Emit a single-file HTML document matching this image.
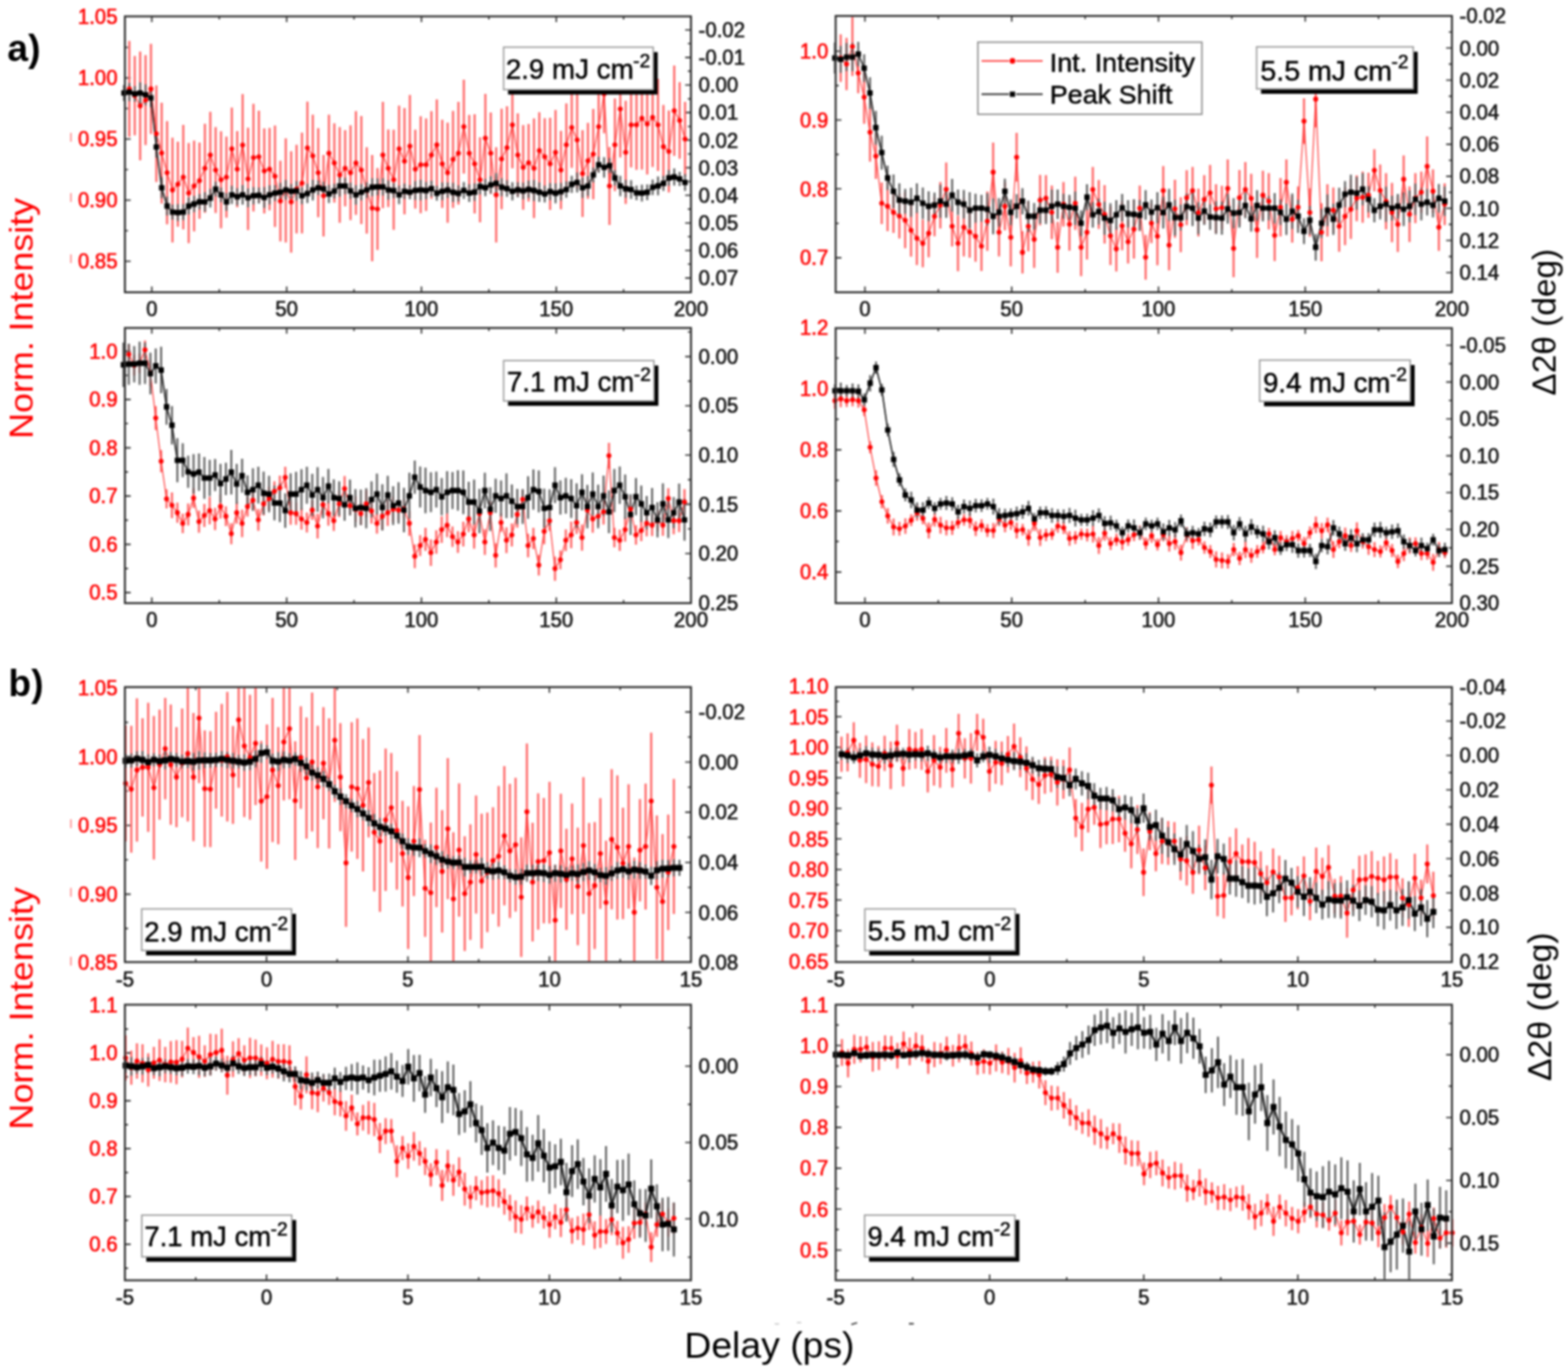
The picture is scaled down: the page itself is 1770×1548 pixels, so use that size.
<!DOCTYPE html>
<html><head><meta charset="utf-8"><title>Figure</title><style>html,body{margin:0;padding:0;background:#fff;}svg{display:block;filter:blur(1px);}</style></head><body>
<svg width="1770" height="1548" viewBox="0 0 1770 1548" font-family='"Liberation Sans", Arial, sans-serif' font-size="23">
<rect width="1770" height="1548" fill="#fff"/>
<g id="a1">
<path d="M171.4 330.0v-6.5M171.4 18.5v6.5M323.6 330.0v-6.5M323.6 18.5v6.5M475.7 330.0v-6.5M475.7 18.5v6.5M627.9 330.0v-6.5M627.9 18.5v6.5M247.5 330.0v-3.5M247.5 18.5v3.5M399.6 330.0v-3.5M399.6 18.5v3.5M551.8 330.0v-3.5M551.8 18.5v3.5M703.9 330.0v-3.5M703.9 18.5v3.5M141.0 295.0h6.5M141.0 226.0h6.5M141.0 157.0h6.5M141.0 88.0h6.5M141.0 260.5h3.5M141.0 191.5h3.5M141.0 122.5h3.5M141.0 53.5h3.5M780.0 33.7h-6.5M780.0 64.9h-6.5M780.0 96.0h-6.5M780.0 127.1h-6.5M780.0 158.3h-6.5M780.0 189.4h-6.5M780.0 220.5h-6.5M780.0 251.7h-6.5M780.0 282.8h-6.5M780.0 313.9h-6.5M780.0 49.3h-3.5M780.0 80.4h-3.5M780.0 111.6h-3.5M780.0 142.7h-3.5M780.0 173.8h-3.5M780.0 205.0h-3.5M780.0 236.1h-3.5M780.0 267.2h-3.5M780.0 298.3h-3.5" stroke="#2e2e2e" stroke-width="1.6" fill="none"/>
<g fill="#111" stroke="#111" stroke-width="0.6"><text x="171.4" y="357.3" text-anchor="middle">0</text><text x="323.6" y="357.3" text-anchor="middle">50</text><text x="475.7" y="357.3" text-anchor="middle">100</text><text x="627.9" y="357.3" text-anchor="middle">150</text><text x="780.0" y="357.3" text-anchor="middle">200</text></g>
<g fill="#ff0000" stroke="#ff0000" stroke-width="0.6"><text x="132.7" y="303.2" text-anchor="end">0.85</text><text x="132.7" y="234.2" text-anchor="end">0.90</text><text x="132.7" y="165.2" text-anchor="end">0.95</text><text x="132.7" y="96.2" text-anchor="end">1.00</text><text x="132.7" y="27.2" text-anchor="end">1.05</text></g>
<g fill="#111" stroke="#111" stroke-width="0.6"><text x="788.5" y="41.9">-0.02</text><text x="788.5" y="73.1">-0.01</text><text x="788.5" y="104.2">0.00</text><text x="788.5" y="135.3">0.01</text><text x="788.5" y="166.5">0.02</text><text x="788.5" y="197.6">0.03</text><text x="788.5" y="228.7">0.04</text><text x="788.5" y="259.9">0.05</text><text x="788.5" y="291.0">0.06</text><text x="788.5" y="322.1">0.07</text></g>
<path d="M146.0 46.2V154.6M152.1 63.3V152.7M158.2 58.3V180.9M164.3 62.3V163.7M170.4 49.5V151.3M176.5 96.4V205.6M182.5 115.9V229.7M188.6 136.7V253.3M194.7 155.4V273.8M200.8 159.9V256.1M206.9 140.9V259.1M213.0 161.5V274.5M219.1 158.7V261.3M225.2 161.0V247.0M231.3 139.7V240.3M237.4 126.2V223.8M243.4 143.4V240.6M249.5 148.2V257.8M255.6 154.2V245.8M261.7 121.5V214.5M267.8 148.1V233.9M273.9 106.2V221.2M280.0 144.2V259.8M286.1 117.3V238.7M292.2 124.9V229.1M298.3 145.1V240.9M304.3 144.5V237.5M310.4 141.7V256.3M316.5 181.5V272.5M322.6 156.2V273.8M328.7 170.7V285.3M334.8 163.5V263.5M340.9 149.8V263.6M347.0 114.7V219.3M353.1 129.5V222.5M359.2 144.8V245.2M365.2 175.0V267.0M371.3 129.6V216.4M377.4 139.2V228.8M383.5 143.6V251.6M389.6 147.0V233.0M395.7 141.5V248.5M401.8 125.6V242.4M407.9 130.9V253.1M414.0 166.2V263.8M420.1 174.9V295.1M426.1 189.8V282.2M432.2 115.1V234.9M438.3 146.3V233.7M444.4 146.4V259.6M450.5 119.2V216.8M456.6 122.0V242.0M462.7 107.2V222.8M468.8 146.4V235.6M474.9 131.2V240.8M481.0 133.8V238.2M487.0 125.5V224.5M493.1 112.3V214.7M499.2 135.3V234.7M505.3 138.4V251.6M511.4 125.2V234.8M517.5 115.0V231.0M523.6 89.9V196.1M529.7 129.7V216.3M535.8 129.0V241.0M541.9 155.0V251.0M547.9 105.9V206.1M554.0 127.1V218.9M560.1 166.3V273.7M566.2 122.7V236.3M572.3 120.0V213.4M578.4 92.1V189.9M584.5 128.0V222.0M590.6 141.2V236.8M596.7 139.9V227.5M602.8 133.8V246.2M608.8 126.7V213.3M614.9 133.4V220.6M621.0 132.9V237.1M627.1 124.2V219.8M633.2 147.7V236.3M639.3 116.7V210.3M645.4 98.5V189.5M651.5 102.9V213.1M657.6 147.0V245.0M663.7 138.8V224.4M669.7 123.0V225.0M675.8 91.6V194.4M681.9 61.5V150.5M688.0 165.9V254.1M694.1 111.3V215.7M700.2 68.3V177.7M706.3 113.8V230.2M712.4 92.9V189.1M718.5 90.3V191.7M724.6 75.7V191.5M730.6 83.0V197.0M736.7 76.7V188.5M742.8 88.9V193.1M748.9 118.4V212.8M755.0 124.7V217.3M761.1 74.0V176.0M767.2 92.8V179.2M773.3 115.1V198.9" stroke="#ff6666" stroke-width="2.4" fill="none" opacity="1.0"/>
<path d="M146.0 100.4L152.1 108.0L158.2 119.6L164.3 113.0L170.4 100.4L176.5 151.0L182.5 172.8L188.6 195.0L194.7 214.6L200.8 208.0L206.9 200.0L213.0 218.0L219.1 210.0L225.2 204.0L231.3 190.0L237.4 175.0L243.4 192.0L249.5 203.0L255.6 200.0L261.7 168.0L267.8 191.0L273.9 163.7L280.0 202.0L286.1 178.0L292.2 177.0L298.3 193.0L304.3 191.0L310.4 199.0L316.5 227.0L322.6 215.0L328.7 228.0L334.8 213.5L340.9 206.7L347.0 167.0L353.1 176.0L359.2 195.0L365.2 221.0L371.3 173.0L377.4 184.0L383.5 197.6L389.6 190.0L395.7 195.0L401.8 184.0L407.9 192.0L414.0 215.0L420.1 235.0L426.1 236.0L432.2 175.0L438.3 190.0L444.4 203.0L450.5 168.0L456.6 182.0L462.7 165.0L468.8 191.0L474.9 186.0L481.0 186.0L487.0 175.0L493.1 163.5L499.2 185.0L505.3 195.0L511.4 180.0L517.5 173.0L523.6 143.0L529.7 173.0L535.8 185.0L541.9 203.0L547.9 156.0L554.0 173.0L560.1 220.0L566.2 179.5L572.3 166.7L578.4 141.0L584.5 175.0L590.6 189.0L596.7 183.7L602.8 190.0L608.8 170.0L614.9 177.0L621.0 185.0L627.1 172.0L633.2 192.0L639.3 163.5L645.4 144.0L651.5 158.0L657.6 196.0L663.7 181.6L669.7 174.0L675.8 143.0L681.9 106.0L688.0 210.0L694.1 163.5L700.2 123.0L706.3 172.0L712.4 141.0L718.5 141.0L724.6 133.6L730.6 140.0L736.7 132.6L742.8 141.0L748.9 165.6L755.0 171.0L761.1 125.0L767.2 136.0L773.3 157.0" stroke="#ff2a2a" stroke-width="1.1" fill="none"/>
<path d="M139.9 96.1V113.9M146.0 93.8V114.2M152.1 97.2V114.8M158.2 93.1V116.9M164.3 95.3V118.7M170.4 100.3V120.9M176.5 154.1V177.9M182.5 200.3V223.7M188.6 222.1V243.3M194.7 231.0V248.0M200.8 230.6V249.4M206.9 230.5V248.5M213.0 223.1V242.3M219.1 221.3V239.5M225.2 219.1V236.5M231.3 217.1V238.9M237.4 213.2V234.2M243.4 205.3V221.7M249.5 211.8V228.2M255.6 218.0V238.0M261.7 209.7V230.3M267.8 212.5V231.8M273.9 209.1V230.9M280.0 212.7V233.9M286.1 211.2V230.8M292.2 211.7V229.7M298.3 211.2V234.8M304.3 209.2V230.8M310.4 209.0V227.1M316.5 206.6V227.4M322.6 203.2V225.6M328.7 207.8V224.2M334.8 204.5V226.6M340.9 211.6V230.4M347.0 207.6V229.3M353.1 203.0V226.2M359.2 203.7V220.3M365.2 205.2V221.4M371.3 208.7V229.3M377.4 207.4V224.0M383.5 198.2V221.9M389.6 200.7V219.3M395.7 206.2V224.6M401.8 209.1V230.9M407.9 207.7V226.2M414.0 205.8V223.4M420.1 201.2V221.5M426.1 201.4V220.6M432.2 201.3V220.7M438.3 203.7V225.5M444.4 206.7V223.7M450.5 209.4V230.6M456.6 207.3V224.7M462.7 208.9V225.1M468.8 204.4V225.7M474.9 202.9V226.3M481.0 205.4V224.9M487.0 203.9V222.0M493.1 209.8V226.5M499.2 206.1V225.9M505.3 206.0V223.4M511.4 206.4V227.9M517.5 209.2V227.5M523.6 205.6V224.5M529.7 207.9V228.1M535.8 207.0V226.7M541.9 201.8V219.4M547.9 202.1V221.6M554.0 198.9V218.5M560.1 195.6V218.4M566.2 201.3V221.4M572.3 203.6V222.3M578.4 205.7V226.3M584.5 205.8V222.8M590.6 206.2V224.9M596.7 204.1V223.6M602.8 203.2V227.0M608.8 206.0V228.0M614.9 209.5V228.5M621.0 206.8V225.9M627.1 207.0V229.4M633.2 206.5V226.5M639.3 204.8V223.2M645.4 198.4V217.8M651.5 194.7V217.3M657.6 200.4V223.6M663.7 198.7V221.3M669.7 189.2V206.0M675.8 177.0V195.0M681.9 177.5V200.5M688.0 178.4V195.6M694.1 192.1V209.5M700.2 198.4V221.6M706.3 203.1V223.3M712.4 203.5V224.5M718.5 209.4V226.1M724.6 208.4V227.6M730.6 208.3V226.0M736.7 202.8V220.2M742.8 199.3V220.5M748.9 198.6V215.4M755.0 191.9V209.7M761.1 190.2V209.4M767.2 193.9V210.1M773.3 196.6V215.4" stroke="#5e5e5e" stroke-width="2.2" fill="none" opacity="1.0"/>
<path d="M139.9 105.0L146.0 104.0L152.1 106.0L158.2 105.0L164.3 107.0L170.4 110.6L176.5 166.0L182.5 212.0L188.6 232.7L194.7 239.5L200.8 240.0L206.9 239.5L213.0 232.7L219.1 230.4L225.2 227.8L231.3 228.0L237.4 223.7L243.4 213.5L249.5 220.0L255.6 228.0L261.7 220.0L267.8 222.1L273.9 220.0L280.0 223.3L286.1 221.0L292.2 220.7L298.3 223.0L304.3 220.0L310.4 218.1L316.5 217.0L322.6 214.4L328.7 216.0L334.8 215.6L340.9 221.0L347.0 218.5L353.1 214.6L359.2 212.0L365.2 213.3L371.3 219.0L377.4 215.7L383.5 210.1L389.6 210.0L395.7 215.4L401.8 220.0L407.9 216.9L414.0 214.6L420.1 211.3L426.1 211.0L432.2 211.0L438.3 214.6L444.4 215.2L450.5 220.0L456.6 216.0L462.7 217.0L468.8 215.0L474.9 214.6L481.0 215.1L487.0 212.9L493.1 218.2L499.2 216.0L505.3 214.7L511.4 217.2L517.5 218.4L523.6 215.1L529.7 218.0L535.8 216.8L541.9 210.6L547.9 211.9L554.0 208.7L560.1 207.0L566.2 211.4L572.3 212.9L578.4 216.0L584.5 214.3L590.6 215.5L596.7 213.9L602.8 215.1L608.8 217.0L614.9 219.0L621.0 216.3L627.1 218.2L633.2 216.5L639.3 214.0L645.4 208.1L651.5 206.0L657.6 212.0L663.7 210.0L669.7 197.6L675.8 186.0L681.9 189.0L688.0 187.0L694.1 200.8L700.2 210.0L706.3 213.2L712.4 214.0L718.5 217.8L724.6 218.0L730.6 217.1L736.7 211.5L742.8 209.9L748.9 207.0L755.0 200.8L761.1 199.8L767.2 202.0L773.3 206.0" stroke="#1a1a1a" stroke-width="1.6" fill="none"/>
<path d="M143.2 100.4a2.8 2.8 0 1 0 5.6 0a2.8 2.8 0 1 0 -5.6 0M149.3 108.0a2.8 2.8 0 1 0 5.6 0a2.8 2.8 0 1 0 -5.6 0M155.4 119.6a2.8 2.8 0 1 0 5.6 0a2.8 2.8 0 1 0 -5.6 0M161.5 113.0a2.8 2.8 0 1 0 5.6 0a2.8 2.8 0 1 0 -5.6 0M167.6 100.4a2.8 2.8 0 1 0 5.6 0a2.8 2.8 0 1 0 -5.6 0M173.7 151.0a2.8 2.8 0 1 0 5.6 0a2.8 2.8 0 1 0 -5.6 0M179.7 172.8a2.8 2.8 0 1 0 5.6 0a2.8 2.8 0 1 0 -5.6 0M185.8 195.0a2.8 2.8 0 1 0 5.6 0a2.8 2.8 0 1 0 -5.6 0M191.9 214.6a2.8 2.8 0 1 0 5.6 0a2.8 2.8 0 1 0 -5.6 0M198.0 208.0a2.8 2.8 0 1 0 5.6 0a2.8 2.8 0 1 0 -5.6 0M204.1 200.0a2.8 2.8 0 1 0 5.6 0a2.8 2.8 0 1 0 -5.6 0M210.2 218.0a2.8 2.8 0 1 0 5.6 0a2.8 2.8 0 1 0 -5.6 0M216.3 210.0a2.8 2.8 0 1 0 5.6 0a2.8 2.8 0 1 0 -5.6 0M222.4 204.0a2.8 2.8 0 1 0 5.6 0a2.8 2.8 0 1 0 -5.6 0M228.5 190.0a2.8 2.8 0 1 0 5.6 0a2.8 2.8 0 1 0 -5.6 0M234.6 175.0a2.8 2.8 0 1 0 5.6 0a2.8 2.8 0 1 0 -5.6 0M240.6 192.0a2.8 2.8 0 1 0 5.6 0a2.8 2.8 0 1 0 -5.6 0M246.7 203.0a2.8 2.8 0 1 0 5.6 0a2.8 2.8 0 1 0 -5.6 0M252.8 200.0a2.8 2.8 0 1 0 5.6 0a2.8 2.8 0 1 0 -5.6 0M258.9 168.0a2.8 2.8 0 1 0 5.6 0a2.8 2.8 0 1 0 -5.6 0M265.0 191.0a2.8 2.8 0 1 0 5.6 0a2.8 2.8 0 1 0 -5.6 0M271.1 163.7a2.8 2.8 0 1 0 5.6 0a2.8 2.8 0 1 0 -5.6 0M277.2 202.0a2.8 2.8 0 1 0 5.6 0a2.8 2.8 0 1 0 -5.6 0M283.3 178.0a2.8 2.8 0 1 0 5.6 0a2.8 2.8 0 1 0 -5.6 0M289.4 177.0a2.8 2.8 0 1 0 5.6 0a2.8 2.8 0 1 0 -5.6 0M295.5 193.0a2.8 2.8 0 1 0 5.6 0a2.8 2.8 0 1 0 -5.6 0M301.5 191.0a2.8 2.8 0 1 0 5.6 0a2.8 2.8 0 1 0 -5.6 0M307.6 199.0a2.8 2.8 0 1 0 5.6 0a2.8 2.8 0 1 0 -5.6 0M313.7 227.0a2.8 2.8 0 1 0 5.6 0a2.8 2.8 0 1 0 -5.6 0M319.8 215.0a2.8 2.8 0 1 0 5.6 0a2.8 2.8 0 1 0 -5.6 0M325.9 228.0a2.8 2.8 0 1 0 5.6 0a2.8 2.8 0 1 0 -5.6 0M332.0 213.5a2.8 2.8 0 1 0 5.6 0a2.8 2.8 0 1 0 -5.6 0M338.1 206.7a2.8 2.8 0 1 0 5.6 0a2.8 2.8 0 1 0 -5.6 0M344.2 167.0a2.8 2.8 0 1 0 5.6 0a2.8 2.8 0 1 0 -5.6 0M350.3 176.0a2.8 2.8 0 1 0 5.6 0a2.8 2.8 0 1 0 -5.6 0M356.4 195.0a2.8 2.8 0 1 0 5.6 0a2.8 2.8 0 1 0 -5.6 0M362.4 221.0a2.8 2.8 0 1 0 5.6 0a2.8 2.8 0 1 0 -5.6 0M368.5 173.0a2.8 2.8 0 1 0 5.6 0a2.8 2.8 0 1 0 -5.6 0M374.6 184.0a2.8 2.8 0 1 0 5.6 0a2.8 2.8 0 1 0 -5.6 0M380.7 197.6a2.8 2.8 0 1 0 5.6 0a2.8 2.8 0 1 0 -5.6 0M386.8 190.0a2.8 2.8 0 1 0 5.6 0a2.8 2.8 0 1 0 -5.6 0M392.9 195.0a2.8 2.8 0 1 0 5.6 0a2.8 2.8 0 1 0 -5.6 0M399.0 184.0a2.8 2.8 0 1 0 5.6 0a2.8 2.8 0 1 0 -5.6 0M405.1 192.0a2.8 2.8 0 1 0 5.6 0a2.8 2.8 0 1 0 -5.6 0M411.2 215.0a2.8 2.8 0 1 0 5.6 0a2.8 2.8 0 1 0 -5.6 0M417.3 235.0a2.8 2.8 0 1 0 5.6 0a2.8 2.8 0 1 0 -5.6 0M423.3 236.0a2.8 2.8 0 1 0 5.6 0a2.8 2.8 0 1 0 -5.6 0M429.4 175.0a2.8 2.8 0 1 0 5.6 0a2.8 2.8 0 1 0 -5.6 0M435.5 190.0a2.8 2.8 0 1 0 5.6 0a2.8 2.8 0 1 0 -5.6 0M441.6 203.0a2.8 2.8 0 1 0 5.6 0a2.8 2.8 0 1 0 -5.6 0M447.7 168.0a2.8 2.8 0 1 0 5.6 0a2.8 2.8 0 1 0 -5.6 0M453.8 182.0a2.8 2.8 0 1 0 5.6 0a2.8 2.8 0 1 0 -5.6 0M459.9 165.0a2.8 2.8 0 1 0 5.6 0a2.8 2.8 0 1 0 -5.6 0M466.0 191.0a2.8 2.8 0 1 0 5.6 0a2.8 2.8 0 1 0 -5.6 0M472.1 186.0a2.8 2.8 0 1 0 5.6 0a2.8 2.8 0 1 0 -5.6 0M478.2 186.0a2.8 2.8 0 1 0 5.6 0a2.8 2.8 0 1 0 -5.6 0M484.2 175.0a2.8 2.8 0 1 0 5.6 0a2.8 2.8 0 1 0 -5.6 0M490.3 163.5a2.8 2.8 0 1 0 5.6 0a2.8 2.8 0 1 0 -5.6 0M496.4 185.0a2.8 2.8 0 1 0 5.6 0a2.8 2.8 0 1 0 -5.6 0M502.5 195.0a2.8 2.8 0 1 0 5.6 0a2.8 2.8 0 1 0 -5.6 0M508.6 180.0a2.8 2.8 0 1 0 5.6 0a2.8 2.8 0 1 0 -5.6 0M514.7 173.0a2.8 2.8 0 1 0 5.6 0a2.8 2.8 0 1 0 -5.6 0M520.8 143.0a2.8 2.8 0 1 0 5.6 0a2.8 2.8 0 1 0 -5.6 0M526.9 173.0a2.8 2.8 0 1 0 5.6 0a2.8 2.8 0 1 0 -5.6 0M533.0 185.0a2.8 2.8 0 1 0 5.6 0a2.8 2.8 0 1 0 -5.6 0M539.1 203.0a2.8 2.8 0 1 0 5.6 0a2.8 2.8 0 1 0 -5.6 0M545.1 156.0a2.8 2.8 0 1 0 5.6 0a2.8 2.8 0 1 0 -5.6 0M551.2 173.0a2.8 2.8 0 1 0 5.6 0a2.8 2.8 0 1 0 -5.6 0M557.3 220.0a2.8 2.8 0 1 0 5.6 0a2.8 2.8 0 1 0 -5.6 0M563.4 179.5a2.8 2.8 0 1 0 5.6 0a2.8 2.8 0 1 0 -5.6 0M569.5 166.7a2.8 2.8 0 1 0 5.6 0a2.8 2.8 0 1 0 -5.6 0M575.6 141.0a2.8 2.8 0 1 0 5.6 0a2.8 2.8 0 1 0 -5.6 0M581.7 175.0a2.8 2.8 0 1 0 5.6 0a2.8 2.8 0 1 0 -5.6 0M587.8 189.0a2.8 2.8 0 1 0 5.6 0a2.8 2.8 0 1 0 -5.6 0M593.9 183.7a2.8 2.8 0 1 0 5.6 0a2.8 2.8 0 1 0 -5.6 0M600.0 190.0a2.8 2.8 0 1 0 5.6 0a2.8 2.8 0 1 0 -5.6 0M606.0 170.0a2.8 2.8 0 1 0 5.6 0a2.8 2.8 0 1 0 -5.6 0M612.1 177.0a2.8 2.8 0 1 0 5.6 0a2.8 2.8 0 1 0 -5.6 0M618.2 185.0a2.8 2.8 0 1 0 5.6 0a2.8 2.8 0 1 0 -5.6 0M624.3 172.0a2.8 2.8 0 1 0 5.6 0a2.8 2.8 0 1 0 -5.6 0M630.4 192.0a2.8 2.8 0 1 0 5.6 0a2.8 2.8 0 1 0 -5.6 0M636.5 163.5a2.8 2.8 0 1 0 5.6 0a2.8 2.8 0 1 0 -5.6 0M642.6 144.0a2.8 2.8 0 1 0 5.6 0a2.8 2.8 0 1 0 -5.6 0M648.7 158.0a2.8 2.8 0 1 0 5.6 0a2.8 2.8 0 1 0 -5.6 0M654.8 196.0a2.8 2.8 0 1 0 5.6 0a2.8 2.8 0 1 0 -5.6 0M660.9 181.6a2.8 2.8 0 1 0 5.6 0a2.8 2.8 0 1 0 -5.6 0M666.9 174.0a2.8 2.8 0 1 0 5.6 0a2.8 2.8 0 1 0 -5.6 0M673.0 143.0a2.8 2.8 0 1 0 5.6 0a2.8 2.8 0 1 0 -5.6 0M679.1 106.0a2.8 2.8 0 1 0 5.6 0a2.8 2.8 0 1 0 -5.6 0M685.2 210.0a2.8 2.8 0 1 0 5.6 0a2.8 2.8 0 1 0 -5.6 0M691.3 163.5a2.8 2.8 0 1 0 5.6 0a2.8 2.8 0 1 0 -5.6 0M697.4 123.0a2.8 2.8 0 1 0 5.6 0a2.8 2.8 0 1 0 -5.6 0M703.5 172.0a2.8 2.8 0 1 0 5.6 0a2.8 2.8 0 1 0 -5.6 0M709.6 141.0a2.8 2.8 0 1 0 5.6 0a2.8 2.8 0 1 0 -5.6 0M715.7 141.0a2.8 2.8 0 1 0 5.6 0a2.8 2.8 0 1 0 -5.6 0M721.8 133.6a2.8 2.8 0 1 0 5.6 0a2.8 2.8 0 1 0 -5.6 0M727.8 140.0a2.8 2.8 0 1 0 5.6 0a2.8 2.8 0 1 0 -5.6 0M733.9 132.6a2.8 2.8 0 1 0 5.6 0a2.8 2.8 0 1 0 -5.6 0M740.0 141.0a2.8 2.8 0 1 0 5.6 0a2.8 2.8 0 1 0 -5.6 0M746.1 165.6a2.8 2.8 0 1 0 5.6 0a2.8 2.8 0 1 0 -5.6 0M752.2 171.0a2.8 2.8 0 1 0 5.6 0a2.8 2.8 0 1 0 -5.6 0M758.3 125.0a2.8 2.8 0 1 0 5.6 0a2.8 2.8 0 1 0 -5.6 0M764.4 136.0a2.8 2.8 0 1 0 5.6 0a2.8 2.8 0 1 0 -5.6 0M770.5 157.0a2.8 2.8 0 1 0 5.6 0a2.8 2.8 0 1 0 -5.6 0" fill="#ff0000"/>
<path d="M136.9 102.0h6.1v6.1h-6.1zM143.0 101.0h6.1v6.1h-6.1zM149.0 103.0h6.1v6.1h-6.1zM155.1 102.0h6.1v6.1h-6.1zM161.2 104.0h6.1v6.1h-6.1zM167.3 107.5h6.1v6.1h-6.1zM173.4 162.9h6.1v6.1h-6.1zM179.5 208.9h6.1v6.1h-6.1zM185.6 229.6h6.1v6.1h-6.1zM191.7 236.4h6.1v6.1h-6.1zM197.8 236.9h6.1v6.1h-6.1zM203.9 236.4h6.1v6.1h-6.1zM209.9 229.6h6.1v6.1h-6.1zM216.0 227.3h6.1v6.1h-6.1zM222.1 224.8h6.1v6.1h-6.1zM228.2 224.9h6.1v6.1h-6.1zM234.3 220.6h6.1v6.1h-6.1zM240.4 210.4h6.1v6.1h-6.1zM246.5 216.9h6.1v6.1h-6.1zM252.6 224.9h6.1v6.1h-6.1zM258.7 216.9h6.1v6.1h-6.1zM264.8 219.1h6.1v6.1h-6.1zM270.8 216.9h6.1v6.1h-6.1zM276.9 220.2h6.1v6.1h-6.1zM283.0 217.9h6.1v6.1h-6.1zM289.1 217.6h6.1v6.1h-6.1zM295.2 220.0h6.1v6.1h-6.1zM301.3 216.9h6.1v6.1h-6.1zM307.4 215.0h6.1v6.1h-6.1zM313.5 213.9h6.1v6.1h-6.1zM319.6 211.4h6.1v6.1h-6.1zM325.7 212.9h6.1v6.1h-6.1zM331.7 212.5h6.1v6.1h-6.1zM337.8 217.9h6.1v6.1h-6.1zM343.9 215.4h6.1v6.1h-6.1zM350.0 211.5h6.1v6.1h-6.1zM356.1 208.9h6.1v6.1h-6.1zM362.2 210.2h6.1v6.1h-6.1zM368.3 215.9h6.1v6.1h-6.1zM374.4 212.7h6.1v6.1h-6.1zM380.5 207.0h6.1v6.1h-6.1zM386.6 206.9h6.1v6.1h-6.1zM392.6 212.4h6.1v6.1h-6.1zM398.7 216.9h6.1v6.1h-6.1zM404.8 213.9h6.1v6.1h-6.1zM410.9 211.5h6.1v6.1h-6.1zM417.0 208.3h6.1v6.1h-6.1zM423.1 207.9h6.1v6.1h-6.1zM429.2 208.0h6.1v6.1h-6.1zM435.3 211.5h6.1v6.1h-6.1zM441.4 212.2h6.1v6.1h-6.1zM447.5 216.9h6.1v6.1h-6.1zM453.5 212.9h6.1v6.1h-6.1zM459.6 213.9h6.1v6.1h-6.1zM465.7 212.0h6.1v6.1h-6.1zM471.8 211.5h6.1v6.1h-6.1zM477.9 212.1h6.1v6.1h-6.1zM484.0 209.9h6.1v6.1h-6.1zM490.1 215.1h6.1v6.1h-6.1zM496.2 212.9h6.1v6.1h-6.1zM502.3 211.6h6.1v6.1h-6.1zM508.4 214.1h6.1v6.1h-6.1zM514.4 215.3h6.1v6.1h-6.1zM520.5 212.0h6.1v6.1h-6.1zM526.6 214.9h6.1v6.1h-6.1zM532.7 213.8h6.1v6.1h-6.1zM538.8 207.6h6.1v6.1h-6.1zM544.9 208.8h6.1v6.1h-6.1zM551.0 205.7h6.1v6.1h-6.1zM557.1 203.9h6.1v6.1h-6.1zM563.2 208.3h6.1v6.1h-6.1zM569.3 209.9h6.1v6.1h-6.1zM575.3 212.9h6.1v6.1h-6.1zM581.4 211.3h6.1v6.1h-6.1zM587.5 212.5h6.1v6.1h-6.1zM593.6 210.8h6.1v6.1h-6.1zM599.7 212.1h6.1v6.1h-6.1zM605.8 213.9h6.1v6.1h-6.1zM611.9 216.0h6.1v6.1h-6.1zM618.0 213.3h6.1v6.1h-6.1zM624.1 215.1h6.1v6.1h-6.1zM630.2 213.4h6.1v6.1h-6.1zM636.2 210.9h6.1v6.1h-6.1zM642.3 205.1h6.1v6.1h-6.1zM648.4 202.9h6.1v6.1h-6.1zM654.5 208.9h6.1v6.1h-6.1zM660.6 206.9h6.1v6.1h-6.1zM666.7 194.5h6.1v6.1h-6.1zM672.8 182.9h6.1v6.1h-6.1zM678.9 185.9h6.1v6.1h-6.1zM685.0 183.9h6.1v6.1h-6.1zM691.1 197.8h6.1v6.1h-6.1zM697.1 206.9h6.1v6.1h-6.1zM703.2 210.1h6.1v6.1h-6.1zM709.3 210.9h6.1v6.1h-6.1zM715.4 214.7h6.1v6.1h-6.1zM721.5 214.9h6.1v6.1h-6.1zM727.6 214.1h6.1v6.1h-6.1zM733.7 208.4h6.1v6.1h-6.1zM739.8 206.8h6.1v6.1h-6.1zM745.9 203.9h6.1v6.1h-6.1zM752.0 197.8h6.1v6.1h-6.1zM758.0 196.8h6.1v6.1h-6.1zM764.1 198.9h6.1v6.1h-6.1zM770.2 202.9h6.1v6.1h-6.1z" fill="#000"/>
<rect x="141.0" y="18.5" width="639.0" height="311.5" fill="none" stroke="#2e2e2e" stroke-width="2.2"/>
</g>
<g id="a2">
<path d="M976.4 330.0v-6.5M976.4 18.0v6.5M1142.1 330.0v-6.5M1142.1 18.0v6.5M1307.7 330.0v-6.5M1307.7 18.0v6.5M1473.4 330.0v-6.5M1473.4 18.0v6.5M1059.2 330.0v-3.5M1059.2 18.0v3.5M1224.9 330.0v-3.5M1224.9 18.0v3.5M1390.5 330.0v-3.5M1390.5 18.0v3.5M1556.2 330.0v-3.5M1556.2 18.0v3.5M943.3 291.1h6.5M943.3 213.3h6.5M943.3 135.5h6.5M943.3 57.7h6.5M943.3 252.2h3.5M943.3 174.4h3.5M943.3 96.6h3.5M1639.0 54.3h-6.5M1639.0 90.5h-6.5M1639.0 126.7h-6.5M1639.0 162.9h-6.5M1639.0 199.1h-6.5M1639.0 235.3h-6.5M1639.0 271.5h-6.5M1639.0 307.7h-6.5M1639.0 36.2h-3.5M1639.0 72.4h-3.5M1639.0 108.6h-3.5M1639.0 144.8h-3.5M1639.0 181.0h-3.5M1639.0 217.2h-3.5M1639.0 253.4h-3.5M1639.0 289.6h-3.5" stroke="#2e2e2e" stroke-width="1.6" fill="none"/>
<g fill="#111" stroke="#111" stroke-width="0.6"><text x="976.4" y="357.3" text-anchor="middle">0</text><text x="1142.1" y="357.3" text-anchor="middle">50</text><text x="1307.7" y="357.3" text-anchor="middle">100</text><text x="1473.4" y="357.3" text-anchor="middle">150</text><text x="1639.0" y="357.3" text-anchor="middle">200</text></g>
<g fill="#ff0000" stroke="#ff0000" stroke-width="0.6"><text x="935.0" y="299.3" text-anchor="end">0.7</text><text x="935.0" y="221.5" text-anchor="end">0.8</text><text x="935.0" y="143.7" text-anchor="end">0.9</text><text x="935.0" y="65.9" text-anchor="end">1.0</text></g>
<g fill="#111" stroke="#111" stroke-width="0.6"><text x="1647.5" y="26.3">-0.02</text><text x="1647.5" y="62.5">0.00</text><text x="1647.5" y="98.7">0.02</text><text x="1647.5" y="134.9">0.04</text><text x="1647.5" y="171.1">0.06</text><text x="1647.5" y="207.3">0.08</text><text x="1647.5" y="243.5">0.10</text><text x="1647.5" y="279.7">0.12</text><text x="1647.5" y="315.9">0.14</text></g>
<path d="M949.0 38.7V92.5M955.6 42.8V101.8M962.2 19.2V85.8M968.8 59.7V105.3M975.5 79.7V139.7M982.1 115.8V182.6M988.7 150.7V201.9M995.3 205.9V253.1M1001.9 204.9V260.9M1008.6 216.4V263.0M1015.2 218.8V269.2M1021.8 217.1V280.3M1028.4 230.2V289.8M1035.0 238.8V299.2M1041.7 247.7V301.7M1048.3 236.4V290.4M1054.9 221.7V266.7M1061.5 205.5V257.9M1068.1 183.6V243.8M1074.8 232.8V278.2M1081.4 243.2V306.2M1088.0 223.6V289.6M1094.6 233.0V291.0M1101.2 238.1V295.5M1107.9 249.9V306.1M1114.5 216.3V283.3M1121.1 160.9V227.9M1127.7 235.0V289.6M1134.3 205.7V260.1M1141.0 235.2V300.8M1147.6 149.9V205.1M1154.2 261.1V308.7M1160.8 227.3V283.7M1167.4 238.0V302.4M1174.1 197.5V254.5M1180.7 197.8V249.8M1187.3 209.5V269.9M1193.9 250.5V307.9M1200.5 205.5V255.7M1207.2 223.5V282.9M1213.8 199.4V259.6M1220.4 246.6V311.8M1227.0 231.5V293.1M1233.6 188.5V239.5M1240.3 203.2V258.4M1246.9 209.1V274.9M1253.5 233.1V299.3M1260.1 255.7V306.5M1266.7 227.5V282.5M1273.4 248.5V297.5M1280.0 225.6V292.0M1286.6 209.5V260.7M1293.2 265.2V315.8M1299.8 229.5V274.5M1306.5 234.2V299.4M1313.1 187.5V243.1M1319.7 248.3V305.3M1326.3 203.0V268.6M1332.9 222.8V284.8M1339.6 192.3V254.3M1346.2 188.6V242.0M1352.8 213.1V266.9M1359.4 197.8V252.6M1366.0 186.3V249.1M1372.7 208.0V263.6M1379.3 209.7V259.3M1385.9 180.1V245.5M1392.5 248.1V312.9M1399.1 192.1V254.5M1405.8 182.9V245.1M1412.4 196.3V251.7M1419.0 227.6V291.2M1425.6 192.8V248.0M1432.2 195.5V258.9M1438.9 236.6V294.8M1445.5 201.0V267.0M1452.1 179.9V231.5M1458.7 221.1V274.1M1465.3 210.5V257.5M1472.0 111.1V162.5M1478.6 212.7V267.3M1485.2 80.1V143.7M1491.8 229.5V295.1M1498.4 207.9V266.9M1505.1 211.7V263.1M1511.7 226.7V284.3M1518.3 211.6V276.8M1524.9 202.8V269.8M1531.5 197.9V249.7M1538.2 193.8V251.6M1544.8 194.9V245.9M1551.4 168.4V216.0M1558.0 185.7V244.3M1564.6 195.4V259.0M1571.3 206.5V273.5M1577.9 221.8V284.6M1584.5 175.5V229.3M1591.1 210.5V273.3M1597.7 195.6V252.0M1604.4 193.7V240.3M1611.0 154.1V221.3M1617.6 191.3V240.5M1624.2 229.9V283.3M1630.8 206.9V254.3" stroke="#ff6666" stroke-width="2.4" fill="none" opacity="1.0"/>
<path d="M949.0 65.6L955.6 72.3L962.2 52.5L968.8 82.5L975.5 109.7L982.1 149.2L988.7 176.3L995.3 229.5L1001.9 232.9L1008.6 239.7L1015.2 244.0L1021.8 248.7L1028.4 260.0L1035.0 269.0L1041.7 274.7L1048.3 263.4L1054.9 244.2L1061.5 231.7L1068.1 213.7L1074.8 255.5L1081.4 274.7L1088.0 256.6L1094.6 262.0L1101.2 266.8L1107.9 278.0L1114.5 249.8L1121.1 194.4L1127.7 262.3L1134.3 232.9L1141.0 268.0L1147.6 177.5L1154.2 284.9L1160.8 255.5L1167.4 270.2L1174.1 226.0L1180.7 223.8L1187.3 239.7L1193.9 279.2L1200.5 230.6L1207.2 253.2L1213.8 229.5L1220.4 279.2L1227.0 262.3L1233.6 214.0L1240.3 230.8L1246.9 242.0L1253.5 266.2L1260.1 281.1L1266.7 255.0L1273.4 273.0L1280.0 258.8L1286.6 235.1L1293.2 290.5L1299.8 252.0L1306.5 266.8L1313.1 215.3L1319.7 276.8L1326.3 235.8L1332.9 253.8L1339.6 223.3L1346.2 215.3L1352.8 240.0L1359.4 225.2L1366.0 217.7L1372.7 235.8L1379.3 234.5L1385.9 212.8L1392.5 280.5L1399.1 223.3L1405.8 214.0L1412.4 224.0L1419.0 259.4L1425.6 220.4L1432.2 227.2L1438.9 265.7L1445.5 234.0L1452.1 205.7L1458.7 247.6L1465.3 234.0L1472.0 136.8L1478.6 240.0L1485.2 111.9L1491.8 262.3L1498.4 237.4L1505.1 237.4L1511.7 255.5L1518.3 244.2L1524.9 236.3L1531.5 223.8L1538.2 222.7L1544.8 220.4L1551.4 192.2L1558.0 215.0L1564.6 227.2L1571.3 240.0L1577.9 253.2L1584.5 202.4L1591.1 241.9L1597.7 223.8L1604.4 217.0L1611.0 187.7L1617.6 215.9L1624.2 256.6L1630.8 230.6" stroke="#ff2a2a" stroke-width="1.1" fill="none"/>
<path d="M942.4 48.1V83.1M949.0 51.7V82.2M955.6 48.6V80.2M962.2 48.5V80.3M968.8 47.2V74.8M975.5 61.2V92.6M982.1 87.2V123.0M988.7 125.2V163.2M995.3 153.2V191.4M1001.9 187.0V214.6M1008.6 196.9V235.1M1015.2 206.9V245.1M1021.8 213.2V241.2M1028.4 212.1V244.7M1035.0 207.0V240.6M1041.7 211.7V247.3M1048.3 216.0V249.8M1054.9 217.6V245.8M1061.5 208.5V245.9M1068.1 215.2V246.0M1074.8 201.9V238.9M1081.4 214.1V242.7M1088.0 214.5V246.7M1094.6 217.1V257.7M1101.2 218.8V251.4M1107.9 220.0V250.2M1114.5 218.2V254.4M1121.1 224.0V264.4M1127.7 223.7V255.7M1134.3 201.7V230.3M1141.0 225.2V254.2M1147.6 219.2V246.6M1154.2 212.4V242.0M1160.8 226.5V261.9M1167.4 229.2V259.2M1174.1 222.2V252.6M1180.7 221.7V253.1M1187.3 213.9V251.9M1193.9 214.0V247.2M1200.5 218.8V247.0M1207.2 220.0V248.0M1213.8 216.3V253.9M1220.4 237.4V266.6M1227.0 208.0V237.4M1233.6 228.3V256.9M1240.3 224.2V253.6M1246.9 227.7V264.9M1253.5 229.4V268.2M1260.1 225.9V259.3M1266.7 218.9V250.1M1273.4 226.1V256.7M1280.0 225.1V258.9M1286.6 225.8V260.6M1293.2 214.7V248.1M1299.8 225.3V253.7M1306.5 217.1V251.9M1313.1 222.3V257.9M1319.7 213.3V249.5M1326.3 225.4V266.0M1332.9 231.1V260.3M1339.6 218.4V248.2M1346.2 214.9V255.3M1352.8 228.2V264.4M1359.4 222.6V254.0M1366.0 230.7V259.5M1372.7 227.2V264.2M1379.3 227.5V265.1M1385.9 219.0V252.6M1392.5 223.7V257.7M1399.1 223.3V256.9M1405.8 217.4V246.6M1412.4 232.6V261.4M1419.0 214.7V249.3M1425.6 220.3V249.9M1432.2 221.4V248.8M1438.9 217.9V252.3M1445.5 225.3V254.1M1452.1 230.0V265.2M1458.7 218.4V258.6M1465.3 225.4V263.0M1472.0 246.6V275.6M1478.6 232.6V264.8M1485.2 264.2V294.2M1491.8 235.8V268.4M1498.4 219.6V255.2M1505.1 229.9V265.3M1511.7 212.0V251.4M1518.3 204.5V234.1M1524.9 197.3V236.7M1531.5 199.7V236.7M1538.2 195.6V231.8M1544.8 210.2V239.8M1551.4 223.7V251.1M1558.0 218.1V247.7M1564.6 210.7V250.5M1571.3 221.1V249.1M1577.9 218.9V246.9M1584.5 217.3V255.3M1591.1 214.9V250.9M1597.7 207.3V242.7M1604.4 212.5V248.7M1611.0 213.6V243.2M1617.6 217.9V245.5M1624.2 207.7V239.9M1630.8 210.6V243.8" stroke="#5e5e5e" stroke-width="2.2" fill="none" opacity="1.0"/>
<path d="M942.4 65.6L949.0 66.9L955.6 64.4L962.2 64.4L968.8 61.0L975.5 76.9L982.1 105.1L988.7 144.2L995.3 172.3L1001.9 200.8L1008.6 216.0L1015.2 226.0L1021.8 227.2L1028.4 228.4L1035.0 223.8L1041.7 229.5L1048.3 232.9L1054.9 231.7L1061.5 227.2L1068.1 230.6L1074.8 220.4L1081.4 228.4L1088.0 230.6L1094.6 237.4L1101.2 235.1L1107.9 235.1L1114.5 236.3L1121.1 244.2L1127.7 239.7L1134.3 216.0L1141.0 239.7L1147.6 232.9L1154.2 227.2L1160.8 244.2L1167.4 244.2L1174.1 237.4L1180.7 237.4L1187.3 232.9L1193.9 230.6L1200.5 232.9L1207.2 234.0L1213.8 235.1L1220.4 252.0L1227.0 222.7L1233.6 242.6L1240.3 238.9L1246.9 246.3L1253.5 248.8L1260.1 242.6L1266.7 234.5L1273.4 241.4L1280.0 242.0L1286.6 243.2L1293.2 231.4L1299.8 239.5L1306.5 234.5L1313.1 240.1L1319.7 231.4L1326.3 245.7L1332.9 245.7L1339.6 233.3L1346.2 235.1L1352.8 246.3L1359.4 238.3L1366.0 245.1L1372.7 245.7L1379.3 246.3L1385.9 235.8L1392.5 240.7L1399.1 240.1L1405.8 232.0L1412.4 247.0L1419.0 232.0L1425.6 235.1L1432.2 235.1L1438.9 235.1L1445.5 239.7L1452.1 247.6L1458.7 238.5L1465.3 244.2L1472.0 261.1L1478.6 248.7L1485.2 279.2L1491.8 252.1L1498.4 237.4L1505.1 247.6L1511.7 231.7L1518.3 219.3L1524.9 217.0L1531.5 218.2L1538.2 213.7L1544.8 225.0L1551.4 237.4L1558.0 232.9L1564.6 230.6L1571.3 235.1L1577.9 232.9L1584.5 236.3L1591.1 232.9L1597.7 225.0L1604.4 230.6L1611.0 228.4L1617.6 231.7L1624.2 223.8L1630.8 227.2" stroke="#1a1a1a" stroke-width="1.6" fill="none"/>
<path d="M946.2 65.6a2.8 2.8 0 1 0 5.6 0a2.8 2.8 0 1 0 -5.6 0M952.8 72.3a2.8 2.8 0 1 0 5.6 0a2.8 2.8 0 1 0 -5.6 0M959.4 52.5a2.8 2.8 0 1 0 5.6 0a2.8 2.8 0 1 0 -5.6 0M966.0 82.5a2.8 2.8 0 1 0 5.6 0a2.8 2.8 0 1 0 -5.6 0M972.7 109.7a2.8 2.8 0 1 0 5.6 0a2.8 2.8 0 1 0 -5.6 0M979.3 149.2a2.8 2.8 0 1 0 5.6 0a2.8 2.8 0 1 0 -5.6 0M985.9 176.3a2.8 2.8 0 1 0 5.6 0a2.8 2.8 0 1 0 -5.6 0M992.5 229.5a2.8 2.8 0 1 0 5.6 0a2.8 2.8 0 1 0 -5.6 0M999.1 232.9a2.8 2.8 0 1 0 5.6 0a2.8 2.8 0 1 0 -5.6 0M1005.8 239.7a2.8 2.8 0 1 0 5.6 0a2.8 2.8 0 1 0 -5.6 0M1012.4 244.0a2.8 2.8 0 1 0 5.6 0a2.8 2.8 0 1 0 -5.6 0M1019.0 248.7a2.8 2.8 0 1 0 5.6 0a2.8 2.8 0 1 0 -5.6 0M1025.6 260.0a2.8 2.8 0 1 0 5.6 0a2.8 2.8 0 1 0 -5.6 0M1032.2 269.0a2.8 2.8 0 1 0 5.6 0a2.8 2.8 0 1 0 -5.6 0M1038.9 274.7a2.8 2.8 0 1 0 5.6 0a2.8 2.8 0 1 0 -5.6 0M1045.5 263.4a2.8 2.8 0 1 0 5.6 0a2.8 2.8 0 1 0 -5.6 0M1052.1 244.2a2.8 2.8 0 1 0 5.6 0a2.8 2.8 0 1 0 -5.6 0M1058.7 231.7a2.8 2.8 0 1 0 5.6 0a2.8 2.8 0 1 0 -5.6 0M1065.3 213.7a2.8 2.8 0 1 0 5.6 0a2.8 2.8 0 1 0 -5.6 0M1072.0 255.5a2.8 2.8 0 1 0 5.6 0a2.8 2.8 0 1 0 -5.6 0M1078.6 274.7a2.8 2.8 0 1 0 5.6 0a2.8 2.8 0 1 0 -5.6 0M1085.2 256.6a2.8 2.8 0 1 0 5.6 0a2.8 2.8 0 1 0 -5.6 0M1091.8 262.0a2.8 2.8 0 1 0 5.6 0a2.8 2.8 0 1 0 -5.6 0M1098.4 266.8a2.8 2.8 0 1 0 5.6 0a2.8 2.8 0 1 0 -5.6 0M1105.1 278.0a2.8 2.8 0 1 0 5.6 0a2.8 2.8 0 1 0 -5.6 0M1111.7 249.8a2.8 2.8 0 1 0 5.6 0a2.8 2.8 0 1 0 -5.6 0M1118.3 194.4a2.8 2.8 0 1 0 5.6 0a2.8 2.8 0 1 0 -5.6 0M1124.9 262.3a2.8 2.8 0 1 0 5.6 0a2.8 2.8 0 1 0 -5.6 0M1131.5 232.9a2.8 2.8 0 1 0 5.6 0a2.8 2.8 0 1 0 -5.6 0M1138.2 268.0a2.8 2.8 0 1 0 5.6 0a2.8 2.8 0 1 0 -5.6 0M1144.8 177.5a2.8 2.8 0 1 0 5.6 0a2.8 2.8 0 1 0 -5.6 0M1151.4 284.9a2.8 2.8 0 1 0 5.6 0a2.8 2.8 0 1 0 -5.6 0M1158.0 255.5a2.8 2.8 0 1 0 5.6 0a2.8 2.8 0 1 0 -5.6 0M1164.6 270.2a2.8 2.8 0 1 0 5.6 0a2.8 2.8 0 1 0 -5.6 0M1171.3 226.0a2.8 2.8 0 1 0 5.6 0a2.8 2.8 0 1 0 -5.6 0M1177.9 223.8a2.8 2.8 0 1 0 5.6 0a2.8 2.8 0 1 0 -5.6 0M1184.5 239.7a2.8 2.8 0 1 0 5.6 0a2.8 2.8 0 1 0 -5.6 0M1191.1 279.2a2.8 2.8 0 1 0 5.6 0a2.8 2.8 0 1 0 -5.6 0M1197.7 230.6a2.8 2.8 0 1 0 5.6 0a2.8 2.8 0 1 0 -5.6 0M1204.4 253.2a2.8 2.8 0 1 0 5.6 0a2.8 2.8 0 1 0 -5.6 0M1211.0 229.5a2.8 2.8 0 1 0 5.6 0a2.8 2.8 0 1 0 -5.6 0M1217.6 279.2a2.8 2.8 0 1 0 5.6 0a2.8 2.8 0 1 0 -5.6 0M1224.2 262.3a2.8 2.8 0 1 0 5.6 0a2.8 2.8 0 1 0 -5.6 0M1230.8 214.0a2.8 2.8 0 1 0 5.6 0a2.8 2.8 0 1 0 -5.6 0M1237.5 230.8a2.8 2.8 0 1 0 5.6 0a2.8 2.8 0 1 0 -5.6 0M1244.1 242.0a2.8 2.8 0 1 0 5.6 0a2.8 2.8 0 1 0 -5.6 0M1250.7 266.2a2.8 2.8 0 1 0 5.6 0a2.8 2.8 0 1 0 -5.6 0M1257.3 281.1a2.8 2.8 0 1 0 5.6 0a2.8 2.8 0 1 0 -5.6 0M1263.9 255.0a2.8 2.8 0 1 0 5.6 0a2.8 2.8 0 1 0 -5.6 0M1270.6 273.0a2.8 2.8 0 1 0 5.6 0a2.8 2.8 0 1 0 -5.6 0M1277.2 258.8a2.8 2.8 0 1 0 5.6 0a2.8 2.8 0 1 0 -5.6 0M1283.8 235.1a2.8 2.8 0 1 0 5.6 0a2.8 2.8 0 1 0 -5.6 0M1290.4 290.5a2.8 2.8 0 1 0 5.6 0a2.8 2.8 0 1 0 -5.6 0M1297.0 252.0a2.8 2.8 0 1 0 5.6 0a2.8 2.8 0 1 0 -5.6 0M1303.7 266.8a2.8 2.8 0 1 0 5.6 0a2.8 2.8 0 1 0 -5.6 0M1310.3 215.3a2.8 2.8 0 1 0 5.6 0a2.8 2.8 0 1 0 -5.6 0M1316.9 276.8a2.8 2.8 0 1 0 5.6 0a2.8 2.8 0 1 0 -5.6 0M1323.5 235.8a2.8 2.8 0 1 0 5.6 0a2.8 2.8 0 1 0 -5.6 0M1330.1 253.8a2.8 2.8 0 1 0 5.6 0a2.8 2.8 0 1 0 -5.6 0M1336.8 223.3a2.8 2.8 0 1 0 5.6 0a2.8 2.8 0 1 0 -5.6 0M1343.4 215.3a2.8 2.8 0 1 0 5.6 0a2.8 2.8 0 1 0 -5.6 0M1350.0 240.0a2.8 2.8 0 1 0 5.6 0a2.8 2.8 0 1 0 -5.6 0M1356.6 225.2a2.8 2.8 0 1 0 5.6 0a2.8 2.8 0 1 0 -5.6 0M1363.2 217.7a2.8 2.8 0 1 0 5.6 0a2.8 2.8 0 1 0 -5.6 0M1369.9 235.8a2.8 2.8 0 1 0 5.6 0a2.8 2.8 0 1 0 -5.6 0M1376.5 234.5a2.8 2.8 0 1 0 5.6 0a2.8 2.8 0 1 0 -5.6 0M1383.1 212.8a2.8 2.8 0 1 0 5.6 0a2.8 2.8 0 1 0 -5.6 0M1389.7 280.5a2.8 2.8 0 1 0 5.6 0a2.8 2.8 0 1 0 -5.6 0M1396.3 223.3a2.8 2.8 0 1 0 5.6 0a2.8 2.8 0 1 0 -5.6 0M1403.0 214.0a2.8 2.8 0 1 0 5.6 0a2.8 2.8 0 1 0 -5.6 0M1409.6 224.0a2.8 2.8 0 1 0 5.6 0a2.8 2.8 0 1 0 -5.6 0M1416.2 259.4a2.8 2.8 0 1 0 5.6 0a2.8 2.8 0 1 0 -5.6 0M1422.8 220.4a2.8 2.8 0 1 0 5.6 0a2.8 2.8 0 1 0 -5.6 0M1429.4 227.2a2.8 2.8 0 1 0 5.6 0a2.8 2.8 0 1 0 -5.6 0M1436.1 265.7a2.8 2.8 0 1 0 5.6 0a2.8 2.8 0 1 0 -5.6 0M1442.7 234.0a2.8 2.8 0 1 0 5.6 0a2.8 2.8 0 1 0 -5.6 0M1449.3 205.7a2.8 2.8 0 1 0 5.6 0a2.8 2.8 0 1 0 -5.6 0M1455.9 247.6a2.8 2.8 0 1 0 5.6 0a2.8 2.8 0 1 0 -5.6 0M1462.5 234.0a2.8 2.8 0 1 0 5.6 0a2.8 2.8 0 1 0 -5.6 0M1469.2 136.8a2.8 2.8 0 1 0 5.6 0a2.8 2.8 0 1 0 -5.6 0M1475.8 240.0a2.8 2.8 0 1 0 5.6 0a2.8 2.8 0 1 0 -5.6 0M1482.4 111.9a2.8 2.8 0 1 0 5.6 0a2.8 2.8 0 1 0 -5.6 0M1489.0 262.3a2.8 2.8 0 1 0 5.6 0a2.8 2.8 0 1 0 -5.6 0M1495.6 237.4a2.8 2.8 0 1 0 5.6 0a2.8 2.8 0 1 0 -5.6 0M1502.3 237.4a2.8 2.8 0 1 0 5.6 0a2.8 2.8 0 1 0 -5.6 0M1508.9 255.5a2.8 2.8 0 1 0 5.6 0a2.8 2.8 0 1 0 -5.6 0M1515.5 244.2a2.8 2.8 0 1 0 5.6 0a2.8 2.8 0 1 0 -5.6 0M1522.1 236.3a2.8 2.8 0 1 0 5.6 0a2.8 2.8 0 1 0 -5.6 0M1528.7 223.8a2.8 2.8 0 1 0 5.6 0a2.8 2.8 0 1 0 -5.6 0M1535.4 222.7a2.8 2.8 0 1 0 5.6 0a2.8 2.8 0 1 0 -5.6 0M1542.0 220.4a2.8 2.8 0 1 0 5.6 0a2.8 2.8 0 1 0 -5.6 0M1548.6 192.2a2.8 2.8 0 1 0 5.6 0a2.8 2.8 0 1 0 -5.6 0M1555.2 215.0a2.8 2.8 0 1 0 5.6 0a2.8 2.8 0 1 0 -5.6 0M1561.8 227.2a2.8 2.8 0 1 0 5.6 0a2.8 2.8 0 1 0 -5.6 0M1568.5 240.0a2.8 2.8 0 1 0 5.6 0a2.8 2.8 0 1 0 -5.6 0M1575.1 253.2a2.8 2.8 0 1 0 5.6 0a2.8 2.8 0 1 0 -5.6 0M1581.7 202.4a2.8 2.8 0 1 0 5.6 0a2.8 2.8 0 1 0 -5.6 0M1588.3 241.9a2.8 2.8 0 1 0 5.6 0a2.8 2.8 0 1 0 -5.6 0M1594.9 223.8a2.8 2.8 0 1 0 5.6 0a2.8 2.8 0 1 0 -5.6 0M1601.6 217.0a2.8 2.8 0 1 0 5.6 0a2.8 2.8 0 1 0 -5.6 0M1608.2 187.7a2.8 2.8 0 1 0 5.6 0a2.8 2.8 0 1 0 -5.6 0M1614.8 215.9a2.8 2.8 0 1 0 5.6 0a2.8 2.8 0 1 0 -5.6 0M1621.4 256.6a2.8 2.8 0 1 0 5.6 0a2.8 2.8 0 1 0 -5.6 0M1628.0 230.6a2.8 2.8 0 1 0 5.6 0a2.8 2.8 0 1 0 -5.6 0" fill="#ff0000"/>
<path d="M939.3 62.5h6.1v6.1h-6.1zM945.9 63.9h6.1v6.1h-6.1zM952.5 61.4h6.1v6.1h-6.1zM959.2 61.4h6.1v6.1h-6.1zM965.8 58.0h6.1v6.1h-6.1zM972.4 73.9h6.1v6.1h-6.1zM979.0 102.0h6.1v6.1h-6.1zM985.6 141.1h6.1v6.1h-6.1zM992.3 169.2h6.1v6.1h-6.1zM998.9 197.8h6.1v6.1h-6.1zM1005.5 212.9h6.1v6.1h-6.1zM1012.1 222.9h6.1v6.1h-6.1zM1018.7 224.1h6.1v6.1h-6.1zM1025.4 225.3h6.1v6.1h-6.1zM1032.0 220.8h6.1v6.1h-6.1zM1038.6 226.4h6.1v6.1h-6.1zM1045.2 229.8h6.1v6.1h-6.1zM1051.8 228.6h6.1v6.1h-6.1zM1058.5 224.1h6.1v6.1h-6.1zM1065.1 227.5h6.1v6.1h-6.1zM1071.7 217.3h6.1v6.1h-6.1zM1078.3 225.3h6.1v6.1h-6.1zM1084.9 227.5h6.1v6.1h-6.1zM1091.6 234.3h6.1v6.1h-6.1zM1098.2 232.0h6.1v6.1h-6.1zM1104.8 232.0h6.1v6.1h-6.1zM1111.4 233.2h6.1v6.1h-6.1zM1118.0 241.1h6.1v6.1h-6.1zM1124.7 236.6h6.1v6.1h-6.1zM1131.3 212.9h6.1v6.1h-6.1zM1137.9 236.6h6.1v6.1h-6.1zM1144.5 229.8h6.1v6.1h-6.1zM1151.1 224.1h6.1v6.1h-6.1zM1157.8 241.1h6.1v6.1h-6.1zM1164.4 241.1h6.1v6.1h-6.1zM1171.0 234.3h6.1v6.1h-6.1zM1177.6 234.3h6.1v6.1h-6.1zM1184.2 229.8h6.1v6.1h-6.1zM1190.9 227.5h6.1v6.1h-6.1zM1197.5 229.8h6.1v6.1h-6.1zM1204.1 230.9h6.1v6.1h-6.1zM1210.7 232.0h6.1v6.1h-6.1zM1217.3 248.9h6.1v6.1h-6.1zM1224.0 219.6h6.1v6.1h-6.1zM1230.6 239.5h6.1v6.1h-6.1zM1237.2 235.8h6.1v6.1h-6.1zM1243.8 243.2h6.1v6.1h-6.1zM1250.4 245.8h6.1v6.1h-6.1zM1257.1 239.5h6.1v6.1h-6.1zM1263.7 231.4h6.1v6.1h-6.1zM1270.3 238.3h6.1v6.1h-6.1zM1276.9 238.9h6.1v6.1h-6.1zM1283.5 240.1h6.1v6.1h-6.1zM1290.2 228.3h6.1v6.1h-6.1zM1296.8 236.4h6.1v6.1h-6.1zM1303.4 231.4h6.1v6.1h-6.1zM1310.0 237.0h6.1v6.1h-6.1zM1316.6 228.3h6.1v6.1h-6.1zM1323.3 242.6h6.1v6.1h-6.1zM1329.9 242.6h6.1v6.1h-6.1zM1336.5 230.2h6.1v6.1h-6.1zM1343.1 232.0h6.1v6.1h-6.1zM1349.7 243.2h6.1v6.1h-6.1zM1356.4 235.2h6.1v6.1h-6.1zM1363.0 242.0h6.1v6.1h-6.1zM1369.6 242.6h6.1v6.1h-6.1zM1376.2 243.2h6.1v6.1h-6.1zM1382.8 232.8h6.1v6.1h-6.1zM1389.5 237.6h6.1v6.1h-6.1zM1396.1 237.0h6.1v6.1h-6.1zM1402.7 228.9h6.1v6.1h-6.1zM1409.3 243.9h6.1v6.1h-6.1zM1415.9 228.9h6.1v6.1h-6.1zM1422.6 232.0h6.1v6.1h-6.1zM1429.2 232.0h6.1v6.1h-6.1zM1435.8 232.0h6.1v6.1h-6.1zM1442.4 236.6h6.1v6.1h-6.1zM1449.0 244.5h6.1v6.1h-6.1zM1455.7 235.4h6.1v6.1h-6.1zM1462.3 241.1h6.1v6.1h-6.1zM1468.9 258.1h6.1v6.1h-6.1zM1475.5 245.6h6.1v6.1h-6.1zM1482.1 276.1h6.1v6.1h-6.1zM1488.8 249.0h6.1v6.1h-6.1zM1495.4 234.3h6.1v6.1h-6.1zM1502.0 244.5h6.1v6.1h-6.1zM1508.6 228.6h6.1v6.1h-6.1zM1515.2 216.2h6.1v6.1h-6.1zM1521.9 213.9h6.1v6.1h-6.1zM1528.5 215.1h6.1v6.1h-6.1zM1535.1 210.6h6.1v6.1h-6.1zM1541.7 221.9h6.1v6.1h-6.1zM1548.3 234.3h6.1v6.1h-6.1zM1555.0 229.8h6.1v6.1h-6.1zM1561.6 227.5h6.1v6.1h-6.1zM1568.2 232.0h6.1v6.1h-6.1zM1574.8 229.8h6.1v6.1h-6.1zM1581.4 233.2h6.1v6.1h-6.1zM1588.1 229.8h6.1v6.1h-6.1zM1594.7 221.9h6.1v6.1h-6.1zM1601.3 227.5h6.1v6.1h-6.1zM1607.9 225.3h6.1v6.1h-6.1zM1614.5 228.6h6.1v6.1h-6.1zM1621.2 220.8h6.1v6.1h-6.1zM1627.8 224.1h6.1v6.1h-6.1z" fill="#000"/>
<rect x="943.3" y="18.0" width="695.7" height="312.0" fill="none" stroke="#2e2e2e" stroke-width="2.2"/>
</g>
<g id="a3">
<path d="M171.4 681.0v-6.5M171.4 370.3v6.5M323.6 681.0v-6.5M323.6 370.3v6.5M475.7 681.0v-6.5M475.7 370.3v6.5M627.9 681.0v-6.5M627.9 370.3v6.5M247.5 681.0v-3.5M247.5 370.3v3.5M399.6 681.0v-3.5M399.6 370.3v3.5M551.8 681.0v-3.5M551.8 370.3v3.5M703.9 681.0v-3.5M703.9 370.3v3.5M141.0 669.1h6.5M141.0 614.6h6.5M141.0 560.1h6.5M141.0 505.6h6.5M141.0 451.1h6.5M141.0 396.6h6.5M141.0 641.9h3.5M141.0 587.4h3.5M141.0 532.9h3.5M141.0 478.3h3.5M141.0 423.8h3.5M780.0 402.6h-6.5M780.0 458.2h-6.5M780.0 513.8h-6.5M780.0 569.4h-6.5M780.0 625.0h-6.5M780.0 374.8h-3.5M780.0 430.4h-3.5M780.0 486.0h-3.5M780.0 541.6h-3.5M780.0 597.2h-3.5M780.0 652.8h-3.5" stroke="#2e2e2e" stroke-width="1.6" fill="none"/>
<g fill="#111" stroke="#111" stroke-width="0.6"><text x="171.4" y="708.3" text-anchor="middle">0</text><text x="323.6" y="708.3" text-anchor="middle">50</text><text x="475.7" y="708.3" text-anchor="middle">100</text><text x="627.9" y="708.3" text-anchor="middle">150</text><text x="780.0" y="708.3" text-anchor="middle">200</text></g>
<g fill="#ff0000" stroke="#ff0000" stroke-width="0.6"><text x="132.7" y="677.3" text-anchor="end">0.5</text><text x="132.7" y="622.8" text-anchor="end">0.6</text><text x="132.7" y="568.3" text-anchor="end">0.7</text><text x="132.7" y="513.8" text-anchor="end">0.8</text><text x="132.7" y="459.3" text-anchor="end">0.9</text><text x="132.7" y="404.8" text-anchor="end">1.0</text></g>
<g fill="#111" stroke="#111" stroke-width="0.6"><text x="788.5" y="410.8">0.00</text><text x="788.5" y="466.4">0.05</text><text x="788.5" y="522.0">0.10</text><text x="788.5" y="577.6">0.15</text><text x="788.5" y="633.2">0.20</text><text x="788.5" y="688.8">0.25</text></g>
<path d="M145.4 389.3V410.9M151.5 400.5V423.9M157.6 399.1V421.3M163.7 384.4V405.8M169.8 406.6V435.8M175.8 458.6V485.4M181.9 508.2V533.2M188.0 552.6V574.0M194.1 555.9V585.1M200.2 567.5V590.3M206.3 579.9V602.1M212.4 568.5V593.3M218.5 551.2V573.6M224.6 576.5V601.5M230.7 569.1V594.9M236.7 561.0V592.0M242.8 573.5V598.5M248.9 558.2V585.6M255.0 571.7V594.1M261.1 590.7V614.5M267.2 566.6V591.2M273.3 575.6V606.4M279.4 560.5V583.3M285.5 553.5V576.3M291.6 574.7V599.3M297.6 555.8V582.0M303.7 549.5V576.3M309.8 543.6V566.0M315.9 536.9V564.7M322.0 526.9V551.3M328.1 565.4V592.4M334.2 567.3V592.5M340.3 574.1V597.9M346.4 578.7V601.3M352.5 564.9V586.9M358.5 579.9V608.1M364.6 558.0V581.8M370.7 566.2V593.6M376.8 576.4V599.6M382.9 554.1V583.7M389.0 537.5V566.1M395.1 560.3V581.5M401.2 560.4V589.4M407.3 567.1V592.7M413.4 553.6V584.2M419.4 562.6V591.2M425.5 579.5V602.5M431.6 567.9V597.9M437.7 564.0V593.8M443.8 560.4V589.4M449.9 564.3V587.5M456.0 564.1V585.7M462.1 576.9V604.9M468.2 614.7V641.5M474.3 604.3V627.7M480.3 596.0V622.0M486.4 609.0V639.0M492.5 598.8V625.2M498.6 583.1V612.9M504.7 579.4V606.6M510.8 594.6V617.4M516.9 599.8V624.2M523.0 588.9V617.1M529.1 571.0V600.8M535.2 588.6V619.4M541.2 569.3V590.5M547.3 597.6V626.4M553.4 566.3V591.5M559.5 613.5V640.7M565.6 579.5V600.5M571.7 595.6V624.4M577.8 591.0V617.0M583.9 566.1V595.7M590.0 553.0V574.6M596.1 602.8V629.2M602.1 596.0V620.0M608.2 626.5V649.7M614.3 585.5V614.5M620.4 576.6V599.4M626.5 628.5V655.7M632.6 621.5V642.7M638.7 597.7V622.3M644.8 588.9V619.1M650.9 577.3V602.7M657.0 592.2V621.8M663.0 560.7V591.1M669.1 570.4V601.4M675.2 572.5V593.5M681.3 563.6V592.2M687.4 499.9V529.3M693.5 596.0V618.0M699.6 598.1V621.9M705.7 584.5V611.5M711.8 559.9V589.9M717.9 592.9V615.1M723.9 587.1V610.9M730.0 576.3V605.5M736.1 580.5V605.3M742.2 575.7V600.1M748.3 580.8V605.0M754.4 551.3V574.3M760.5 572.5V603.3M766.6 575.1V600.7M772.7 552.2V581.4" stroke="#ff6666" stroke-width="2.4" fill="none" opacity="1.0"/>
<path d="M145.4 400.1L151.5 412.2L157.6 410.2L163.7 395.1L169.8 421.2L175.8 472.0L181.9 520.7L188.0 563.3L194.1 570.5L200.2 578.9L206.3 591.0L212.4 580.9L218.5 562.4L224.6 589.0L230.7 582.0L236.7 576.5L242.8 586.0L248.9 571.9L255.0 582.9L261.1 602.6L267.2 578.9L273.3 591.0L279.4 571.9L285.5 564.9L291.6 587.0L297.6 568.9L303.7 562.9L309.8 554.8L315.9 550.8L322.0 539.1L328.1 578.9L334.2 579.9L340.3 586.0L346.4 590.0L352.5 575.9L358.5 594.0L364.6 569.9L370.7 579.9L376.8 588.0L382.9 568.9L389.0 551.8L395.1 570.9L401.2 574.9L407.3 579.9L413.4 568.9L419.4 576.9L425.5 591.0L431.6 582.9L437.7 578.9L443.8 574.9L449.9 575.9L456.0 574.9L462.1 590.9L468.2 628.1L474.3 616.0L480.3 609.0L486.4 624.0L492.5 612.0L498.6 598.0L504.7 593.0L510.8 606.0L516.9 612.0L523.0 603.0L529.1 585.9L535.2 604.0L541.2 579.9L547.3 612.0L553.4 578.9L559.5 627.1L565.6 590.0L571.7 610.0L577.8 604.0L583.9 580.9L590.0 563.8L596.1 616.0L602.1 608.0L608.2 638.1L614.3 600.0L620.4 588.0L626.5 642.1L632.6 632.1L638.7 610.0L644.8 604.0L650.9 590.0L657.0 607.0L663.0 575.9L669.1 585.9L675.2 583.0L681.3 577.9L687.4 514.6L693.5 607.0L699.6 610.0L705.7 598.0L711.8 574.9L717.9 604.0L723.9 599.0L730.0 590.9L736.1 592.9L742.2 587.9L748.3 592.9L754.4 562.8L760.5 587.9L766.6 587.9L772.7 566.8" stroke="#ff2a2a" stroke-width="1.1" fill="none"/>
<path d="M139.3 386.7V436.9M145.4 387.9V434.5M151.5 390.7V431.7M157.6 385.8V434.6M163.7 386.8V433.6M169.8 398.3V445.3M175.8 393.5V432.9M181.9 391.6V444.0M188.0 439.2V479.6M194.1 458.5V501.7M200.2 494.8V544.6M206.3 500.6V538.8M212.4 514.6V550.8M218.5 512.7V557.5M224.6 511.9V554.3M230.7 516.1V563.3M236.7 519.2V560.2M242.8 518.2V554.4M248.9 523.8V567.8M255.0 522.6V559.0M261.1 507.9V558.3M267.2 523.7V569.1M273.3 518.0V556.2M279.4 536.7V574.9M285.5 528.8V576.8M291.6 527.0V568.6M297.6 532.5V581.1M303.7 537.2V578.4M309.8 548.3V587.5M315.9 546.2V589.6M322.0 556.9V596.1M328.1 534.5V581.1M334.2 532.7V582.9M340.3 529.8V575.8M346.4 526.9V568.7M352.5 534.9V582.7M358.5 527.5V578.1M364.6 538.4V585.2M370.7 529.4V568.2M376.8 541.2V582.4M382.9 543.4V582.2M389.0 551.7V588.1M395.1 541.5V582.1M401.2 552.2V595.6M407.3 552.8V593.0M413.4 551.3V596.5M419.4 543.6V584.2M425.5 534.8V580.8M431.6 546.7V599.1M437.7 537.2V580.4M443.8 549.0V592.8M449.9 544.6V591.2M456.0 550.7V601.1M462.1 533.8V585.8M468.2 519.9V557.5M474.3 526.7V572.9M480.3 528.0V579.6M486.4 533.3V578.3M492.5 532.5V573.1M498.6 539.8V581.8M504.7 531.9V579.7M510.8 532.9V574.7M516.9 531.1V576.5M523.0 531.2V580.4M529.1 543.9V589.7M535.2 541.4V592.2M541.2 551.9V601.9M547.3 533.7V573.9M553.4 550.3V599.5M559.5 540.6V579.0M565.6 542.5V583.1M571.7 534.6V585.0M577.8 546.9V584.7M583.9 552.0V591.8M590.0 552.3V591.5M596.1 537.8V585.8M602.1 530.1V575.5M608.2 531.2V578.4M614.3 551.7V596.1M620.4 552.5V593.3M626.5 527.6V568.0M632.6 542.6V581.0M638.7 539.5V580.1M644.8 540.9V584.7M650.9 545.8V596.0M657.0 535.4V576.2M663.0 547.4V596.4M669.1 533.6V582.0M675.2 547.3V596.5M681.3 537.0V582.6M687.4 553.8V602.0M693.5 529.4V578.2M699.6 526.7V568.9M705.7 535.7V585.9M711.8 557.9V603.9M717.9 539.8V581.8M723.9 548.3V589.3M730.0 560.0V597.8M736.1 551.1V594.7M742.2 567.0V606.8M748.3 545.7V591.9M754.4 566.3V607.5M760.5 561.2V596.6M766.6 546.0V587.6M772.7 563.3V610.5" stroke="#5e5e5e" stroke-width="2.2" fill="none" opacity="1.0"/>
<path d="M139.3 411.8L145.4 411.2L151.5 411.2L157.6 410.2L163.7 410.2L169.8 421.8L175.8 413.2L181.9 417.8L188.0 459.4L194.1 480.1L200.2 519.7L206.3 519.7L212.4 532.7L218.5 535.1L224.6 533.1L230.7 539.7L236.7 539.7L242.8 536.3L248.9 545.8L255.0 540.8L261.1 533.1L267.2 546.4L273.3 537.1L279.4 555.8L285.5 552.8L291.6 547.8L297.6 556.8L303.7 557.8L309.8 567.9L315.9 567.9L322.0 576.5L328.1 557.8L334.2 557.8L340.3 552.8L346.4 547.8L352.5 558.8L358.5 552.8L364.6 561.8L370.7 548.8L376.8 561.8L382.9 562.8L389.0 569.9L395.1 561.8L401.2 573.9L407.3 572.9L413.4 573.9L419.4 563.9L425.5 557.8L431.6 572.9L437.7 558.8L443.8 570.9L449.9 567.9L456.0 575.9L462.1 559.8L468.2 538.7L474.3 549.8L480.3 553.8L486.4 555.8L492.5 552.8L498.6 560.8L504.7 555.8L510.8 553.8L516.9 553.8L523.0 555.8L529.1 566.8L535.2 566.8L541.2 576.9L547.3 553.8L553.4 574.9L559.5 559.8L565.6 562.8L571.7 559.8L577.8 565.8L583.9 571.9L590.0 571.9L596.1 561.8L602.1 552.8L608.2 554.8L614.3 573.9L620.4 572.9L626.5 547.8L632.6 561.8L638.7 559.8L644.8 562.8L650.9 570.9L657.0 555.8L663.0 571.9L669.1 557.8L675.2 571.9L681.3 559.8L687.4 577.9L693.5 553.8L699.6 547.8L705.7 560.8L711.8 580.9L717.9 560.8L723.9 568.8L730.0 578.9L736.1 572.9L742.2 586.9L748.3 568.8L754.4 586.9L760.5 578.9L766.6 566.8L772.7 586.9" stroke="#1a1a1a" stroke-width="1.6" fill="none"/>
<path d="M142.6 400.1a2.8 2.8 0 1 0 5.6 0a2.8 2.8 0 1 0 -5.6 0M148.7 412.2a2.8 2.8 0 1 0 5.6 0a2.8 2.8 0 1 0 -5.6 0M154.8 410.2a2.8 2.8 0 1 0 5.6 0a2.8 2.8 0 1 0 -5.6 0M160.9 395.1a2.8 2.8 0 1 0 5.6 0a2.8 2.8 0 1 0 -5.6 0M167.0 421.2a2.8 2.8 0 1 0 5.6 0a2.8 2.8 0 1 0 -5.6 0M173.0 472.0a2.8 2.8 0 1 0 5.6 0a2.8 2.8 0 1 0 -5.6 0M179.1 520.7a2.8 2.8 0 1 0 5.6 0a2.8 2.8 0 1 0 -5.6 0M185.2 563.3a2.8 2.8 0 1 0 5.6 0a2.8 2.8 0 1 0 -5.6 0M191.3 570.5a2.8 2.8 0 1 0 5.6 0a2.8 2.8 0 1 0 -5.6 0M197.4 578.9a2.8 2.8 0 1 0 5.6 0a2.8 2.8 0 1 0 -5.6 0M203.5 591.0a2.8 2.8 0 1 0 5.6 0a2.8 2.8 0 1 0 -5.6 0M209.6 580.9a2.8 2.8 0 1 0 5.6 0a2.8 2.8 0 1 0 -5.6 0M215.7 562.4a2.8 2.8 0 1 0 5.6 0a2.8 2.8 0 1 0 -5.6 0M221.8 589.0a2.8 2.8 0 1 0 5.6 0a2.8 2.8 0 1 0 -5.6 0M227.9 582.0a2.8 2.8 0 1 0 5.6 0a2.8 2.8 0 1 0 -5.6 0M233.9 576.5a2.8 2.8 0 1 0 5.6 0a2.8 2.8 0 1 0 -5.6 0M240.0 586.0a2.8 2.8 0 1 0 5.6 0a2.8 2.8 0 1 0 -5.6 0M246.1 571.9a2.8 2.8 0 1 0 5.6 0a2.8 2.8 0 1 0 -5.6 0M252.2 582.9a2.8 2.8 0 1 0 5.6 0a2.8 2.8 0 1 0 -5.6 0M258.3 602.6a2.8 2.8 0 1 0 5.6 0a2.8 2.8 0 1 0 -5.6 0M264.4 578.9a2.8 2.8 0 1 0 5.6 0a2.8 2.8 0 1 0 -5.6 0M270.5 591.0a2.8 2.8 0 1 0 5.6 0a2.8 2.8 0 1 0 -5.6 0M276.6 571.9a2.8 2.8 0 1 0 5.6 0a2.8 2.8 0 1 0 -5.6 0M282.7 564.9a2.8 2.8 0 1 0 5.6 0a2.8 2.8 0 1 0 -5.6 0M288.8 587.0a2.8 2.8 0 1 0 5.6 0a2.8 2.8 0 1 0 -5.6 0M294.8 568.9a2.8 2.8 0 1 0 5.6 0a2.8 2.8 0 1 0 -5.6 0M300.9 562.9a2.8 2.8 0 1 0 5.6 0a2.8 2.8 0 1 0 -5.6 0M307.0 554.8a2.8 2.8 0 1 0 5.6 0a2.8 2.8 0 1 0 -5.6 0M313.1 550.8a2.8 2.8 0 1 0 5.6 0a2.8 2.8 0 1 0 -5.6 0M319.2 539.1a2.8 2.8 0 1 0 5.6 0a2.8 2.8 0 1 0 -5.6 0M325.3 578.9a2.8 2.8 0 1 0 5.6 0a2.8 2.8 0 1 0 -5.6 0M331.4 579.9a2.8 2.8 0 1 0 5.6 0a2.8 2.8 0 1 0 -5.6 0M337.5 586.0a2.8 2.8 0 1 0 5.6 0a2.8 2.8 0 1 0 -5.6 0M343.6 590.0a2.8 2.8 0 1 0 5.6 0a2.8 2.8 0 1 0 -5.6 0M349.7 575.9a2.8 2.8 0 1 0 5.6 0a2.8 2.8 0 1 0 -5.6 0M355.7 594.0a2.8 2.8 0 1 0 5.6 0a2.8 2.8 0 1 0 -5.6 0M361.8 569.9a2.8 2.8 0 1 0 5.6 0a2.8 2.8 0 1 0 -5.6 0M367.9 579.9a2.8 2.8 0 1 0 5.6 0a2.8 2.8 0 1 0 -5.6 0M374.0 588.0a2.8 2.8 0 1 0 5.6 0a2.8 2.8 0 1 0 -5.6 0M380.1 568.9a2.8 2.8 0 1 0 5.6 0a2.8 2.8 0 1 0 -5.6 0M386.2 551.8a2.8 2.8 0 1 0 5.6 0a2.8 2.8 0 1 0 -5.6 0M392.3 570.9a2.8 2.8 0 1 0 5.6 0a2.8 2.8 0 1 0 -5.6 0M398.4 574.9a2.8 2.8 0 1 0 5.6 0a2.8 2.8 0 1 0 -5.6 0M404.5 579.9a2.8 2.8 0 1 0 5.6 0a2.8 2.8 0 1 0 -5.6 0M410.6 568.9a2.8 2.8 0 1 0 5.6 0a2.8 2.8 0 1 0 -5.6 0M416.6 576.9a2.8 2.8 0 1 0 5.6 0a2.8 2.8 0 1 0 -5.6 0M422.7 591.0a2.8 2.8 0 1 0 5.6 0a2.8 2.8 0 1 0 -5.6 0M428.8 582.9a2.8 2.8 0 1 0 5.6 0a2.8 2.8 0 1 0 -5.6 0M434.9 578.9a2.8 2.8 0 1 0 5.6 0a2.8 2.8 0 1 0 -5.6 0M441.0 574.9a2.8 2.8 0 1 0 5.6 0a2.8 2.8 0 1 0 -5.6 0M447.1 575.9a2.8 2.8 0 1 0 5.6 0a2.8 2.8 0 1 0 -5.6 0M453.2 574.9a2.8 2.8 0 1 0 5.6 0a2.8 2.8 0 1 0 -5.6 0M459.3 590.9a2.8 2.8 0 1 0 5.6 0a2.8 2.8 0 1 0 -5.6 0M465.4 628.1a2.8 2.8 0 1 0 5.6 0a2.8 2.8 0 1 0 -5.6 0M471.5 616.0a2.8 2.8 0 1 0 5.6 0a2.8 2.8 0 1 0 -5.6 0M477.5 609.0a2.8 2.8 0 1 0 5.6 0a2.8 2.8 0 1 0 -5.6 0M483.6 624.0a2.8 2.8 0 1 0 5.6 0a2.8 2.8 0 1 0 -5.6 0M489.7 612.0a2.8 2.8 0 1 0 5.6 0a2.8 2.8 0 1 0 -5.6 0M495.8 598.0a2.8 2.8 0 1 0 5.6 0a2.8 2.8 0 1 0 -5.6 0M501.9 593.0a2.8 2.8 0 1 0 5.6 0a2.8 2.8 0 1 0 -5.6 0M508.0 606.0a2.8 2.8 0 1 0 5.6 0a2.8 2.8 0 1 0 -5.6 0M514.1 612.0a2.8 2.8 0 1 0 5.6 0a2.8 2.8 0 1 0 -5.6 0M520.2 603.0a2.8 2.8 0 1 0 5.6 0a2.8 2.8 0 1 0 -5.6 0M526.3 585.9a2.8 2.8 0 1 0 5.6 0a2.8 2.8 0 1 0 -5.6 0M532.4 604.0a2.8 2.8 0 1 0 5.6 0a2.8 2.8 0 1 0 -5.6 0M538.4 579.9a2.8 2.8 0 1 0 5.6 0a2.8 2.8 0 1 0 -5.6 0M544.5 612.0a2.8 2.8 0 1 0 5.6 0a2.8 2.8 0 1 0 -5.6 0M550.6 578.9a2.8 2.8 0 1 0 5.6 0a2.8 2.8 0 1 0 -5.6 0M556.7 627.1a2.8 2.8 0 1 0 5.6 0a2.8 2.8 0 1 0 -5.6 0M562.8 590.0a2.8 2.8 0 1 0 5.6 0a2.8 2.8 0 1 0 -5.6 0M568.9 610.0a2.8 2.8 0 1 0 5.6 0a2.8 2.8 0 1 0 -5.6 0M575.0 604.0a2.8 2.8 0 1 0 5.6 0a2.8 2.8 0 1 0 -5.6 0M581.1 580.9a2.8 2.8 0 1 0 5.6 0a2.8 2.8 0 1 0 -5.6 0M587.2 563.8a2.8 2.8 0 1 0 5.6 0a2.8 2.8 0 1 0 -5.6 0M593.3 616.0a2.8 2.8 0 1 0 5.6 0a2.8 2.8 0 1 0 -5.6 0M599.3 608.0a2.8 2.8 0 1 0 5.6 0a2.8 2.8 0 1 0 -5.6 0M605.4 638.1a2.8 2.8 0 1 0 5.6 0a2.8 2.8 0 1 0 -5.6 0M611.5 600.0a2.8 2.8 0 1 0 5.6 0a2.8 2.8 0 1 0 -5.6 0M617.6 588.0a2.8 2.8 0 1 0 5.6 0a2.8 2.8 0 1 0 -5.6 0M623.7 642.1a2.8 2.8 0 1 0 5.6 0a2.8 2.8 0 1 0 -5.6 0M629.8 632.1a2.8 2.8 0 1 0 5.6 0a2.8 2.8 0 1 0 -5.6 0M635.9 610.0a2.8 2.8 0 1 0 5.6 0a2.8 2.8 0 1 0 -5.6 0M642.0 604.0a2.8 2.8 0 1 0 5.6 0a2.8 2.8 0 1 0 -5.6 0M648.1 590.0a2.8 2.8 0 1 0 5.6 0a2.8 2.8 0 1 0 -5.6 0M654.2 607.0a2.8 2.8 0 1 0 5.6 0a2.8 2.8 0 1 0 -5.6 0M660.2 575.9a2.8 2.8 0 1 0 5.6 0a2.8 2.8 0 1 0 -5.6 0M666.3 585.9a2.8 2.8 0 1 0 5.6 0a2.8 2.8 0 1 0 -5.6 0M672.4 583.0a2.8 2.8 0 1 0 5.6 0a2.8 2.8 0 1 0 -5.6 0M678.5 577.9a2.8 2.8 0 1 0 5.6 0a2.8 2.8 0 1 0 -5.6 0M684.6 514.6a2.8 2.8 0 1 0 5.6 0a2.8 2.8 0 1 0 -5.6 0M690.7 607.0a2.8 2.8 0 1 0 5.6 0a2.8 2.8 0 1 0 -5.6 0M696.8 610.0a2.8 2.8 0 1 0 5.6 0a2.8 2.8 0 1 0 -5.6 0M702.9 598.0a2.8 2.8 0 1 0 5.6 0a2.8 2.8 0 1 0 -5.6 0M709.0 574.9a2.8 2.8 0 1 0 5.6 0a2.8 2.8 0 1 0 -5.6 0M715.1 604.0a2.8 2.8 0 1 0 5.6 0a2.8 2.8 0 1 0 -5.6 0M721.1 599.0a2.8 2.8 0 1 0 5.6 0a2.8 2.8 0 1 0 -5.6 0M727.2 590.9a2.8 2.8 0 1 0 5.6 0a2.8 2.8 0 1 0 -5.6 0M733.3 592.9a2.8 2.8 0 1 0 5.6 0a2.8 2.8 0 1 0 -5.6 0M739.4 587.9a2.8 2.8 0 1 0 5.6 0a2.8 2.8 0 1 0 -5.6 0M745.5 592.9a2.8 2.8 0 1 0 5.6 0a2.8 2.8 0 1 0 -5.6 0M751.6 562.8a2.8 2.8 0 1 0 5.6 0a2.8 2.8 0 1 0 -5.6 0M757.7 587.9a2.8 2.8 0 1 0 5.6 0a2.8 2.8 0 1 0 -5.6 0M763.8 587.9a2.8 2.8 0 1 0 5.6 0a2.8 2.8 0 1 0 -5.6 0M769.9 566.8a2.8 2.8 0 1 0 5.6 0a2.8 2.8 0 1 0 -5.6 0" fill="#ff0000"/>
<path d="M136.3 408.8h6.1v6.1h-6.1zM142.3 408.1h6.1v6.1h-6.1zM148.4 408.1h6.1v6.1h-6.1zM154.5 407.1h6.1v6.1h-6.1zM160.6 407.1h6.1v6.1h-6.1zM166.7 418.8h6.1v6.1h-6.1zM172.8 410.1h6.1v6.1h-6.1zM178.9 414.8h6.1v6.1h-6.1zM185.0 456.3h6.1v6.1h-6.1zM191.1 477.1h6.1v6.1h-6.1zM197.2 516.7h6.1v6.1h-6.1zM203.2 516.7h6.1v6.1h-6.1zM209.3 529.7h6.1v6.1h-6.1zM215.4 532.1h6.1v6.1h-6.1zM221.5 530.1h6.1v6.1h-6.1zM227.6 536.7h6.1v6.1h-6.1zM233.7 536.7h6.1v6.1h-6.1zM239.8 533.2h6.1v6.1h-6.1zM245.9 542.8h6.1v6.1h-6.1zM252.0 537.8h6.1v6.1h-6.1zM258.1 530.1h6.1v6.1h-6.1zM264.1 543.4h6.1v6.1h-6.1zM270.2 534.1h6.1v6.1h-6.1zM276.3 552.8h6.1v6.1h-6.1zM282.4 549.8h6.1v6.1h-6.1zM288.5 544.8h6.1v6.1h-6.1zM294.6 553.8h6.1v6.1h-6.1zM300.7 554.8h6.1v6.1h-6.1zM306.8 564.9h6.1v6.1h-6.1zM312.9 564.9h6.1v6.1h-6.1zM319.0 573.5h6.1v6.1h-6.1zM325.0 554.8h6.1v6.1h-6.1zM331.1 554.8h6.1v6.1h-6.1zM337.2 549.8h6.1v6.1h-6.1zM343.3 544.8h6.1v6.1h-6.1zM349.4 555.8h6.1v6.1h-6.1zM355.5 549.8h6.1v6.1h-6.1zM361.6 558.8h6.1v6.1h-6.1zM367.7 545.8h6.1v6.1h-6.1zM373.8 558.8h6.1v6.1h-6.1zM379.9 559.8h6.1v6.1h-6.1zM385.9 566.9h6.1v6.1h-6.1zM392.0 558.8h6.1v6.1h-6.1zM398.1 570.9h6.1v6.1h-6.1zM404.2 569.9h6.1v6.1h-6.1zM410.3 570.9h6.1v6.1h-6.1zM416.4 560.9h6.1v6.1h-6.1zM422.5 554.8h6.1v6.1h-6.1zM428.6 569.9h6.1v6.1h-6.1zM434.7 555.8h6.1v6.1h-6.1zM440.8 567.9h6.1v6.1h-6.1zM446.8 564.9h6.1v6.1h-6.1zM452.9 572.9h6.1v6.1h-6.1zM459.0 556.8h6.1v6.1h-6.1zM465.1 535.7h6.1v6.1h-6.1zM471.2 546.8h6.1v6.1h-6.1zM477.3 550.8h6.1v6.1h-6.1zM483.4 552.8h6.1v6.1h-6.1zM489.5 549.8h6.1v6.1h-6.1zM495.6 557.8h6.1v6.1h-6.1zM501.7 552.8h6.1v6.1h-6.1zM507.7 550.8h6.1v6.1h-6.1zM513.8 550.8h6.1v6.1h-6.1zM519.9 552.8h6.1v6.1h-6.1zM526.0 563.8h6.1v6.1h-6.1zM532.1 563.8h6.1v6.1h-6.1zM538.2 573.9h6.1v6.1h-6.1zM544.3 550.8h6.1v6.1h-6.1zM550.4 571.9h6.1v6.1h-6.1zM556.5 556.8h6.1v6.1h-6.1zM562.6 559.8h6.1v6.1h-6.1zM568.6 556.8h6.1v6.1h-6.1zM574.7 562.8h6.1v6.1h-6.1zM580.8 568.9h6.1v6.1h-6.1zM586.9 568.9h6.1v6.1h-6.1zM593.0 558.8h6.1v6.1h-6.1zM599.1 549.8h6.1v6.1h-6.1zM605.2 551.8h6.1v6.1h-6.1zM611.3 570.9h6.1v6.1h-6.1zM617.4 569.9h6.1v6.1h-6.1zM623.5 544.8h6.1v6.1h-6.1zM629.5 558.8h6.1v6.1h-6.1zM635.6 556.8h6.1v6.1h-6.1zM641.7 559.8h6.1v6.1h-6.1zM647.8 567.9h6.1v6.1h-6.1zM653.9 552.8h6.1v6.1h-6.1zM660.0 568.9h6.1v6.1h-6.1zM666.1 554.8h6.1v6.1h-6.1zM672.2 568.9h6.1v6.1h-6.1zM678.3 556.8h6.1v6.1h-6.1zM684.4 574.9h6.1v6.1h-6.1zM690.4 550.8h6.1v6.1h-6.1zM696.5 544.8h6.1v6.1h-6.1zM702.6 557.8h6.1v6.1h-6.1zM708.7 577.9h6.1v6.1h-6.1zM714.8 557.8h6.1v6.1h-6.1zM720.9 565.8h6.1v6.1h-6.1zM727.0 575.9h6.1v6.1h-6.1zM733.1 569.9h6.1v6.1h-6.1zM739.2 583.9h6.1v6.1h-6.1zM745.3 565.8h6.1v6.1h-6.1zM751.3 583.9h6.1v6.1h-6.1zM757.4 575.9h6.1v6.1h-6.1zM763.5 563.8h6.1v6.1h-6.1zM769.6 583.9h6.1v6.1h-6.1z" fill="#000"/>
<rect x="141.0" y="370.3" width="639.0" height="310.7" fill="none" stroke="#2e2e2e" stroke-width="2.2"/>
</g>
<g id="a4">
<path d="M976.4 681.0v-6.5M976.4 370.5v6.5M1142.1 681.0v-6.5M1142.1 370.5v6.5M1307.7 681.0v-6.5M1307.7 370.5v6.5M1473.4 681.0v-6.5M1473.4 370.5v6.5M1059.2 681.0v-3.5M1059.2 370.5v3.5M1224.9 681.0v-3.5M1224.9 370.5v3.5M1390.5 681.0v-3.5M1390.5 370.5v3.5M1556.2 681.0v-3.5M1556.2 370.5v3.5M943.3 645.9h6.5M943.3 576.9h6.5M943.3 507.9h6.5M943.3 438.9h6.5M943.3 611.4h3.5M943.3 542.4h3.5M943.3 473.4h3.5M943.3 404.4h3.5M1639.0 389.8h-6.5M1639.0 431.4h-6.5M1639.0 473.0h-6.5M1639.0 514.6h-6.5M1639.0 556.2h-6.5M1639.0 597.8h-6.5M1639.0 639.4h-6.5M1639.0 410.6h-3.5M1639.0 452.2h-3.5M1639.0 493.8h-3.5M1639.0 535.4h-3.5M1639.0 577.0h-3.5M1639.0 618.6h-3.5M1639.0 660.2h-3.5" stroke="#2e2e2e" stroke-width="1.6" fill="none"/>
<g fill="#111" stroke="#111" stroke-width="0.6"><text x="976.4" y="708.3" text-anchor="middle">0</text><text x="1142.1" y="708.3" text-anchor="middle">50</text><text x="1307.7" y="708.3" text-anchor="middle">100</text><text x="1473.4" y="708.3" text-anchor="middle">150</text><text x="1639.0" y="708.3" text-anchor="middle">200</text></g>
<g fill="#ff0000" stroke="#ff0000" stroke-width="0.6"><text x="935.0" y="654.1" text-anchor="end">0.4</text><text x="935.0" y="585.1" text-anchor="end">0.6</text><text x="935.0" y="516.1" text-anchor="end">0.8</text><text x="935.0" y="447.1" text-anchor="end">1.0</text><text x="935.0" y="378.1" text-anchor="end">1.2</text></g>
<g fill="#111" stroke="#111" stroke-width="0.6"><text x="1647.5" y="398.0">-0.05</text><text x="1647.5" y="439.6">0.00</text><text x="1647.5" y="481.2">0.05</text><text x="1647.5" y="522.8">0.10</text><text x="1647.5" y="564.4">0.15</text><text x="1647.5" y="606.0">0.20</text><text x="1647.5" y="647.6">0.25</text><text x="1647.5" y="689.2">0.30</text></g>
<path d="M942.5 443.4V461.4M949.1 441.1V459.7M955.8 445.4V459.4M962.4 444.0V458.8M969.0 444.5V460.3M975.6 455.9V469.7M982.2 498.3V511.7M988.9 530.9V548.5M995.5 559.0V574.0M1002.1 573.7V591.3M1008.7 585.6V604.4M1015.3 589.2V604.8M1022.0 585.2V602.8M1028.6 580.8V594.0M1035.2 569.9V587.9M1041.8 578.5V592.1M1048.4 589.9V608.1M1055.1 578.6V594.6M1061.7 583.6V602.4M1068.3 587.4V604.6M1074.9 588.1V603.9M1081.5 583.2V596.8M1088.2 580.4V593.6M1094.8 578.4V596.4M1101.4 588.8V605.2M1108.0 586.3V600.5M1114.6 591.7V606.3M1121.3 590.6V607.4M1127.9 578.0V594.0M1134.5 584.9V601.1M1141.1 581.8V598.2M1147.7 589.9V608.1M1154.4 591.5V604.5M1161.0 597.8V616.2M1167.6 582.5V599.5M1174.2 597.5V616.5M1180.8 597.1V610.9M1187.5 596.5V609.5M1194.1 586.6V601.4M1200.7 589.0V603.0M1207.3 599.8V616.2M1213.9 599.7V614.3M1220.6 596.5V609.5M1227.2 596.7V611.3M1233.8 593.6V612.4M1240.4 606.6V625.4M1247.0 593.5V610.5M1253.7 606.5V621.1M1260.3 602.6V616.2M1266.9 602.9V621.1M1273.5 602.6V616.2M1280.1 596.5V611.1M1286.8 593.3V609.7M1293.4 606.9V620.7M1300.0 597.0V612.8M1306.6 608.3V621.5M1313.2 596.3V611.3M1319.9 604.9V622.7M1326.5 602.5V620.7M1333.1 614.9V632.9M1339.7 595.3V612.3M1346.3 601.0V620.0M1353.0 602.7V616.1M1359.6 611.3V625.3M1366.2 615.4V630.0M1372.8 622.6V640.8M1379.4 623.8V641.8M1386.1 625.7V642.1M1392.7 612.9V628.1M1399.3 622.9V638.1M1405.9 611.1V629.9M1412.5 618.9V635.5M1419.2 615.6V629.8M1425.8 611.8V624.8M1432.4 596.0V609.4M1439.0 613.9V627.1M1445.6 599.4V614.8M1452.3 604.3V618.9M1458.9 599.5V616.5M1465.5 598.4V611.4M1472.1 606.3V621.3M1478.7 594.5V608.5M1485.4 583.3V601.9M1492.0 590.4V608.2M1498.6 584.4V600.8M1505.2 610.9V630.1M1511.8 604.2V619.0M1518.5 595.8V614.0M1525.1 608.8V623.2M1531.7 589.8V608.8M1538.3 603.7V619.5M1544.9 607.9V626.5M1551.6 612.1V628.9M1558.2 615.8V629.6M1564.8 603.8V621.6M1571.4 614.3V628.9M1578.0 626.2V641.6M1584.7 616.5V633.5M1591.3 606.7V625.3M1597.9 606.8V620.8M1604.5 617.5V632.5M1611.1 618.1V631.9M1617.8 625.5V644.5M1624.4 612.0V629.0M1631.0 617.5V630.3" stroke="#ff6666" stroke-width="2.4" fill="none" opacity="1.0"/>
<path d="M942.5 452.4L949.1 450.4L955.8 452.4L962.4 451.4L969.0 452.4L975.6 462.8L982.2 505.0L988.9 539.7L995.5 566.5L1002.1 582.5L1008.7 595.0L1015.3 597.0L1022.0 594.0L1028.6 587.4L1035.2 578.9L1041.8 585.3L1048.4 599.0L1055.1 586.6L1061.7 593.0L1068.3 596.0L1074.9 596.0L1081.5 590.0L1088.2 587.0L1094.8 587.4L1101.4 597.0L1108.0 593.4L1114.6 599.0L1121.3 599.0L1127.9 586.0L1134.5 593.0L1141.1 590.0L1147.7 599.0L1154.4 598.0L1161.0 607.0L1167.6 591.0L1174.2 607.0L1180.8 604.0L1187.5 603.0L1194.1 594.0L1200.7 596.0L1207.3 608.0L1213.9 607.0L1220.6 603.0L1227.2 604.0L1233.8 603.0L1240.4 616.0L1247.0 602.0L1253.7 613.8L1260.3 609.4L1266.9 612.0L1273.5 609.4L1280.1 603.8L1286.8 601.5L1293.4 613.8L1300.0 604.9L1306.6 614.9L1313.2 603.8L1319.9 613.8L1326.5 611.6L1333.1 623.9L1339.7 603.8L1346.3 610.5L1353.0 609.4L1359.6 618.3L1366.2 622.7L1372.8 631.7L1379.4 632.8L1386.1 633.9L1392.7 620.5L1399.3 630.5L1405.9 620.5L1412.5 627.2L1419.2 622.7L1425.8 618.3L1432.4 602.7L1439.0 620.5L1445.6 607.1L1452.3 611.6L1458.9 608.0L1465.5 604.9L1472.1 613.8L1478.7 601.5L1485.4 592.6L1492.0 599.3L1498.6 592.6L1505.2 620.5L1511.8 611.6L1518.5 604.9L1525.1 616.0L1531.7 599.3L1538.3 611.6L1544.9 617.2L1551.6 620.5L1558.2 622.7L1564.8 612.7L1571.4 621.6L1578.0 633.9L1584.7 625.0L1591.3 616.0L1597.9 613.8L1604.5 625.0L1611.1 625.0L1617.8 635.0L1624.4 620.5L1631.0 623.9" stroke="#ff2a2a" stroke-width="1.1" fill="none"/>
<path d="M942.5 434.0V448.6M949.1 432.1V450.5M955.8 434.8V447.8M962.4 433.1V449.5M969.0 434.0V449.8M975.6 444.2V458.6M982.2 423.5V441.9M988.9 408.3V422.1M995.5 433.5V447.1M1002.1 478.5V492.5M1008.7 510.2V527.2M1015.3 534.5V549.1M1022.0 551.5V566.1M1028.6 555.3V573.7M1035.2 567.3V584.5M1041.8 566.9V584.9M1048.4 561.0V574.8M1055.1 567.2V580.6M1061.7 562.3V575.5M1068.3 560.1V575.7M1074.9 561.4V576.4M1081.5 569.9V585.9M1088.2 564.0V579.8M1094.8 565.3V582.5M1101.4 563.3V578.5M1108.0 563.7V578.1M1114.6 562.2V575.6M1121.3 562.9V580.9M1127.9 573.7V592.3M1134.5 574.6V589.4M1141.1 574.2V587.6M1147.7 572.1V587.7M1154.4 570.1V585.7M1161.0 565.5V582.3M1167.6 579.2V592.8M1174.2 571.9V585.9M1180.8 571.8V586.0M1187.5 573.8V590.2M1194.1 575.0V589.0M1200.7 575.2V590.8M1207.3 573.6V590.4M1213.9 575.4V594.6M1220.6 580.2V593.8M1227.2 580.1V593.9M1233.8 575.9V594.1M1240.4 574.1V589.9M1247.0 582.8V599.2M1253.7 582.2V598.6M1260.3 586.7V600.7M1266.9 594.7V608.3M1273.5 586.4V601.0M1280.1 586.6V605.4M1286.8 594.3V608.7M1293.4 584.4V598.6M1300.0 586.7V600.7M1306.6 584.5V598.5M1313.2 591.1V609.7M1319.9 587.0V605.0M1326.5 589.5V606.9M1333.1 581.0V595.2M1339.7 595.7V609.7M1346.3 593.8V609.2M1353.0 596.2V609.2M1359.6 589.0V605.2M1366.2 590.0V606.4M1372.8 581.9V596.7M1379.4 582.0V596.6M1386.1 581.4V597.2M1392.7 592.8V610.2M1399.3 583.7V599.3M1405.9 593.7V611.7M1412.5 585.9V603.7M1419.2 592.9V607.9M1425.8 593.6V611.8M1432.4 603.0V620.2M1439.0 598.7V615.5M1445.6 612.4V626.4M1452.3 607.5V622.3M1458.9 605.6V624.2M1465.5 613.4V629.8M1472.1 613.8V629.4M1478.7 614.1V629.1M1485.4 625.3V642.5M1492.0 608.6V623.4M1498.6 608.3V626.1M1505.2 587.2V604.8M1511.8 594.4V611.0M1518.5 605.5V622.1M1525.1 597.6V616.6M1531.7 604.2V623.4M1538.3 602.0V616.8M1544.9 601.9V616.9M1551.6 590.1V606.3M1558.2 589.2V607.2M1564.8 594.8V608.2M1571.4 592.3V608.5M1578.0 591.1V607.5M1584.7 603.4V619.8M1591.3 608.6V623.4M1597.9 614.9V628.3M1604.5 607.1V624.9M1611.1 612.8V626.0M1617.8 602.8V616.0M1624.4 614.5V628.7M1631.0 612.8V628.2" stroke="#5e5e5e" stroke-width="2.2" fill="none" opacity="1.0"/>
<path d="M942.5 441.3L949.1 441.3L955.8 441.3L962.4 441.3L969.0 441.9L975.6 451.4L982.2 432.7L988.9 415.2L995.5 440.3L1002.1 485.5L1008.7 518.7L1015.3 541.8L1022.0 558.8L1028.6 564.5L1035.2 575.9L1041.8 575.9L1048.4 567.9L1055.1 573.9L1061.7 568.9L1068.3 567.9L1074.9 568.9L1081.5 577.9L1088.2 571.9L1094.8 573.9L1101.4 570.9L1108.0 570.9L1114.6 568.9L1121.3 571.9L1127.9 583.0L1134.5 582.0L1141.1 580.9L1147.7 579.9L1154.4 577.9L1161.0 573.9L1167.6 586.0L1174.2 578.9L1180.8 578.9L1187.5 582.0L1194.1 582.0L1200.7 583.0L1207.3 582.0L1213.9 585.0L1220.6 587.0L1227.2 587.0L1233.8 585.0L1240.4 582.0L1247.0 591.0L1253.7 590.4L1260.3 593.7L1266.9 601.5L1273.5 593.7L1280.1 596.0L1286.8 601.5L1293.4 591.5L1300.0 593.7L1306.6 591.5L1313.2 600.4L1319.9 596.0L1326.5 598.2L1333.1 588.1L1339.7 602.7L1346.3 601.5L1353.0 602.7L1359.6 597.1L1366.2 598.2L1372.8 589.3L1379.4 589.3L1386.1 589.3L1392.7 601.5L1399.3 591.5L1405.9 602.7L1412.5 594.8L1419.2 600.4L1425.8 602.7L1432.4 611.6L1439.0 607.1L1445.6 619.4L1452.3 614.9L1458.9 614.9L1465.5 621.6L1472.1 621.6L1478.7 621.6L1485.4 633.9L1492.0 616.0L1498.6 617.2L1505.2 596.0L1511.8 602.7L1518.5 613.8L1525.1 607.1L1531.7 613.8L1538.3 609.4L1544.9 609.4L1551.6 598.2L1558.2 598.2L1564.8 601.5L1571.4 600.4L1578.0 599.3L1584.7 611.6L1591.3 616.0L1597.9 621.6L1604.5 616.0L1611.1 619.4L1617.8 609.4L1624.4 621.6L1631.0 620.5" stroke="#1a1a1a" stroke-width="1.6" fill="none"/>
<path d="M939.7 452.4a2.8 2.8 0 1 0 5.6 0a2.8 2.8 0 1 0 -5.6 0M946.3 450.4a2.8 2.8 0 1 0 5.6 0a2.8 2.8 0 1 0 -5.6 0M953.0 452.4a2.8 2.8 0 1 0 5.6 0a2.8 2.8 0 1 0 -5.6 0M959.6 451.4a2.8 2.8 0 1 0 5.6 0a2.8 2.8 0 1 0 -5.6 0M966.2 452.4a2.8 2.8 0 1 0 5.6 0a2.8 2.8 0 1 0 -5.6 0M972.8 462.8a2.8 2.8 0 1 0 5.6 0a2.8 2.8 0 1 0 -5.6 0M979.4 505.0a2.8 2.8 0 1 0 5.6 0a2.8 2.8 0 1 0 -5.6 0M986.1 539.7a2.8 2.8 0 1 0 5.6 0a2.8 2.8 0 1 0 -5.6 0M992.7 566.5a2.8 2.8 0 1 0 5.6 0a2.8 2.8 0 1 0 -5.6 0M999.3 582.5a2.8 2.8 0 1 0 5.6 0a2.8 2.8 0 1 0 -5.6 0M1005.9 595.0a2.8 2.8 0 1 0 5.6 0a2.8 2.8 0 1 0 -5.6 0M1012.5 597.0a2.8 2.8 0 1 0 5.6 0a2.8 2.8 0 1 0 -5.6 0M1019.2 594.0a2.8 2.8 0 1 0 5.6 0a2.8 2.8 0 1 0 -5.6 0M1025.8 587.4a2.8 2.8 0 1 0 5.6 0a2.8 2.8 0 1 0 -5.6 0M1032.4 578.9a2.8 2.8 0 1 0 5.6 0a2.8 2.8 0 1 0 -5.6 0M1039.0 585.3a2.8 2.8 0 1 0 5.6 0a2.8 2.8 0 1 0 -5.6 0M1045.6 599.0a2.8 2.8 0 1 0 5.6 0a2.8 2.8 0 1 0 -5.6 0M1052.3 586.6a2.8 2.8 0 1 0 5.6 0a2.8 2.8 0 1 0 -5.6 0M1058.9 593.0a2.8 2.8 0 1 0 5.6 0a2.8 2.8 0 1 0 -5.6 0M1065.5 596.0a2.8 2.8 0 1 0 5.6 0a2.8 2.8 0 1 0 -5.6 0M1072.1 596.0a2.8 2.8 0 1 0 5.6 0a2.8 2.8 0 1 0 -5.6 0M1078.7 590.0a2.8 2.8 0 1 0 5.6 0a2.8 2.8 0 1 0 -5.6 0M1085.4 587.0a2.8 2.8 0 1 0 5.6 0a2.8 2.8 0 1 0 -5.6 0M1092.0 587.4a2.8 2.8 0 1 0 5.6 0a2.8 2.8 0 1 0 -5.6 0M1098.6 597.0a2.8 2.8 0 1 0 5.6 0a2.8 2.8 0 1 0 -5.6 0M1105.2 593.4a2.8 2.8 0 1 0 5.6 0a2.8 2.8 0 1 0 -5.6 0M1111.8 599.0a2.8 2.8 0 1 0 5.6 0a2.8 2.8 0 1 0 -5.6 0M1118.5 599.0a2.8 2.8 0 1 0 5.6 0a2.8 2.8 0 1 0 -5.6 0M1125.1 586.0a2.8 2.8 0 1 0 5.6 0a2.8 2.8 0 1 0 -5.6 0M1131.7 593.0a2.8 2.8 0 1 0 5.6 0a2.8 2.8 0 1 0 -5.6 0M1138.3 590.0a2.8 2.8 0 1 0 5.6 0a2.8 2.8 0 1 0 -5.6 0M1144.9 599.0a2.8 2.8 0 1 0 5.6 0a2.8 2.8 0 1 0 -5.6 0M1151.6 598.0a2.8 2.8 0 1 0 5.6 0a2.8 2.8 0 1 0 -5.6 0M1158.2 607.0a2.8 2.8 0 1 0 5.6 0a2.8 2.8 0 1 0 -5.6 0M1164.8 591.0a2.8 2.8 0 1 0 5.6 0a2.8 2.8 0 1 0 -5.6 0M1171.4 607.0a2.8 2.8 0 1 0 5.6 0a2.8 2.8 0 1 0 -5.6 0M1178.0 604.0a2.8 2.8 0 1 0 5.6 0a2.8 2.8 0 1 0 -5.6 0M1184.7 603.0a2.8 2.8 0 1 0 5.6 0a2.8 2.8 0 1 0 -5.6 0M1191.3 594.0a2.8 2.8 0 1 0 5.6 0a2.8 2.8 0 1 0 -5.6 0M1197.9 596.0a2.8 2.8 0 1 0 5.6 0a2.8 2.8 0 1 0 -5.6 0M1204.5 608.0a2.8 2.8 0 1 0 5.6 0a2.8 2.8 0 1 0 -5.6 0M1211.1 607.0a2.8 2.8 0 1 0 5.6 0a2.8 2.8 0 1 0 -5.6 0M1217.8 603.0a2.8 2.8 0 1 0 5.6 0a2.8 2.8 0 1 0 -5.6 0M1224.4 604.0a2.8 2.8 0 1 0 5.6 0a2.8 2.8 0 1 0 -5.6 0M1231.0 603.0a2.8 2.8 0 1 0 5.6 0a2.8 2.8 0 1 0 -5.6 0M1237.6 616.0a2.8 2.8 0 1 0 5.6 0a2.8 2.8 0 1 0 -5.6 0M1244.2 602.0a2.8 2.8 0 1 0 5.6 0a2.8 2.8 0 1 0 -5.6 0M1250.9 613.8a2.8 2.8 0 1 0 5.6 0a2.8 2.8 0 1 0 -5.6 0M1257.5 609.4a2.8 2.8 0 1 0 5.6 0a2.8 2.8 0 1 0 -5.6 0M1264.1 612.0a2.8 2.8 0 1 0 5.6 0a2.8 2.8 0 1 0 -5.6 0M1270.7 609.4a2.8 2.8 0 1 0 5.6 0a2.8 2.8 0 1 0 -5.6 0M1277.3 603.8a2.8 2.8 0 1 0 5.6 0a2.8 2.8 0 1 0 -5.6 0M1284.0 601.5a2.8 2.8 0 1 0 5.6 0a2.8 2.8 0 1 0 -5.6 0M1290.6 613.8a2.8 2.8 0 1 0 5.6 0a2.8 2.8 0 1 0 -5.6 0M1297.2 604.9a2.8 2.8 0 1 0 5.6 0a2.8 2.8 0 1 0 -5.6 0M1303.8 614.9a2.8 2.8 0 1 0 5.6 0a2.8 2.8 0 1 0 -5.6 0M1310.4 603.8a2.8 2.8 0 1 0 5.6 0a2.8 2.8 0 1 0 -5.6 0M1317.1 613.8a2.8 2.8 0 1 0 5.6 0a2.8 2.8 0 1 0 -5.6 0M1323.7 611.6a2.8 2.8 0 1 0 5.6 0a2.8 2.8 0 1 0 -5.6 0M1330.3 623.9a2.8 2.8 0 1 0 5.6 0a2.8 2.8 0 1 0 -5.6 0M1336.9 603.8a2.8 2.8 0 1 0 5.6 0a2.8 2.8 0 1 0 -5.6 0M1343.5 610.5a2.8 2.8 0 1 0 5.6 0a2.8 2.8 0 1 0 -5.6 0M1350.2 609.4a2.8 2.8 0 1 0 5.6 0a2.8 2.8 0 1 0 -5.6 0M1356.8 618.3a2.8 2.8 0 1 0 5.6 0a2.8 2.8 0 1 0 -5.6 0M1363.4 622.7a2.8 2.8 0 1 0 5.6 0a2.8 2.8 0 1 0 -5.6 0M1370.0 631.7a2.8 2.8 0 1 0 5.6 0a2.8 2.8 0 1 0 -5.6 0M1376.6 632.8a2.8 2.8 0 1 0 5.6 0a2.8 2.8 0 1 0 -5.6 0M1383.3 633.9a2.8 2.8 0 1 0 5.6 0a2.8 2.8 0 1 0 -5.6 0M1389.9 620.5a2.8 2.8 0 1 0 5.6 0a2.8 2.8 0 1 0 -5.6 0M1396.5 630.5a2.8 2.8 0 1 0 5.6 0a2.8 2.8 0 1 0 -5.6 0M1403.1 620.5a2.8 2.8 0 1 0 5.6 0a2.8 2.8 0 1 0 -5.6 0M1409.7 627.2a2.8 2.8 0 1 0 5.6 0a2.8 2.8 0 1 0 -5.6 0M1416.4 622.7a2.8 2.8 0 1 0 5.6 0a2.8 2.8 0 1 0 -5.6 0M1423.0 618.3a2.8 2.8 0 1 0 5.6 0a2.8 2.8 0 1 0 -5.6 0M1429.6 602.7a2.8 2.8 0 1 0 5.6 0a2.8 2.8 0 1 0 -5.6 0M1436.2 620.5a2.8 2.8 0 1 0 5.6 0a2.8 2.8 0 1 0 -5.6 0M1442.8 607.1a2.8 2.8 0 1 0 5.6 0a2.8 2.8 0 1 0 -5.6 0M1449.5 611.6a2.8 2.8 0 1 0 5.6 0a2.8 2.8 0 1 0 -5.6 0M1456.1 608.0a2.8 2.8 0 1 0 5.6 0a2.8 2.8 0 1 0 -5.6 0M1462.7 604.9a2.8 2.8 0 1 0 5.6 0a2.8 2.8 0 1 0 -5.6 0M1469.3 613.8a2.8 2.8 0 1 0 5.6 0a2.8 2.8 0 1 0 -5.6 0M1475.9 601.5a2.8 2.8 0 1 0 5.6 0a2.8 2.8 0 1 0 -5.6 0M1482.6 592.6a2.8 2.8 0 1 0 5.6 0a2.8 2.8 0 1 0 -5.6 0M1489.2 599.3a2.8 2.8 0 1 0 5.6 0a2.8 2.8 0 1 0 -5.6 0M1495.8 592.6a2.8 2.8 0 1 0 5.6 0a2.8 2.8 0 1 0 -5.6 0M1502.4 620.5a2.8 2.8 0 1 0 5.6 0a2.8 2.8 0 1 0 -5.6 0M1509.0 611.6a2.8 2.8 0 1 0 5.6 0a2.8 2.8 0 1 0 -5.6 0M1515.7 604.9a2.8 2.8 0 1 0 5.6 0a2.8 2.8 0 1 0 -5.6 0M1522.3 616.0a2.8 2.8 0 1 0 5.6 0a2.8 2.8 0 1 0 -5.6 0M1528.9 599.3a2.8 2.8 0 1 0 5.6 0a2.8 2.8 0 1 0 -5.6 0M1535.5 611.6a2.8 2.8 0 1 0 5.6 0a2.8 2.8 0 1 0 -5.6 0M1542.1 617.2a2.8 2.8 0 1 0 5.6 0a2.8 2.8 0 1 0 -5.6 0M1548.8 620.5a2.8 2.8 0 1 0 5.6 0a2.8 2.8 0 1 0 -5.6 0M1555.4 622.7a2.8 2.8 0 1 0 5.6 0a2.8 2.8 0 1 0 -5.6 0M1562.0 612.7a2.8 2.8 0 1 0 5.6 0a2.8 2.8 0 1 0 -5.6 0M1568.6 621.6a2.8 2.8 0 1 0 5.6 0a2.8 2.8 0 1 0 -5.6 0M1575.2 633.9a2.8 2.8 0 1 0 5.6 0a2.8 2.8 0 1 0 -5.6 0M1581.9 625.0a2.8 2.8 0 1 0 5.6 0a2.8 2.8 0 1 0 -5.6 0M1588.5 616.0a2.8 2.8 0 1 0 5.6 0a2.8 2.8 0 1 0 -5.6 0M1595.1 613.8a2.8 2.8 0 1 0 5.6 0a2.8 2.8 0 1 0 -5.6 0M1601.7 625.0a2.8 2.8 0 1 0 5.6 0a2.8 2.8 0 1 0 -5.6 0M1608.3 625.0a2.8 2.8 0 1 0 5.6 0a2.8 2.8 0 1 0 -5.6 0M1615.0 635.0a2.8 2.8 0 1 0 5.6 0a2.8 2.8 0 1 0 -5.6 0M1621.6 620.5a2.8 2.8 0 1 0 5.6 0a2.8 2.8 0 1 0 -5.6 0M1628.2 623.9a2.8 2.8 0 1 0 5.6 0a2.8 2.8 0 1 0 -5.6 0" fill="#ff0000"/>
<path d="M939.5 438.2h6.1v6.1h-6.1zM946.1 438.2h6.1v6.1h-6.1zM952.7 438.2h6.1v6.1h-6.1zM959.3 438.2h6.1v6.1h-6.1zM966.0 438.8h6.1v6.1h-6.1zM972.6 448.3h6.1v6.1h-6.1zM979.2 429.6h6.1v6.1h-6.1zM985.8 412.1h6.1v6.1h-6.1zM992.4 437.2h6.1v6.1h-6.1zM999.1 482.4h6.1v6.1h-6.1zM1005.7 515.7h6.1v6.1h-6.1zM1012.3 538.8h6.1v6.1h-6.1zM1018.9 555.8h6.1v6.1h-6.1zM1025.5 561.5h6.1v6.1h-6.1zM1032.2 572.9h6.1v6.1h-6.1zM1038.8 572.9h6.1v6.1h-6.1zM1045.4 564.9h6.1v6.1h-6.1zM1052.0 570.9h6.1v6.1h-6.1zM1058.6 565.9h6.1v6.1h-6.1zM1065.3 564.9h6.1v6.1h-6.1zM1071.9 565.9h6.1v6.1h-6.1zM1078.5 574.9h6.1v6.1h-6.1zM1085.1 568.9h6.1v6.1h-6.1zM1091.7 570.9h6.1v6.1h-6.1zM1098.4 567.9h6.1v6.1h-6.1zM1105.0 567.9h6.1v6.1h-6.1zM1111.6 565.9h6.1v6.1h-6.1zM1118.2 568.9h6.1v6.1h-6.1zM1124.8 580.0h6.1v6.1h-6.1zM1131.5 579.0h6.1v6.1h-6.1zM1138.1 577.9h6.1v6.1h-6.1zM1144.7 576.9h6.1v6.1h-6.1zM1151.3 574.9h6.1v6.1h-6.1zM1157.9 570.9h6.1v6.1h-6.1zM1164.6 583.0h6.1v6.1h-6.1zM1171.2 575.9h6.1v6.1h-6.1zM1177.8 575.9h6.1v6.1h-6.1zM1184.4 579.0h6.1v6.1h-6.1zM1191.0 579.0h6.1v6.1h-6.1zM1197.7 580.0h6.1v6.1h-6.1zM1204.3 579.0h6.1v6.1h-6.1zM1210.9 582.0h6.1v6.1h-6.1zM1217.5 584.0h6.1v6.1h-6.1zM1224.1 584.0h6.1v6.1h-6.1zM1230.8 582.0h6.1v6.1h-6.1zM1237.4 579.0h6.1v6.1h-6.1zM1244.0 588.0h6.1v6.1h-6.1zM1250.6 587.4h6.1v6.1h-6.1zM1257.2 590.7h6.1v6.1h-6.1zM1263.9 598.5h6.1v6.1h-6.1zM1270.5 590.7h6.1v6.1h-6.1zM1277.1 593.0h6.1v6.1h-6.1zM1283.7 598.5h6.1v6.1h-6.1zM1290.3 588.5h6.1v6.1h-6.1zM1297.0 590.7h6.1v6.1h-6.1zM1303.6 588.5h6.1v6.1h-6.1zM1310.2 597.4h6.1v6.1h-6.1zM1316.8 593.0h6.1v6.1h-6.1zM1323.4 595.2h6.1v6.1h-6.1zM1330.1 585.1h6.1v6.1h-6.1zM1336.7 599.7h6.1v6.1h-6.1zM1343.3 598.5h6.1v6.1h-6.1zM1349.9 599.7h6.1v6.1h-6.1zM1356.5 594.1h6.1v6.1h-6.1zM1363.2 595.2h6.1v6.1h-6.1zM1369.8 586.2h6.1v6.1h-6.1zM1376.4 586.2h6.1v6.1h-6.1zM1383.0 586.2h6.1v6.1h-6.1zM1389.6 598.5h6.1v6.1h-6.1zM1396.3 588.5h6.1v6.1h-6.1zM1402.9 599.7h6.1v6.1h-6.1zM1409.5 591.8h6.1v6.1h-6.1zM1416.1 597.4h6.1v6.1h-6.1zM1422.7 599.7h6.1v6.1h-6.1zM1429.4 608.6h6.1v6.1h-6.1zM1436.0 604.1h6.1v6.1h-6.1zM1442.6 616.4h6.1v6.1h-6.1zM1449.2 611.9h6.1v6.1h-6.1zM1455.8 611.9h6.1v6.1h-6.1zM1462.5 618.6h6.1v6.1h-6.1zM1469.1 618.6h6.1v6.1h-6.1zM1475.7 618.6h6.1v6.1h-6.1zM1482.3 630.9h6.1v6.1h-6.1zM1488.9 613.0h6.1v6.1h-6.1zM1495.6 614.2h6.1v6.1h-6.1zM1502.2 593.0h6.1v6.1h-6.1zM1508.8 599.7h6.1v6.1h-6.1zM1515.4 610.8h6.1v6.1h-6.1zM1522.0 604.1h6.1v6.1h-6.1zM1528.7 610.8h6.1v6.1h-6.1zM1535.3 606.4h6.1v6.1h-6.1zM1541.9 606.4h6.1v6.1h-6.1zM1548.5 595.2h6.1v6.1h-6.1zM1555.1 595.2h6.1v6.1h-6.1zM1561.8 598.5h6.1v6.1h-6.1zM1568.4 597.4h6.1v6.1h-6.1zM1575.0 596.2h6.1v6.1h-6.1zM1581.6 608.6h6.1v6.1h-6.1zM1588.2 613.0h6.1v6.1h-6.1zM1594.9 618.6h6.1v6.1h-6.1zM1601.5 613.0h6.1v6.1h-6.1zM1608.1 616.4h6.1v6.1h-6.1zM1614.7 606.4h6.1v6.1h-6.1zM1621.3 618.6h6.1v6.1h-6.1zM1628.0 617.5h6.1v6.1h-6.1z" fill="#000"/>
<rect x="943.3" y="370.5" width="695.7" height="310.5" fill="none" stroke="#2e2e2e" stroke-width="2.2"/>
</g>
<g id="b1">
<path d="M300.8 1086.3v-6.5M300.8 775.8v6.5M460.5 1086.3v-6.5M460.5 775.8v6.5M620.2 1086.3v-6.5M620.2 775.8v6.5M220.9 1086.3v-3.5M220.9 775.8v3.5M380.6 1086.3v-3.5M380.6 775.8v3.5M540.4 1086.3v-3.5M540.4 775.8v3.5M700.1 1086.3v-3.5M700.1 775.8v3.5M141.0 1009.6h6.5M141.0 932.0h6.5M141.0 854.4h6.5M141.0 1048.4h3.5M141.0 970.8h3.5M141.0 893.2h3.5M141.0 815.6h3.5M780.0 803.9h-6.5M780.0 860.5h-6.5M780.0 917.1h-6.5M780.0 973.7h-6.5M780.0 1030.3h-6.5M780.0 832.2h-3.5M780.0 888.8h-3.5M780.0 945.4h-3.5M780.0 1002.0h-3.5M780.0 1058.6h-3.5" stroke="#2e2e2e" stroke-width="1.6" fill="none"/>
<g fill="#111" stroke="#111" stroke-width="0.6"><text x="141.0" y="1113.6" text-anchor="middle">-5</text><text x="300.8" y="1113.6" text-anchor="middle">0</text><text x="460.5" y="1113.6" text-anchor="middle">5</text><text x="620.2" y="1113.6" text-anchor="middle">10</text><text x="780.0" y="1113.6" text-anchor="middle">15</text></g>
<g fill="#ff0000" stroke="#ff0000" stroke-width="0.6"><text x="132.7" y="1095.4" text-anchor="end">0.85</text><text x="132.7" y="1017.8" text-anchor="end">0.90</text><text x="132.7" y="940.2" text-anchor="end">0.95</text><text x="132.7" y="862.6" text-anchor="end">1.00</text><text x="132.7" y="785.0" text-anchor="end">1.05</text></g>
<g fill="#111" stroke="#111" stroke-width="0.6"><text x="788.5" y="812.1">-0.02</text><text x="788.5" y="868.7">0.00</text><text x="788.5" y="925.3">0.02</text><text x="788.5" y="981.9">0.04</text><text x="788.5" y="1038.5">0.06</text><text x="788.5" y="1095.1">0.08</text></g>
<path d="M141.8 819.1V949.9M148.2 819.4V962.8M154.6 788.6V950.2M160.9 810.9V921.9M167.3 793.5V939.3M173.7 808.5V970.5M180.1 801.3V925.5M186.5 788.0V902.6M192.8 795.5V931.3M199.2 820.9V933.9M205.6 800.1V922.7M212.0 776.8V927.6M218.4 805.1V949.7M224.7 776.8V884.3M231.1 824.8V956.2M237.5 825.6V956.6M243.9 803.7V913.1M250.3 794.8V922.0M256.6 781.2V927.6M263.0 819.8V930.2M269.4 776.8V889.4M275.8 776.8V922.6M282.2 784.5V925.5M288.5 776.8V909.0M294.9 836.4V972.8M301.3 818.1V980.9M307.7 788.1V950.7M314.1 820.9V953.3M320.4 776.8V903.8M326.8 776.8V902.4M333.2 837.0V971.0M339.6 797.5V913.3M346.0 809.9V947.1M352.3 782.1V938.7M358.7 819.4V957.6M365.1 798.6V925.0M371.5 811.1V957.9M377.9 776.8V905.4M384.2 816.4V938.4M390.6 902.2V1046.4M397.0 815.4V961.6M403.4 811.3V969.7M409.8 834.4V984.0M416.1 821.5V945.5M422.5 872.8V1006.6M428.9 870.0V1029.6M435.3 845.3V1006.1M441.7 850.2V973.8M448.0 870.8V1004.6M454.4 904.2V1023.4M460.8 910.4V1071.4M467.2 887.6V1011.8M473.6 830.0V953.0M479.9 948.3V1057.7M486.3 928.7V1085.3M492.7 889.4V1024.2M499.1 914.7V1053.1M505.5 856.1V1015.3M511.8 939.8V1085.3M518.2 884.6V1035.0M524.6 944.2V1073.8M531.0 930.7V1061.3M537.4 898.2V1031.4M543.7 918.7V1071.1M550.1 917.4V1052.6M556.5 911.5V1032.1M562.9 887.4V1046.2M569.3 865.1V1022.3M575.6 885.1V1036.5M582.0 878.3V1029.3M588.4 945.6V1080.4M594.8 839.4V993.8M601.2 929.1V1062.9M607.5 895.8V1049.8M613.9 901.1V1042.5M620.3 882.8V1042.8M626.7 976.4V1085.3M633.1 896.3V1025.3M639.4 935.8V1050.0M645.8 907.3V1032.3M652.2 934.5V1067.3M658.6 877.5V1032.1M665.0 929.3V1085.3M671.3 928.3V1071.5M677.7 901.3V1026.3M684.1 949.2V1085.3M690.5 868.6V1026.8M696.9 875.4V1038.2M703.2 911.9V1037.7M709.6 885.6V1026.0M716.0 968.2V1085.3M722.4 902.3V1017.7M728.8 884.7V1026.9M735.1 827.3V981.7M741.5 920.7V1083.3M747.9 941.8V1085.3M754.3 919.7V1050.3M760.7 879.6V1032.0" stroke="#ff6666" stroke-width="2.4" fill="none" opacity="1.0"/>
<path d="M141.8 884.5L148.2 891.1L154.6 869.4L160.9 866.4L167.3 866.4L173.7 889.5L180.1 863.4L186.5 845.3L192.8 863.4L199.2 877.4L205.6 861.4L212.0 850.9L218.4 877.4L224.7 810.8L231.1 890.5L237.5 891.1L243.9 858.4L250.3 858.4L256.6 854.4L263.0 875.0L269.4 812.8L275.8 842.3L282.2 855.0L288.5 839.3L294.9 904.6L301.3 899.5L307.7 869.4L314.1 887.1L320.4 837.7L326.8 822.8L333.2 904.0L339.6 855.4L346.0 878.5L352.3 860.4L358.7 888.5L365.1 861.8L371.5 884.5L377.9 835.7L384.2 877.4L390.6 974.3L397.0 888.5L403.4 890.5L409.8 909.2L416.1 883.5L422.5 939.7L428.9 949.8L435.3 925.7L441.7 912.0L448.0 937.7L454.4 963.8L460.8 990.9L467.2 949.7L473.6 891.5L479.9 1003.0L486.3 1008.0L492.7 956.8L499.1 983.9L505.5 935.7L511.8 1015.0L518.2 959.8L524.6 1009.0L531.0 996.0L537.4 964.8L543.7 994.9L550.1 985.0L556.5 971.8L562.9 966.8L569.3 943.7L575.6 960.8L582.0 953.8L588.4 1013.0L594.8 916.6L601.2 996.0L607.5 972.8L613.9 971.8L620.3 962.8L626.7 1039.1L633.1 960.8L639.4 992.9L645.8 969.8L652.2 1000.9L658.6 954.8L665.0 1009.0L671.3 999.9L677.7 963.8L684.1 1019.0L690.5 947.7L696.9 956.8L703.2 974.8L709.6 955.8L716.0 1030.1L722.4 960.0L728.8 955.8L735.1 904.5L741.5 1002.0L747.9 1018.0L754.3 985.0L760.7 955.8" stroke="#ff2a2a" stroke-width="1.1" fill="none"/>
<path d="M141.8 851.0V867.0M148.2 850.7V866.8M154.6 848.3V865.0M160.9 847.9V868.1M167.3 851.7V869.3M173.7 850.4V865.3M180.1 852.1V866.9M186.5 848.6V868.5M192.8 849.3V864.7M199.2 850.2V865.8M205.6 852.2V867.3M212.0 851.7V867.3M218.4 850.2V869.8M224.7 848.3V868.9M231.1 849.6V867.3M237.5 850.3V866.7M243.9 849.9V866.1M250.3 848.0V865.8M256.6 848.9V867.4M263.0 850.2V867.8M269.4 852.5V867.6M275.8 851.8V870.2M282.2 850.6V869.4M288.5 847.2V866.4M294.9 839.7V861.2M301.3 841.6V857.0M307.7 851.1V866.9M314.1 849.2V870.6M320.4 848.4V867.6M326.8 850.5V867.1M333.2 849.4V864.6M339.6 851.6V871.2M346.0 855.5V875.3M352.3 863.5V881.3M358.7 866.4V884.4M365.1 870.6V888.4M371.5 877.8V893.2M377.9 885.9V901.1M384.2 890.3V908.7M390.6 896.8V912.4M397.0 902.3V916.9M403.4 904.5V922.7M409.8 911.0V926.2M416.1 914.4V933.0M422.5 919.0V940.4M428.9 923.7V943.7M435.3 928.0V943.4M441.7 930.2V947.2M448.0 935.8V951.6M454.4 941.2V958.4M460.8 946.4V965.2M467.2 947.4V966.2M473.6 946.8V967.7M479.9 953.0V968.6M486.3 953.5V974.4M492.7 957.0V976.6M499.1 961.0V980.2M505.5 964.9V980.7M511.8 966.7V981.3M518.2 966.0V981.6M524.6 968.4V989.4M531.0 971.4V986.3M537.4 971.5V986.3M543.7 968.6V988.7M550.1 973.4V992.4M556.5 974.5V993.3M562.9 973.3V992.5M569.3 977.0V992.7M575.6 981.6V996.2M582.0 981.8V998.8M588.4 981.1V998.7M594.8 976.3V995.5M601.2 976.5V995.3M607.5 975.9V994.8M613.9 976.0V995.8M620.3 977.8V997.8M626.7 976.4V995.4M633.1 976.9V996.5M639.4 979.0V996.8M645.8 977.6V994.6M652.2 976.1V997.7M658.6 974.4V994.8M665.0 972.4V993.4M671.3 975.4V994.4M677.7 980.1V996.1M684.1 978.9V998.9M690.5 977.7V994.5M696.9 973.3V992.5M703.2 972.3V991.2M709.6 974.5V993.3M716.0 971.9V992.0M722.4 973.4V992.4M728.8 976.1V992.3M735.1 978.6V999.2M741.5 972.4V993.1M747.9 970.7V991.1M754.3 971.1V990.2M760.7 970.2V989.6M767.0 970.7V989.1" stroke="#5e5e5e" stroke-width="2.2" fill="none" opacity="1.0"/>
<path d="M141.8 859.0L148.2 858.7L154.6 856.6L160.9 858.0L167.3 860.5L173.7 857.8L180.1 859.5L186.5 858.5L192.8 857.0L199.2 858.0L205.6 859.8L212.0 859.5L218.4 860.0L224.7 858.6L231.1 858.5L237.5 858.5L243.9 858.0L250.3 856.9L256.6 858.2L263.0 859.0L269.4 860.0L275.8 861.0L282.2 860.0L288.5 856.8L294.9 850.4L301.3 849.3L307.7 859.0L314.1 859.9L320.4 858.0L326.8 858.8L333.2 857.0L339.6 861.4L346.0 865.4L352.3 872.4L358.7 875.4L365.1 879.5L371.5 885.5L377.9 893.5L384.2 899.5L390.6 904.6L397.0 909.6L403.4 913.6L409.8 918.6L416.1 923.7L422.5 929.7L428.9 933.7L435.3 935.7L441.7 938.7L448.0 943.7L454.4 949.8L460.8 955.8L467.2 956.8L473.6 957.2L479.9 960.8L486.3 964.0L492.7 966.8L499.1 970.6L505.5 972.8L511.8 974.0L518.2 973.8L524.6 978.9L531.0 978.9L537.4 978.9L543.7 978.7L550.1 982.9L556.5 983.9L562.9 982.9L569.3 984.9L575.6 988.9L582.0 990.3L588.4 989.9L594.8 985.9L601.2 985.9L607.5 985.4L613.9 985.9L620.3 987.8L626.7 985.9L633.1 986.7L639.4 987.9L645.8 986.1L652.2 986.9L658.6 984.6L665.0 982.9L671.3 984.9L677.7 988.1L684.1 988.9L690.5 986.1L696.9 982.9L703.2 981.7L709.6 983.9L716.0 982.0L722.4 982.9L728.8 984.2L735.1 988.9L741.5 982.7L747.9 980.9L754.3 980.7L760.7 979.9L767.0 979.9" stroke="#1a1a1a" stroke-width="2.2" fill="none"/>
<path d="M139.0 884.5a2.8 2.8 0 1 0 5.6 0a2.8 2.8 0 1 0 -5.6 0M145.4 891.1a2.8 2.8 0 1 0 5.6 0a2.8 2.8 0 1 0 -5.6 0M151.8 869.4a2.8 2.8 0 1 0 5.6 0a2.8 2.8 0 1 0 -5.6 0M158.1 866.4a2.8 2.8 0 1 0 5.6 0a2.8 2.8 0 1 0 -5.6 0M164.5 866.4a2.8 2.8 0 1 0 5.6 0a2.8 2.8 0 1 0 -5.6 0M170.9 889.5a2.8 2.8 0 1 0 5.6 0a2.8 2.8 0 1 0 -5.6 0M177.3 863.4a2.8 2.8 0 1 0 5.6 0a2.8 2.8 0 1 0 -5.6 0M183.7 845.3a2.8 2.8 0 1 0 5.6 0a2.8 2.8 0 1 0 -5.6 0M190.0 863.4a2.8 2.8 0 1 0 5.6 0a2.8 2.8 0 1 0 -5.6 0M196.4 877.4a2.8 2.8 0 1 0 5.6 0a2.8 2.8 0 1 0 -5.6 0M202.8 861.4a2.8 2.8 0 1 0 5.6 0a2.8 2.8 0 1 0 -5.6 0M209.2 850.9a2.8 2.8 0 1 0 5.6 0a2.8 2.8 0 1 0 -5.6 0M215.6 877.4a2.8 2.8 0 1 0 5.6 0a2.8 2.8 0 1 0 -5.6 0M221.9 810.8a2.8 2.8 0 1 0 5.6 0a2.8 2.8 0 1 0 -5.6 0M228.3 890.5a2.8 2.8 0 1 0 5.6 0a2.8 2.8 0 1 0 -5.6 0M234.7 891.1a2.8 2.8 0 1 0 5.6 0a2.8 2.8 0 1 0 -5.6 0M241.1 858.4a2.8 2.8 0 1 0 5.6 0a2.8 2.8 0 1 0 -5.6 0M247.5 858.4a2.8 2.8 0 1 0 5.6 0a2.8 2.8 0 1 0 -5.6 0M253.8 854.4a2.8 2.8 0 1 0 5.6 0a2.8 2.8 0 1 0 -5.6 0M260.2 875.0a2.8 2.8 0 1 0 5.6 0a2.8 2.8 0 1 0 -5.6 0M266.6 812.8a2.8 2.8 0 1 0 5.6 0a2.8 2.8 0 1 0 -5.6 0M273.0 842.3a2.8 2.8 0 1 0 5.6 0a2.8 2.8 0 1 0 -5.6 0M279.4 855.0a2.8 2.8 0 1 0 5.6 0a2.8 2.8 0 1 0 -5.6 0M285.7 839.3a2.8 2.8 0 1 0 5.6 0a2.8 2.8 0 1 0 -5.6 0M292.1 904.6a2.8 2.8 0 1 0 5.6 0a2.8 2.8 0 1 0 -5.6 0M298.5 899.5a2.8 2.8 0 1 0 5.6 0a2.8 2.8 0 1 0 -5.6 0M304.9 869.4a2.8 2.8 0 1 0 5.6 0a2.8 2.8 0 1 0 -5.6 0M311.3 887.1a2.8 2.8 0 1 0 5.6 0a2.8 2.8 0 1 0 -5.6 0M317.6 837.7a2.8 2.8 0 1 0 5.6 0a2.8 2.8 0 1 0 -5.6 0M324.0 822.8a2.8 2.8 0 1 0 5.6 0a2.8 2.8 0 1 0 -5.6 0M330.4 904.0a2.8 2.8 0 1 0 5.6 0a2.8 2.8 0 1 0 -5.6 0M336.8 855.4a2.8 2.8 0 1 0 5.6 0a2.8 2.8 0 1 0 -5.6 0M343.2 878.5a2.8 2.8 0 1 0 5.6 0a2.8 2.8 0 1 0 -5.6 0M349.5 860.4a2.8 2.8 0 1 0 5.6 0a2.8 2.8 0 1 0 -5.6 0M355.9 888.5a2.8 2.8 0 1 0 5.6 0a2.8 2.8 0 1 0 -5.6 0M362.3 861.8a2.8 2.8 0 1 0 5.6 0a2.8 2.8 0 1 0 -5.6 0M368.7 884.5a2.8 2.8 0 1 0 5.6 0a2.8 2.8 0 1 0 -5.6 0M375.1 835.7a2.8 2.8 0 1 0 5.6 0a2.8 2.8 0 1 0 -5.6 0M381.4 877.4a2.8 2.8 0 1 0 5.6 0a2.8 2.8 0 1 0 -5.6 0M387.8 974.3a2.8 2.8 0 1 0 5.6 0a2.8 2.8 0 1 0 -5.6 0M394.2 888.5a2.8 2.8 0 1 0 5.6 0a2.8 2.8 0 1 0 -5.6 0M400.6 890.5a2.8 2.8 0 1 0 5.6 0a2.8 2.8 0 1 0 -5.6 0M407.0 909.2a2.8 2.8 0 1 0 5.6 0a2.8 2.8 0 1 0 -5.6 0M413.3 883.5a2.8 2.8 0 1 0 5.6 0a2.8 2.8 0 1 0 -5.6 0M419.7 939.7a2.8 2.8 0 1 0 5.6 0a2.8 2.8 0 1 0 -5.6 0M426.1 949.8a2.8 2.8 0 1 0 5.6 0a2.8 2.8 0 1 0 -5.6 0M432.5 925.7a2.8 2.8 0 1 0 5.6 0a2.8 2.8 0 1 0 -5.6 0M438.9 912.0a2.8 2.8 0 1 0 5.6 0a2.8 2.8 0 1 0 -5.6 0M445.2 937.7a2.8 2.8 0 1 0 5.6 0a2.8 2.8 0 1 0 -5.6 0M451.6 963.8a2.8 2.8 0 1 0 5.6 0a2.8 2.8 0 1 0 -5.6 0M458.0 990.9a2.8 2.8 0 1 0 5.6 0a2.8 2.8 0 1 0 -5.6 0M464.4 949.7a2.8 2.8 0 1 0 5.6 0a2.8 2.8 0 1 0 -5.6 0M470.8 891.5a2.8 2.8 0 1 0 5.6 0a2.8 2.8 0 1 0 -5.6 0M477.1 1003.0a2.8 2.8 0 1 0 5.6 0a2.8 2.8 0 1 0 -5.6 0M483.5 1008.0a2.8 2.8 0 1 0 5.6 0a2.8 2.8 0 1 0 -5.6 0M489.9 956.8a2.8 2.8 0 1 0 5.6 0a2.8 2.8 0 1 0 -5.6 0M496.3 983.9a2.8 2.8 0 1 0 5.6 0a2.8 2.8 0 1 0 -5.6 0M502.7 935.7a2.8 2.8 0 1 0 5.6 0a2.8 2.8 0 1 0 -5.6 0M509.0 1015.0a2.8 2.8 0 1 0 5.6 0a2.8 2.8 0 1 0 -5.6 0M515.4 959.8a2.8 2.8 0 1 0 5.6 0a2.8 2.8 0 1 0 -5.6 0M521.8 1009.0a2.8 2.8 0 1 0 5.6 0a2.8 2.8 0 1 0 -5.6 0M528.2 996.0a2.8 2.8 0 1 0 5.6 0a2.8 2.8 0 1 0 -5.6 0M534.6 964.8a2.8 2.8 0 1 0 5.6 0a2.8 2.8 0 1 0 -5.6 0M540.9 994.9a2.8 2.8 0 1 0 5.6 0a2.8 2.8 0 1 0 -5.6 0M547.3 985.0a2.8 2.8 0 1 0 5.6 0a2.8 2.8 0 1 0 -5.6 0M553.7 971.8a2.8 2.8 0 1 0 5.6 0a2.8 2.8 0 1 0 -5.6 0M560.1 966.8a2.8 2.8 0 1 0 5.6 0a2.8 2.8 0 1 0 -5.6 0M566.5 943.7a2.8 2.8 0 1 0 5.6 0a2.8 2.8 0 1 0 -5.6 0M572.8 960.8a2.8 2.8 0 1 0 5.6 0a2.8 2.8 0 1 0 -5.6 0M579.2 953.8a2.8 2.8 0 1 0 5.6 0a2.8 2.8 0 1 0 -5.6 0M585.6 1013.0a2.8 2.8 0 1 0 5.6 0a2.8 2.8 0 1 0 -5.6 0M592.0 916.6a2.8 2.8 0 1 0 5.6 0a2.8 2.8 0 1 0 -5.6 0M598.4 996.0a2.8 2.8 0 1 0 5.6 0a2.8 2.8 0 1 0 -5.6 0M604.7 972.8a2.8 2.8 0 1 0 5.6 0a2.8 2.8 0 1 0 -5.6 0M611.1 971.8a2.8 2.8 0 1 0 5.6 0a2.8 2.8 0 1 0 -5.6 0M617.5 962.8a2.8 2.8 0 1 0 5.6 0a2.8 2.8 0 1 0 -5.6 0M623.9 1039.1a2.8 2.8 0 1 0 5.6 0a2.8 2.8 0 1 0 -5.6 0M630.3 960.8a2.8 2.8 0 1 0 5.6 0a2.8 2.8 0 1 0 -5.6 0M636.6 992.9a2.8 2.8 0 1 0 5.6 0a2.8 2.8 0 1 0 -5.6 0M643.0 969.8a2.8 2.8 0 1 0 5.6 0a2.8 2.8 0 1 0 -5.6 0M649.4 1000.9a2.8 2.8 0 1 0 5.6 0a2.8 2.8 0 1 0 -5.6 0M655.8 954.8a2.8 2.8 0 1 0 5.6 0a2.8 2.8 0 1 0 -5.6 0M662.2 1009.0a2.8 2.8 0 1 0 5.6 0a2.8 2.8 0 1 0 -5.6 0M668.5 999.9a2.8 2.8 0 1 0 5.6 0a2.8 2.8 0 1 0 -5.6 0M674.9 963.8a2.8 2.8 0 1 0 5.6 0a2.8 2.8 0 1 0 -5.6 0M681.3 1019.0a2.8 2.8 0 1 0 5.6 0a2.8 2.8 0 1 0 -5.6 0M687.7 947.7a2.8 2.8 0 1 0 5.6 0a2.8 2.8 0 1 0 -5.6 0M694.1 956.8a2.8 2.8 0 1 0 5.6 0a2.8 2.8 0 1 0 -5.6 0M700.4 974.8a2.8 2.8 0 1 0 5.6 0a2.8 2.8 0 1 0 -5.6 0M706.8 955.8a2.8 2.8 0 1 0 5.6 0a2.8 2.8 0 1 0 -5.6 0M713.2 1030.1a2.8 2.8 0 1 0 5.6 0a2.8 2.8 0 1 0 -5.6 0M719.6 960.0a2.8 2.8 0 1 0 5.6 0a2.8 2.8 0 1 0 -5.6 0M726.0 955.8a2.8 2.8 0 1 0 5.6 0a2.8 2.8 0 1 0 -5.6 0M732.3 904.5a2.8 2.8 0 1 0 5.6 0a2.8 2.8 0 1 0 -5.6 0M738.7 1002.0a2.8 2.8 0 1 0 5.6 0a2.8 2.8 0 1 0 -5.6 0M745.1 1018.0a2.8 2.8 0 1 0 5.6 0a2.8 2.8 0 1 0 -5.6 0M751.5 985.0a2.8 2.8 0 1 0 5.6 0a2.8 2.8 0 1 0 -5.6 0M757.9 955.8a2.8 2.8 0 1 0 5.6 0a2.8 2.8 0 1 0 -5.6 0" fill="#ff0000"/>
<path d="M138.4 855.6h6.8v6.8h-6.8zM144.8 855.3h6.8v6.8h-6.8zM151.2 853.2h6.8v6.8h-6.8zM157.5 854.6h6.8v6.8h-6.8zM163.9 857.1h6.8v6.8h-6.8zM170.3 854.4h6.8v6.8h-6.8zM176.7 856.1h6.8v6.8h-6.8zM183.1 855.1h6.8v6.8h-6.8zM189.4 853.6h6.8v6.8h-6.8zM195.8 854.6h6.8v6.8h-6.8zM202.2 856.4h6.8v6.8h-6.8zM208.6 856.1h6.8v6.8h-6.8zM215.0 856.6h6.8v6.8h-6.8zM221.3 855.2h6.8v6.8h-6.8zM227.7 855.1h6.8v6.8h-6.8zM234.1 855.1h6.8v6.8h-6.8zM240.5 854.6h6.8v6.8h-6.8zM246.9 853.5h6.8v6.8h-6.8zM253.2 854.8h6.8v6.8h-6.8zM259.6 855.6h6.8v6.8h-6.8zM266.0 856.6h6.8v6.8h-6.8zM272.4 857.6h6.8v6.8h-6.8zM278.8 856.6h6.8v6.8h-6.8zM285.1 853.4h6.8v6.8h-6.8zM291.5 847.0h6.8v6.8h-6.8zM297.9 845.9h6.8v6.8h-6.8zM304.3 855.6h6.8v6.8h-6.8zM310.7 856.5h6.8v6.8h-6.8zM317.0 854.6h6.8v6.8h-6.8zM323.4 855.4h6.8v6.8h-6.8zM329.8 853.6h6.8v6.8h-6.8zM336.2 858.0h6.8v6.8h-6.8zM342.6 862.0h6.8v6.8h-6.8zM348.9 869.0h6.8v6.8h-6.8zM355.3 872.0h6.8v6.8h-6.8zM361.7 876.1h6.8v6.8h-6.8zM368.1 882.1h6.8v6.8h-6.8zM374.5 890.1h6.8v6.8h-6.8zM380.8 896.1h6.8v6.8h-6.8zM387.2 901.2h6.8v6.8h-6.8zM393.6 906.2h6.8v6.8h-6.8zM400.0 910.2h6.8v6.8h-6.8zM406.4 915.2h6.8v6.8h-6.8zM412.7 920.3h6.8v6.8h-6.8zM419.1 926.3h6.8v6.8h-6.8zM425.5 930.3h6.8v6.8h-6.8zM431.9 932.3h6.8v6.8h-6.8zM438.3 935.3h6.8v6.8h-6.8zM444.6 940.3h6.8v6.8h-6.8zM451.0 946.4h6.8v6.8h-6.8zM457.4 952.4h6.8v6.8h-6.8zM463.8 953.4h6.8v6.8h-6.8zM470.2 953.8h6.8v6.8h-6.8zM476.5 957.4h6.8v6.8h-6.8zM482.9 960.6h6.8v6.8h-6.8zM489.3 963.4h6.8v6.8h-6.8zM495.7 967.2h6.8v6.8h-6.8zM502.1 969.4h6.8v6.8h-6.8zM508.4 970.6h6.8v6.8h-6.8zM514.8 970.4h6.8v6.8h-6.8zM521.2 975.5h6.8v6.8h-6.8zM527.6 975.5h6.8v6.8h-6.8zM534.0 975.5h6.8v6.8h-6.8zM540.3 975.3h6.8v6.8h-6.8zM546.7 979.5h6.8v6.8h-6.8zM553.1 980.5h6.8v6.8h-6.8zM559.5 979.5h6.8v6.8h-6.8zM565.9 981.5h6.8v6.8h-6.8zM572.2 985.5h6.8v6.8h-6.8zM578.6 986.9h6.8v6.8h-6.8zM585.0 986.5h6.8v6.8h-6.8zM591.4 982.5h6.8v6.8h-6.8zM597.8 982.5h6.8v6.8h-6.8zM604.1 982.0h6.8v6.8h-6.8zM610.5 982.5h6.8v6.8h-6.8zM616.9 984.4h6.8v6.8h-6.8zM623.3 982.5h6.8v6.8h-6.8zM629.7 983.3h6.8v6.8h-6.8zM636.0 984.5h6.8v6.8h-6.8zM642.4 982.7h6.8v6.8h-6.8zM648.8 983.5h6.8v6.8h-6.8zM655.2 981.2h6.8v6.8h-6.8zM661.6 979.5h6.8v6.8h-6.8zM667.9 981.5h6.8v6.8h-6.8zM674.3 984.7h6.8v6.8h-6.8zM680.7 985.5h6.8v6.8h-6.8zM687.1 982.7h6.8v6.8h-6.8zM693.5 979.5h6.8v6.8h-6.8zM699.8 978.3h6.8v6.8h-6.8zM706.2 980.5h6.8v6.8h-6.8zM712.6 978.6h6.8v6.8h-6.8zM719.0 979.5h6.8v6.8h-6.8zM725.4 980.8h6.8v6.8h-6.8zM731.7 985.5h6.8v6.8h-6.8zM738.1 979.3h6.8v6.8h-6.8zM744.5 977.5h6.8v6.8h-6.8zM750.9 977.3h6.8v6.8h-6.8zM757.3 976.5h6.8v6.8h-6.8zM763.6 976.5h6.8v6.8h-6.8z" fill="#000"/>
<rect x="141.0" y="775.8" width="639.0" height="310.5" fill="none" stroke="#2e2e2e" stroke-width="2.2"/>
</g>
<g id="b2">
<path d="M1117.4 1086.3v-6.5M1117.4 775.8v6.5M1291.2 1086.3v-6.5M1291.2 775.8v6.5M1465.1 1086.3v-6.5M1465.1 775.8v6.5M1030.4 1086.3v-3.5M1030.4 775.8v3.5M1204.3 1086.3v-3.5M1204.3 775.8v3.5M1378.2 1086.3v-3.5M1378.2 775.8v3.5M1552.1 1086.3v-3.5M1552.1 775.8v3.5M943.5 1050.8h6.5M943.5 1016.3h6.5M943.5 981.8h6.5M943.5 947.3h6.5M943.5 912.8h6.5M943.5 878.3h6.5M943.5 843.8h6.5M943.5 809.3h6.5M943.5 1068.0h3.5M943.5 1033.5h3.5M943.5 999.0h3.5M943.5 964.5h3.5M943.5 930.0h3.5M943.5 895.5h3.5M943.5 861.0h3.5M943.5 826.5h3.5M943.5 792.0h3.5M1639.0 814.2h-6.5M1639.0 853.0h-6.5M1639.0 891.8h-6.5M1639.0 930.6h-6.5M1639.0 969.5h-6.5M1639.0 1008.3h-6.5M1639.0 1047.1h-6.5M1639.0 794.8h-3.5M1639.0 833.6h-3.5M1639.0 872.4h-3.5M1639.0 911.2h-3.5M1639.0 950.0h-3.5M1639.0 988.9h-3.5M1639.0 1027.7h-3.5M1639.0 1066.5h-3.5" stroke="#2e2e2e" stroke-width="1.6" fill="none"/>
<g fill="#111" stroke="#111" stroke-width="0.6"><text x="943.5" y="1113.6" text-anchor="middle">-5</text><text x="1117.4" y="1113.6" text-anchor="middle">0</text><text x="1291.2" y="1113.6" text-anchor="middle">5</text><text x="1465.1" y="1113.6" text-anchor="middle">10</text><text x="1639.0" y="1113.6" text-anchor="middle">15</text></g>
<g fill="#ff0000" stroke="#ff0000" stroke-width="0.6"><text x="935.2" y="1093.5" text-anchor="end">0.65</text><text x="935.2" y="1059.0" text-anchor="end">0.70</text><text x="935.2" y="1024.5" text-anchor="end">0.75</text><text x="935.2" y="990.0" text-anchor="end">0.80</text><text x="935.2" y="955.5" text-anchor="end">0.85</text><text x="935.2" y="921.0" text-anchor="end">0.90</text><text x="935.2" y="886.5" text-anchor="end">0.95</text><text x="935.2" y="852.0" text-anchor="end">1.00</text><text x="935.2" y="817.5" text-anchor="end">1.05</text><text x="935.2" y="783.0" text-anchor="end">1.10</text></g>
<g fill="#111" stroke="#111" stroke-width="0.6"><text x="1647.5" y="783.6">-0.04</text><text x="1647.5" y="822.4">-0.02</text><text x="1647.5" y="861.2">0.00</text><text x="1647.5" y="900.0">0.02</text><text x="1647.5" y="938.8">0.04</text><text x="1647.5" y="977.7">0.06</text><text x="1647.5" y="1016.5">0.08</text><text x="1647.5" y="1055.3">0.10</text><text x="1647.5" y="1094.1">0.12</text></g>
<path d="M949.9 831.8V871.6M956.8 827.9V871.1M963.8 815.4V856.4M970.7 838.8V878.2M977.7 830.5V884.3M984.7 838.3V887.7M991.6 842.3V888.3M998.6 830.8V870.4M1005.5 837.3V891.1M1012.5 818.3V860.3M1019.5 847.1V888.1M1026.4 823.2V869.0M1033.4 826.5V867.9M1040.3 823.0V869.2M1047.3 847.3V894.7M1054.3 829.9V887.1M1061.2 843.3V889.5M1068.2 821.9V872.5M1075.1 848.1V889.3M1082.1 806.1V849.9M1089.1 833.6V879.0M1096.0 827.8V884.8M1103.0 805.9V847.9M1109.9 811.4V853.6M1116.9 848.3V893.7M1123.9 836.6V885.0M1130.8 837.2V886.6M1137.8 830.9V872.5M1144.7 817.0V868.4M1151.7 832.6V877.6M1158.7 842.7V892.5M1165.6 856.7V903.3M1172.6 863.7V907.7M1179.5 854.7V896.3M1186.5 854.2V894.6M1193.5 857.3V909.5M1200.4 858.1V901.9M1207.4 844.1V894.7M1214.3 902.2V945.2M1221.3 906.4V961.0M1228.3 887.2V940.0M1235.2 892.0V931.2M1242.2 903.9V957.5M1249.1 906.1V953.3M1256.1 896.5V952.9M1263.1 898.4V951.0M1270.0 919.6V961.8M1277.0 925.0V980.6M1283.9 909.1V964.3M1290.9 958.1V1011.7M1297.9 917.3V960.1M1304.8 943.8V983.8M1311.8 924.0V975.6M1318.7 927.1V976.5M1325.7 928.2V971.4M1332.7 946.0V993.8M1339.6 944.1V999.7M1346.6 960.5V1009.3M1353.5 932.3V987.3M1360.5 954.8V1005.0M1367.5 865.5V907.5M1374.4 989.4V1034.6M1381.4 985.0V1037.0M1388.3 945.3V1000.5M1395.3 935.3V992.3M1402.3 953.4V992.4M1409.2 946.3V999.5M1416.2 950.6V997.2M1423.1 961.3V1011.5M1430.1 977.2V1016.0M1437.1 957.9V1011.1M1444.0 966.3V1014.3M1451.0 986.5V1041.1M1457.9 994.0V1033.6M1464.9 977.9V1026.7M1471.9 966.9V1011.1M1478.8 996.3V1038.9M1485.8 957.1V1010.7M1492.7 968.6V1010.6M1499.7 954.3V1004.5M1506.7 992.4V1031.4M1513.6 989.3V1034.5M1520.6 1003.0V1058.8M1527.5 981.4V1028.4M1534.5 966.2V1020.6M1541.5 964.7V1020.9M1548.4 960.9V1018.3M1555.4 972.1V1010.9M1562.3 967.0V1019.8M1569.3 963.2V1017.4M1576.3 969.9V1010.7M1583.2 991.7V1035.9M1590.2 996.4V1046.4M1597.1 963.9V1019.1M1604.1 993.3V1034.3M1611.1 953.6V997.6M1618.0 984.3V1038.1" stroke="#ff6666" stroke-width="2.4" fill="none" opacity="1.0"/>
<path d="M949.9 851.7L956.8 849.5L963.8 835.9L970.7 858.5L977.7 857.4L984.7 863.0L991.6 865.3L998.6 850.6L1005.5 864.2L1012.5 839.3L1019.5 867.6L1026.4 846.1L1033.4 847.2L1040.3 846.1L1047.3 871.0L1054.3 858.5L1061.2 866.4L1068.2 847.2L1075.1 868.7L1082.1 828.0L1089.1 856.3L1096.0 856.3L1103.0 826.9L1109.9 832.5L1116.9 871.0L1123.9 860.8L1130.8 861.9L1137.8 851.7L1144.7 842.7L1151.7 855.1L1158.7 867.6L1165.6 880.0L1172.6 885.7L1179.5 875.5L1186.5 874.4L1193.5 883.4L1200.4 880.0L1207.4 869.4L1214.3 923.7L1221.3 933.7L1228.3 913.6L1235.2 911.6L1242.2 930.7L1249.1 929.7L1256.1 924.7L1263.1 924.7L1270.0 940.7L1277.0 952.8L1283.9 936.7L1290.9 984.9L1297.9 938.7L1304.8 963.8L1311.8 949.8L1318.7 951.8L1325.7 949.8L1332.7 969.9L1339.6 971.9L1346.6 984.9L1353.5 959.8L1360.5 979.9L1367.5 886.5L1374.4 1012.0L1381.4 1011.0L1388.3 972.9L1395.3 963.8L1402.3 972.9L1409.2 972.9L1416.2 973.9L1423.1 986.4L1430.1 996.6L1437.1 984.5L1444.0 990.3L1451.0 1013.8L1457.9 1013.8L1464.9 1002.3L1471.9 989.0L1478.8 1017.6L1485.8 983.9L1492.7 989.6L1499.7 979.4L1506.7 1011.9L1513.6 1011.9L1520.6 1030.9L1527.5 1004.9L1534.5 993.4L1541.5 992.8L1548.4 989.6L1555.4 991.5L1562.3 993.4L1569.3 990.3L1576.3 990.3L1583.2 1013.8L1590.2 1021.4L1597.1 991.5L1604.1 1013.8L1611.1 975.6L1618.0 1011.2" stroke="#ff2a2a" stroke-width="1.1" fill="none"/>
<path d="M949.9 845.5V857.9M956.8 844.6V861.4M963.8 848.1V862.1M970.7 845.0V861.0M977.7 842.4V858.8M984.7 844.3V859.7M991.6 845.6V859.1M998.6 845.9V862.1M1005.5 845.2V860.8M1012.5 843.8V859.6M1019.5 844.4V857.8M1026.4 843.1V860.9M1033.4 844.8V858.6M1040.3 844.6V859.4M1047.3 842.0V859.2M1054.3 846.4V859.6M1061.2 848.8V861.4M1068.2 845.9V861.6M1075.1 846.5V861.5M1082.1 845.6V862.4M1089.1 845.7V860.3M1096.0 845.2V858.2M1103.0 850.6V866.4M1109.9 847.4V860.6M1116.9 843.1V861.5M1123.9 845.4V862.6M1130.8 848.9V863.9M1137.8 850.2V865.8M1144.7 849.3V869.5M1151.7 851.0V869.0M1158.7 850.5V872.3M1165.6 854.4V873.6M1172.6 858.0V876.8M1179.5 857.3V878.7M1186.5 858.5V878.3M1193.5 865.2V889.6M1200.4 865.1V891.9M1207.4 873.9V899.1M1214.3 867.8V891.2M1221.3 870.7V898.3M1228.3 872.5V902.5M1235.2 884.3V912.7M1242.2 889.5V913.7M1249.1 888.5V914.7M1256.1 891.0V916.2M1263.1 901.5V925.7M1270.0 897.8V925.4M1277.0 899.5V929.7M1283.9 912.4V941.0M1290.9 896.1V929.1M1297.9 918.6V948.8M1304.8 914.2V949.2M1311.8 923.3V964.1M1318.7 933.7V967.9M1325.7 941.1V976.5M1332.7 945.6V984.0M1339.6 931.6V974.0M1346.6 938.5V983.1M1353.5 953.7V986.1M1360.5 947.8V987.8M1367.5 970.7V1015.3M1374.4 947.3V986.3M1381.4 952.4V987.4M1388.3 973.9V1010.1M1395.3 971.4V1012.6M1402.3 978.0V1014.0M1409.2 980.4V1019.6M1416.2 978.8V1021.2M1423.1 980.6V1020.2M1430.1 990.6V1034.4M1437.1 987.1V1030.3M1444.0 984.9V1019.7M1451.0 970.9V1013.5M1457.9 980.0V1013.2M1464.9 989.2V1024.4M1471.9 990.7V1034.3M1478.8 990.5V1023.1M1485.8 996.6V1031.0M1492.7 1004.5V1038.3M1499.7 995.0V1036.4M1506.7 997.3V1036.5M1513.6 996.5V1037.3M1520.6 993.9V1032.3M1527.5 999.3V1034.5M1534.5 1005.3V1040.1M1541.5 999.7V1032.9M1548.4 1000.6V1035.8M1555.4 1008.2V1046.0M1562.3 1006.1V1049.5M1569.3 1004.4V1039.6M1576.3 1006.6V1049.0M1583.2 1003.7V1045.5M1590.2 995.0V1037.6M1597.1 1011.9V1051.3M1604.1 1003.8V1045.4M1611.1 1016.3V1058.3M1618.0 1011.5V1047.9" stroke="#5e5e5e" stroke-width="2.2" fill="none" opacity="1.0"/>
<path d="M949.9 851.7L956.8 853.0L963.8 855.1L970.7 853.0L977.7 850.6L984.7 852.0L991.6 852.4L998.6 854.0L1005.5 853.0L1012.5 851.7L1019.5 851.1L1026.4 852.0L1033.4 851.7L1040.3 852.0L1047.3 850.6L1054.3 853.0L1061.2 855.1L1068.2 853.8L1075.1 854.0L1082.1 854.0L1089.1 853.0L1096.0 851.7L1103.0 858.5L1109.9 854.0L1116.9 852.3L1123.9 854.0L1130.8 856.4L1137.8 858.0L1144.7 859.4L1151.7 860.0L1158.7 861.4L1165.6 864.0L1172.6 867.4L1179.5 868.0L1186.5 868.4L1193.5 877.4L1200.4 878.5L1207.4 886.5L1214.3 879.5L1221.3 884.5L1228.3 887.5L1235.2 898.5L1242.2 901.6L1249.1 901.6L1256.1 903.6L1263.1 913.6L1270.0 911.6L1277.0 914.6L1283.9 926.7L1290.9 912.6L1297.9 933.7L1304.8 931.7L1311.8 943.7L1318.7 950.8L1325.7 958.8L1332.7 964.8L1339.6 952.8L1346.6 960.8L1353.5 969.9L1360.5 967.8L1367.5 993.0L1374.4 966.8L1381.4 969.9L1388.3 992.0L1395.3 992.0L1402.3 996.0L1409.2 1000.0L1416.2 1000.0L1423.1 1000.4L1430.1 1012.5L1437.1 1008.7L1444.0 1002.3L1451.0 992.2L1457.9 996.6L1464.9 1006.8L1471.9 1012.5L1478.8 1006.8L1485.8 1013.8L1492.7 1021.4L1499.7 1015.7L1506.7 1016.9L1513.6 1016.9L1520.6 1013.1L1527.5 1016.9L1534.5 1022.7L1541.5 1016.3L1548.4 1018.2L1555.4 1027.1L1562.3 1027.8L1569.3 1022.0L1576.3 1027.8L1583.2 1024.6L1590.2 1016.3L1597.1 1031.6L1604.1 1024.6L1611.1 1037.3L1618.0 1029.7" stroke="#1a1a1a" stroke-width="2.2" fill="none"/>
<path d="M947.1 851.7a2.8 2.8 0 1 0 5.6 0a2.8 2.8 0 1 0 -5.6 0M954.0 849.5a2.8 2.8 0 1 0 5.6 0a2.8 2.8 0 1 0 -5.6 0M961.0 835.9a2.8 2.8 0 1 0 5.6 0a2.8 2.8 0 1 0 -5.6 0M967.9 858.5a2.8 2.8 0 1 0 5.6 0a2.8 2.8 0 1 0 -5.6 0M974.9 857.4a2.8 2.8 0 1 0 5.6 0a2.8 2.8 0 1 0 -5.6 0M981.9 863.0a2.8 2.8 0 1 0 5.6 0a2.8 2.8 0 1 0 -5.6 0M988.8 865.3a2.8 2.8 0 1 0 5.6 0a2.8 2.8 0 1 0 -5.6 0M995.8 850.6a2.8 2.8 0 1 0 5.6 0a2.8 2.8 0 1 0 -5.6 0M1002.7 864.2a2.8 2.8 0 1 0 5.6 0a2.8 2.8 0 1 0 -5.6 0M1009.7 839.3a2.8 2.8 0 1 0 5.6 0a2.8 2.8 0 1 0 -5.6 0M1016.7 867.6a2.8 2.8 0 1 0 5.6 0a2.8 2.8 0 1 0 -5.6 0M1023.6 846.1a2.8 2.8 0 1 0 5.6 0a2.8 2.8 0 1 0 -5.6 0M1030.6 847.2a2.8 2.8 0 1 0 5.6 0a2.8 2.8 0 1 0 -5.6 0M1037.5 846.1a2.8 2.8 0 1 0 5.6 0a2.8 2.8 0 1 0 -5.6 0M1044.5 871.0a2.8 2.8 0 1 0 5.6 0a2.8 2.8 0 1 0 -5.6 0M1051.5 858.5a2.8 2.8 0 1 0 5.6 0a2.8 2.8 0 1 0 -5.6 0M1058.4 866.4a2.8 2.8 0 1 0 5.6 0a2.8 2.8 0 1 0 -5.6 0M1065.4 847.2a2.8 2.8 0 1 0 5.6 0a2.8 2.8 0 1 0 -5.6 0M1072.3 868.7a2.8 2.8 0 1 0 5.6 0a2.8 2.8 0 1 0 -5.6 0M1079.3 828.0a2.8 2.8 0 1 0 5.6 0a2.8 2.8 0 1 0 -5.6 0M1086.3 856.3a2.8 2.8 0 1 0 5.6 0a2.8 2.8 0 1 0 -5.6 0M1093.2 856.3a2.8 2.8 0 1 0 5.6 0a2.8 2.8 0 1 0 -5.6 0M1100.2 826.9a2.8 2.8 0 1 0 5.6 0a2.8 2.8 0 1 0 -5.6 0M1107.1 832.5a2.8 2.8 0 1 0 5.6 0a2.8 2.8 0 1 0 -5.6 0M1114.1 871.0a2.8 2.8 0 1 0 5.6 0a2.8 2.8 0 1 0 -5.6 0M1121.1 860.8a2.8 2.8 0 1 0 5.6 0a2.8 2.8 0 1 0 -5.6 0M1128.0 861.9a2.8 2.8 0 1 0 5.6 0a2.8 2.8 0 1 0 -5.6 0M1135.0 851.7a2.8 2.8 0 1 0 5.6 0a2.8 2.8 0 1 0 -5.6 0M1141.9 842.7a2.8 2.8 0 1 0 5.6 0a2.8 2.8 0 1 0 -5.6 0M1148.9 855.1a2.8 2.8 0 1 0 5.6 0a2.8 2.8 0 1 0 -5.6 0M1155.9 867.6a2.8 2.8 0 1 0 5.6 0a2.8 2.8 0 1 0 -5.6 0M1162.8 880.0a2.8 2.8 0 1 0 5.6 0a2.8 2.8 0 1 0 -5.6 0M1169.8 885.7a2.8 2.8 0 1 0 5.6 0a2.8 2.8 0 1 0 -5.6 0M1176.7 875.5a2.8 2.8 0 1 0 5.6 0a2.8 2.8 0 1 0 -5.6 0M1183.7 874.4a2.8 2.8 0 1 0 5.6 0a2.8 2.8 0 1 0 -5.6 0M1190.7 883.4a2.8 2.8 0 1 0 5.6 0a2.8 2.8 0 1 0 -5.6 0M1197.6 880.0a2.8 2.8 0 1 0 5.6 0a2.8 2.8 0 1 0 -5.6 0M1204.6 869.4a2.8 2.8 0 1 0 5.6 0a2.8 2.8 0 1 0 -5.6 0M1211.5 923.7a2.8 2.8 0 1 0 5.6 0a2.8 2.8 0 1 0 -5.6 0M1218.5 933.7a2.8 2.8 0 1 0 5.6 0a2.8 2.8 0 1 0 -5.6 0M1225.5 913.6a2.8 2.8 0 1 0 5.6 0a2.8 2.8 0 1 0 -5.6 0M1232.4 911.6a2.8 2.8 0 1 0 5.6 0a2.8 2.8 0 1 0 -5.6 0M1239.4 930.7a2.8 2.8 0 1 0 5.6 0a2.8 2.8 0 1 0 -5.6 0M1246.3 929.7a2.8 2.8 0 1 0 5.6 0a2.8 2.8 0 1 0 -5.6 0M1253.3 924.7a2.8 2.8 0 1 0 5.6 0a2.8 2.8 0 1 0 -5.6 0M1260.3 924.7a2.8 2.8 0 1 0 5.6 0a2.8 2.8 0 1 0 -5.6 0M1267.2 940.7a2.8 2.8 0 1 0 5.6 0a2.8 2.8 0 1 0 -5.6 0M1274.2 952.8a2.8 2.8 0 1 0 5.6 0a2.8 2.8 0 1 0 -5.6 0M1281.1 936.7a2.8 2.8 0 1 0 5.6 0a2.8 2.8 0 1 0 -5.6 0M1288.1 984.9a2.8 2.8 0 1 0 5.6 0a2.8 2.8 0 1 0 -5.6 0M1295.1 938.7a2.8 2.8 0 1 0 5.6 0a2.8 2.8 0 1 0 -5.6 0M1302.0 963.8a2.8 2.8 0 1 0 5.6 0a2.8 2.8 0 1 0 -5.6 0M1309.0 949.8a2.8 2.8 0 1 0 5.6 0a2.8 2.8 0 1 0 -5.6 0M1315.9 951.8a2.8 2.8 0 1 0 5.6 0a2.8 2.8 0 1 0 -5.6 0M1322.9 949.8a2.8 2.8 0 1 0 5.6 0a2.8 2.8 0 1 0 -5.6 0M1329.9 969.9a2.8 2.8 0 1 0 5.6 0a2.8 2.8 0 1 0 -5.6 0M1336.8 971.9a2.8 2.8 0 1 0 5.6 0a2.8 2.8 0 1 0 -5.6 0M1343.8 984.9a2.8 2.8 0 1 0 5.6 0a2.8 2.8 0 1 0 -5.6 0M1350.7 959.8a2.8 2.8 0 1 0 5.6 0a2.8 2.8 0 1 0 -5.6 0M1357.7 979.9a2.8 2.8 0 1 0 5.6 0a2.8 2.8 0 1 0 -5.6 0M1364.7 886.5a2.8 2.8 0 1 0 5.6 0a2.8 2.8 0 1 0 -5.6 0M1371.6 1012.0a2.8 2.8 0 1 0 5.6 0a2.8 2.8 0 1 0 -5.6 0M1378.6 1011.0a2.8 2.8 0 1 0 5.6 0a2.8 2.8 0 1 0 -5.6 0M1385.5 972.9a2.8 2.8 0 1 0 5.6 0a2.8 2.8 0 1 0 -5.6 0M1392.5 963.8a2.8 2.8 0 1 0 5.6 0a2.8 2.8 0 1 0 -5.6 0M1399.5 972.9a2.8 2.8 0 1 0 5.6 0a2.8 2.8 0 1 0 -5.6 0M1406.4 972.9a2.8 2.8 0 1 0 5.6 0a2.8 2.8 0 1 0 -5.6 0M1413.4 973.9a2.8 2.8 0 1 0 5.6 0a2.8 2.8 0 1 0 -5.6 0M1420.3 986.4a2.8 2.8 0 1 0 5.6 0a2.8 2.8 0 1 0 -5.6 0M1427.3 996.6a2.8 2.8 0 1 0 5.6 0a2.8 2.8 0 1 0 -5.6 0M1434.3 984.5a2.8 2.8 0 1 0 5.6 0a2.8 2.8 0 1 0 -5.6 0M1441.2 990.3a2.8 2.8 0 1 0 5.6 0a2.8 2.8 0 1 0 -5.6 0M1448.2 1013.8a2.8 2.8 0 1 0 5.6 0a2.8 2.8 0 1 0 -5.6 0M1455.1 1013.8a2.8 2.8 0 1 0 5.6 0a2.8 2.8 0 1 0 -5.6 0M1462.1 1002.3a2.8 2.8 0 1 0 5.6 0a2.8 2.8 0 1 0 -5.6 0M1469.1 989.0a2.8 2.8 0 1 0 5.6 0a2.8 2.8 0 1 0 -5.6 0M1476.0 1017.6a2.8 2.8 0 1 0 5.6 0a2.8 2.8 0 1 0 -5.6 0M1483.0 983.9a2.8 2.8 0 1 0 5.6 0a2.8 2.8 0 1 0 -5.6 0M1489.9 989.6a2.8 2.8 0 1 0 5.6 0a2.8 2.8 0 1 0 -5.6 0M1496.9 979.4a2.8 2.8 0 1 0 5.6 0a2.8 2.8 0 1 0 -5.6 0M1503.9 1011.9a2.8 2.8 0 1 0 5.6 0a2.8 2.8 0 1 0 -5.6 0M1510.8 1011.9a2.8 2.8 0 1 0 5.6 0a2.8 2.8 0 1 0 -5.6 0M1517.8 1030.9a2.8 2.8 0 1 0 5.6 0a2.8 2.8 0 1 0 -5.6 0M1524.7 1004.9a2.8 2.8 0 1 0 5.6 0a2.8 2.8 0 1 0 -5.6 0M1531.7 993.4a2.8 2.8 0 1 0 5.6 0a2.8 2.8 0 1 0 -5.6 0M1538.7 992.8a2.8 2.8 0 1 0 5.6 0a2.8 2.8 0 1 0 -5.6 0M1545.6 989.6a2.8 2.8 0 1 0 5.6 0a2.8 2.8 0 1 0 -5.6 0M1552.6 991.5a2.8 2.8 0 1 0 5.6 0a2.8 2.8 0 1 0 -5.6 0M1559.5 993.4a2.8 2.8 0 1 0 5.6 0a2.8 2.8 0 1 0 -5.6 0M1566.5 990.3a2.8 2.8 0 1 0 5.6 0a2.8 2.8 0 1 0 -5.6 0M1573.5 990.3a2.8 2.8 0 1 0 5.6 0a2.8 2.8 0 1 0 -5.6 0M1580.4 1013.8a2.8 2.8 0 1 0 5.6 0a2.8 2.8 0 1 0 -5.6 0M1587.4 1021.4a2.8 2.8 0 1 0 5.6 0a2.8 2.8 0 1 0 -5.6 0M1594.3 991.5a2.8 2.8 0 1 0 5.6 0a2.8 2.8 0 1 0 -5.6 0M1601.3 1013.8a2.8 2.8 0 1 0 5.6 0a2.8 2.8 0 1 0 -5.6 0M1608.3 975.6a2.8 2.8 0 1 0 5.6 0a2.8 2.8 0 1 0 -5.6 0M1615.2 1011.2a2.8 2.8 0 1 0 5.6 0a2.8 2.8 0 1 0 -5.6 0" fill="#ff0000"/>
<path d="M946.5 848.3h6.8v6.8h-6.8zM953.4 849.6h6.8v6.8h-6.8zM960.4 851.7h6.8v6.8h-6.8zM967.3 849.6h6.8v6.8h-6.8zM974.3 847.2h6.8v6.8h-6.8zM981.3 848.6h6.8v6.8h-6.8zM988.2 849.0h6.8v6.8h-6.8zM995.2 850.6h6.8v6.8h-6.8zM1002.1 849.6h6.8v6.8h-6.8zM1009.1 848.3h6.8v6.8h-6.8zM1016.1 847.7h6.8v6.8h-6.8zM1023.0 848.6h6.8v6.8h-6.8zM1030.0 848.3h6.8v6.8h-6.8zM1036.9 848.6h6.8v6.8h-6.8zM1043.9 847.2h6.8v6.8h-6.8zM1050.9 849.6h6.8v6.8h-6.8zM1057.8 851.7h6.8v6.8h-6.8zM1064.8 850.4h6.8v6.8h-6.8zM1071.7 850.6h6.8v6.8h-6.8zM1078.7 850.6h6.8v6.8h-6.8zM1085.7 849.6h6.8v6.8h-6.8zM1092.6 848.3h6.8v6.8h-6.8zM1099.6 855.1h6.8v6.8h-6.8zM1106.5 850.6h6.8v6.8h-6.8zM1113.5 848.9h6.8v6.8h-6.8zM1120.5 850.6h6.8v6.8h-6.8zM1127.4 853.0h6.8v6.8h-6.8zM1134.4 854.6h6.8v6.8h-6.8zM1141.3 856.0h6.8v6.8h-6.8zM1148.3 856.6h6.8v6.8h-6.8zM1155.3 858.0h6.8v6.8h-6.8zM1162.2 860.6h6.8v6.8h-6.8zM1169.2 864.0h6.8v6.8h-6.8zM1176.1 864.6h6.8v6.8h-6.8zM1183.1 865.0h6.8v6.8h-6.8zM1190.1 874.0h6.8v6.8h-6.8zM1197.0 875.1h6.8v6.8h-6.8zM1204.0 883.1h6.8v6.8h-6.8zM1210.9 876.1h6.8v6.8h-6.8zM1217.9 881.1h6.8v6.8h-6.8zM1224.9 884.1h6.8v6.8h-6.8zM1231.8 895.1h6.8v6.8h-6.8zM1238.8 898.2h6.8v6.8h-6.8zM1245.7 898.2h6.8v6.8h-6.8zM1252.7 900.2h6.8v6.8h-6.8zM1259.7 910.2h6.8v6.8h-6.8zM1266.6 908.2h6.8v6.8h-6.8zM1273.6 911.2h6.8v6.8h-6.8zM1280.5 923.3h6.8v6.8h-6.8zM1287.5 909.2h6.8v6.8h-6.8zM1294.5 930.3h6.8v6.8h-6.8zM1301.4 928.3h6.8v6.8h-6.8zM1308.4 940.3h6.8v6.8h-6.8zM1315.3 947.4h6.8v6.8h-6.8zM1322.3 955.4h6.8v6.8h-6.8zM1329.3 961.4h6.8v6.8h-6.8zM1336.2 949.4h6.8v6.8h-6.8zM1343.2 957.4h6.8v6.8h-6.8zM1350.1 966.5h6.8v6.8h-6.8zM1357.1 964.4h6.8v6.8h-6.8zM1364.1 989.6h6.8v6.8h-6.8zM1371.0 963.4h6.8v6.8h-6.8zM1378.0 966.5h6.8v6.8h-6.8zM1384.9 988.6h6.8v6.8h-6.8zM1391.9 988.6h6.8v6.8h-6.8zM1398.9 992.6h6.8v6.8h-6.8zM1405.8 996.6h6.8v6.8h-6.8zM1412.8 996.6h6.8v6.8h-6.8zM1419.7 997.0h6.8v6.8h-6.8zM1426.7 1009.1h6.8v6.8h-6.8zM1433.7 1005.3h6.8v6.8h-6.8zM1440.6 998.9h6.8v6.8h-6.8zM1447.6 988.8h6.8v6.8h-6.8zM1454.5 993.2h6.8v6.8h-6.8zM1461.5 1003.4h6.8v6.8h-6.8zM1468.5 1009.1h6.8v6.8h-6.8zM1475.4 1003.4h6.8v6.8h-6.8zM1482.4 1010.4h6.8v6.8h-6.8zM1489.3 1018.0h6.8v6.8h-6.8zM1496.3 1012.3h6.8v6.8h-6.8zM1503.3 1013.5h6.8v6.8h-6.8zM1510.2 1013.5h6.8v6.8h-6.8zM1517.2 1009.7h6.8v6.8h-6.8zM1524.1 1013.5h6.8v6.8h-6.8zM1531.1 1019.3h6.8v6.8h-6.8zM1538.1 1012.9h6.8v6.8h-6.8zM1545.0 1014.8h6.8v6.8h-6.8zM1552.0 1023.7h6.8v6.8h-6.8zM1558.9 1024.4h6.8v6.8h-6.8zM1565.9 1018.6h6.8v6.8h-6.8zM1572.9 1024.4h6.8v6.8h-6.8zM1579.8 1021.2h6.8v6.8h-6.8zM1586.8 1012.9h6.8v6.8h-6.8zM1593.7 1028.2h6.8v6.8h-6.8zM1600.7 1021.2h6.8v6.8h-6.8zM1607.7 1033.9h6.8v6.8h-6.8zM1614.6 1026.3h6.8v6.8h-6.8z" fill="#000"/>
<rect x="943.5" y="775.8" width="695.5" height="310.5" fill="none" stroke="#2e2e2e" stroke-width="2.2"/>
</g>
<g id="b3">
<path d="M300.8 1445.6v-6.5M300.8 1134.4v6.5M460.5 1445.6v-6.5M460.5 1134.4v6.5M620.2 1445.6v-6.5M620.2 1134.4v6.5M220.9 1445.6v-3.5M220.9 1134.4v3.5M380.6 1445.6v-3.5M380.6 1134.4v3.5M540.4 1445.6v-3.5M540.4 1134.4v3.5M700.1 1445.6v-3.5M700.1 1134.4v3.5M141.0 1404.9h6.5M141.0 1350.9h6.5M141.0 1296.9h6.5M141.0 1242.9h6.5M141.0 1188.9h6.5M141.0 1431.9h3.5M141.0 1377.9h3.5M141.0 1323.9h3.5M141.0 1269.9h3.5M141.0 1215.9h3.5M141.0 1161.9h3.5M780.0 1203.7h-6.5M780.0 1290.0h-6.5M780.0 1376.3h-6.5M780.0 1160.5h-3.5M780.0 1246.9h-3.5M780.0 1333.2h-3.5M780.0 1419.5h-3.5" stroke="#2e2e2e" stroke-width="1.6" fill="none"/>
<g fill="#111" stroke="#111" stroke-width="0.6"><text x="141.0" y="1472.9" text-anchor="middle">-5</text><text x="300.8" y="1472.9" text-anchor="middle">0</text><text x="460.5" y="1472.9" text-anchor="middle">5</text><text x="620.2" y="1472.9" text-anchor="middle">10</text><text x="780.0" y="1472.9" text-anchor="middle">15</text></g>
<g fill="#ff0000" stroke="#ff0000" stroke-width="0.6"><text x="132.7" y="1413.1" text-anchor="end">0.6</text><text x="132.7" y="1359.1" text-anchor="end">0.7</text><text x="132.7" y="1305.1" text-anchor="end">0.8</text><text x="132.7" y="1251.1" text-anchor="end">0.9</text><text x="132.7" y="1197.1" text-anchor="end">1.0</text><text x="132.7" y="1143.1" text-anchor="end">1.1</text></g>
<g fill="#111" stroke="#111" stroke-width="0.6"><text x="788.5" y="1211.9">0.00</text><text x="788.5" y="1298.2">0.05</text><text x="788.5" y="1384.5">0.10</text></g>
<path d="M141.8 1169.0V1220.0M148.2 1186.3V1224.7M154.6 1177.9V1218.1M160.9 1179.0V1222.2M167.3 1189.3V1226.7M173.7 1181.9V1218.1M180.1 1173.4V1220.6M186.5 1182.0V1222.0M192.8 1175.6V1222.4M199.2 1174.5V1224.3M205.6 1175.2V1216.6M212.0 1160.3V1206.7M218.4 1171.1V1205.7M224.7 1169.6V1217.0M231.1 1180.3V1216.1M237.5 1167.3V1214.3M243.9 1167.8V1209.0M250.3 1161.6V1210.2M256.6 1192.1V1236.1M263.0 1175.7V1216.3M269.4 1172.2V1207.0M275.8 1180.3V1213.7M282.2 1171.8V1217.2M288.5 1173.8V1215.2M294.9 1179.3V1214.7M301.3 1182.4V1218.6M307.7 1175.3V1216.7M314.1 1179.1V1217.9M320.4 1179.0V1218.0M326.8 1180.2V1218.8M333.2 1205.4V1248.0M339.6 1222.9V1252.7M346.0 1192.8V1234.4M352.3 1214.8V1252.6M358.7 1213.9V1255.7M365.1 1213.6V1243.8M371.5 1219.8V1247.6M377.9 1228.3V1259.3M384.2 1231.2V1260.4M390.6 1243.2V1276.8M397.0 1236.1V1265.7M403.4 1256.1V1281.9M409.8 1247.5V1276.5M416.1 1243.2V1280.8M422.5 1245.2V1282.8M428.9 1268.1V1302.1M435.3 1262.5V1291.7M441.7 1263.6V1290.6M448.0 1293.3V1329.3M454.4 1282.7V1309.7M460.8 1290.9V1319.7M467.2 1277.9V1310.5M473.6 1288.6V1316.0M479.9 1295.8V1326.8M486.3 1313.4V1339.4M492.7 1297.5V1327.1M499.1 1321.0V1356.0M505.5 1298.4V1334.4M511.8 1314.8V1350.2M518.2 1306.7V1340.1M524.6 1323.9V1361.3M531.0 1338.5V1364.7M537.4 1328.0V1355.2M543.7 1332.4V1360.8M550.1 1327.9V1363.3M556.5 1327.0V1362.2M562.9 1331.6V1363.6M569.3 1341.9V1371.5M575.6 1349.0V1378.4M582.0 1355.6V1392.0M588.4 1360.7V1392.9M594.8 1351.1V1378.3M601.2 1361.3V1386.3M607.5 1355.5V1381.3M613.9 1362.1V1387.3M620.3 1367.9V1397.5M626.7 1359.8V1388.0M633.1 1363.9V1396.7M639.4 1353.6V1378.4M645.8 1375.3V1404.3M652.2 1373.3V1400.1M658.6 1370.3V1406.1M665.0 1354.5V1388.7M671.3 1378.9V1410.3M677.7 1372.3V1408.9M684.1 1376.6V1404.6M690.5 1359.8V1394.4M696.9 1378.5V1405.9M703.2 1385.3V1421.3M709.6 1384.4V1414.4M716.0 1363.5V1398.7M722.4 1364.4V1396.2M728.8 1357.8V1383.8M735.1 1391.2V1425.0M741.5 1369.0V1396.4M747.9 1356.2V1385.4M754.3 1364.4V1396.2M760.7 1357.9V1393.1" stroke="#ff6666" stroke-width="2.4" fill="none" opacity="1.0"/>
<path d="M141.8 1194.5L148.2 1205.5L154.6 1198.0L160.9 1200.6L167.3 1208.0L173.7 1200.0L180.1 1197.0L186.5 1202.0L192.8 1199.0L199.2 1199.4L205.6 1195.9L212.0 1183.5L218.4 1188.4L224.7 1193.3L231.1 1198.2L237.5 1190.8L243.9 1188.4L250.3 1185.9L256.6 1214.1L263.0 1196.0L269.4 1189.6L275.8 1197.0L282.2 1194.5L288.5 1194.5L294.9 1197.0L301.3 1200.5L307.7 1196.0L314.1 1198.5L320.4 1198.5L326.8 1199.5L333.2 1226.7L339.6 1237.8L346.0 1213.6L352.3 1233.7L358.7 1234.8L365.1 1228.7L371.5 1233.7L377.9 1243.8L384.2 1245.8L390.6 1260.0L397.0 1250.9L403.4 1269.0L409.8 1262.0L416.1 1262.0L422.5 1264.0L428.9 1285.1L435.3 1277.1L441.7 1277.1L448.0 1311.3L454.4 1296.2L460.8 1305.3L467.2 1294.2L473.6 1302.3L479.9 1311.3L486.3 1326.4L492.7 1312.3L499.1 1338.5L505.5 1316.4L511.8 1332.5L518.2 1323.4L524.6 1342.6L531.0 1351.6L537.4 1341.6L543.7 1346.6L550.1 1345.6L556.5 1344.6L562.9 1347.6L569.3 1356.7L575.6 1363.7L582.0 1373.8L588.4 1376.8L594.8 1364.7L601.2 1373.8L607.5 1368.4L613.9 1374.7L620.3 1382.7L626.7 1373.9L633.1 1380.3L639.4 1366.0L645.8 1389.8L652.2 1386.7L658.6 1388.2L665.0 1371.6L671.3 1394.6L677.7 1390.6L684.1 1390.6L690.5 1377.1L696.9 1392.2L703.2 1403.3L709.6 1399.4L716.0 1381.1L722.4 1380.3L728.8 1370.8L735.1 1408.1L741.5 1382.7L747.9 1370.8L754.3 1380.3L760.7 1375.5" stroke="#ff2a2a" stroke-width="1.1" fill="none"/>
<path d="M141.8 1194.9V1211.3M148.2 1193.6V1214.4M154.6 1197.7V1212.3M160.9 1194.8V1213.2M167.3 1193.6V1211.4M173.7 1198.0V1214.0M180.1 1194.7V1215.3M186.5 1196.2V1211.8M192.8 1197.4V1212.6M199.2 1198.1V1213.9M205.6 1196.0V1215.0M212.0 1195.8V1212.2M218.4 1196.3V1212.7M224.7 1193.3V1214.1M231.1 1195.8V1215.2M237.5 1193.8V1214.2M243.9 1193.1V1208.7M250.3 1195.4V1210.6M256.6 1197.8V1212.7M263.0 1191.8V1209.4M269.4 1195.6V1212.4M275.8 1197.0V1214.9M282.2 1196.1V1213.9M288.5 1195.3V1214.7M294.9 1192.8V1209.9M301.3 1197.3V1213.7M307.7 1196.8V1212.2M314.1 1195.7V1217.3M320.4 1198.3V1220.9M326.8 1203.3V1221.9M333.2 1204.0V1221.2M339.6 1209.4V1229.8M346.0 1210.2V1231.0M352.3 1211.1V1234.3M358.7 1210.1V1229.1M365.1 1212.6V1232.8M371.5 1212.3V1233.1M377.9 1205.4V1229.8M384.2 1210.6V1232.8M390.6 1204.5V1230.7M397.0 1201.6V1231.6M403.4 1199.5V1235.7M409.8 1203.0V1230.2M416.1 1205.1V1234.1M422.5 1196.5V1236.7M428.9 1196.4V1232.8M435.3 1192.8V1232.4M441.7 1189.0V1230.2M448.0 1197.4V1233.8M454.4 1202.6V1238.6M460.8 1184.6V1224.4M467.2 1191.3V1243.9M473.6 1190.9V1232.3M479.9 1215.1V1256.5M486.3 1195.5V1237.7M492.7 1207.3V1250.1M499.1 1209.6V1268.0M505.5 1198.6V1256.8M511.8 1202.1V1259.3M518.2 1234.2V1281.6M524.6 1231.1V1278.7M531.0 1220.7V1272.9M537.4 1245.9V1290.1M543.7 1248.3V1303.9M550.1 1268.3V1324.1M556.5 1264.9V1315.5M562.9 1271.1V1321.3M569.3 1272.1V1326.3M575.6 1250.0V1310.2M582.0 1251.1V1305.1M588.4 1253.7V1316.5M594.8 1272.4V1334.2M601.2 1281.2V1333.4M607.5 1259.0V1323.0M613.9 1274.7V1334.9M620.3 1288.7V1347.9M626.7 1292.1V1341.5M633.1 1285.7V1338.3M639.4 1313.0V1379.2M645.8 1293.1V1351.5M652.2 1286.4V1342.4M658.6 1307.5V1360.9M665.0 1319.3V1380.9M671.3 1304.4V1357.8M677.7 1308.7V1372.5M684.1 1293.9V1357.1M690.5 1331.2V1391.2M696.9 1309.8V1369.8M703.2 1309.2V1378.4M709.6 1302.5V1372.3M716.0 1332.7V1386.7M722.4 1342.5V1397.5M728.8 1342.5V1402.3M735.1 1309.0V1375.4M741.5 1337.3V1386.7M747.9 1352.6V1412.8M754.3 1351.5V1412.3M760.7 1357.7V1418.7" stroke="#5e5e5e" stroke-width="2.2" fill="none" opacity="1.0"/>
<path d="M141.8 1203.1L148.2 1204.0L154.6 1205.0L160.9 1204.0L167.3 1202.5L173.7 1206.0L180.1 1205.0L186.5 1204.0L192.8 1205.0L199.2 1206.0L205.6 1205.5L212.0 1204.0L218.4 1204.5L224.7 1203.7L231.1 1205.5L237.5 1204.0L243.9 1200.9L250.3 1203.0L256.6 1205.3L263.0 1200.6L269.4 1204.0L275.8 1205.9L282.2 1205.0L288.5 1205.0L294.9 1201.3L301.3 1205.5L307.7 1204.5L314.1 1206.5L320.4 1209.6L326.8 1212.6L333.2 1212.6L339.6 1219.6L346.0 1220.6L352.3 1222.7L358.7 1219.6L365.1 1222.7L371.5 1222.7L377.9 1217.6L384.2 1221.7L390.6 1217.6L397.0 1216.6L403.4 1217.6L409.8 1216.6L416.1 1219.6L422.5 1216.6L428.9 1214.6L435.3 1212.6L441.7 1209.6L448.0 1215.6L454.4 1220.6L460.8 1204.5L467.2 1217.6L473.6 1211.6L479.9 1235.8L486.3 1216.6L492.7 1228.7L499.1 1238.8L505.5 1227.7L511.8 1230.7L518.2 1257.9L524.6 1254.9L531.0 1246.8L537.4 1268.0L543.7 1276.1L550.1 1296.2L556.5 1290.2L562.9 1296.2L569.3 1299.2L575.6 1280.1L582.0 1278.1L588.4 1285.1L594.8 1303.3L601.2 1307.3L607.5 1291.0L613.9 1304.8L620.3 1318.3L626.7 1316.8L633.1 1312.0L639.4 1346.1L645.8 1322.3L652.2 1314.4L658.6 1334.2L665.0 1350.1L671.3 1331.1L677.7 1340.6L684.1 1325.5L690.5 1361.2L696.9 1339.8L703.2 1343.8L709.6 1337.4L716.0 1359.7L722.4 1370.0L728.8 1372.4L735.1 1342.2L741.5 1362.0L747.9 1382.7L754.3 1381.9L760.7 1388.2" stroke="#1a1a1a" stroke-width="2.2" fill="none"/>
<path d="M139.0 1194.5a2.8 2.8 0 1 0 5.6 0a2.8 2.8 0 1 0 -5.6 0M145.4 1205.5a2.8 2.8 0 1 0 5.6 0a2.8 2.8 0 1 0 -5.6 0M151.8 1198.0a2.8 2.8 0 1 0 5.6 0a2.8 2.8 0 1 0 -5.6 0M158.1 1200.6a2.8 2.8 0 1 0 5.6 0a2.8 2.8 0 1 0 -5.6 0M164.5 1208.0a2.8 2.8 0 1 0 5.6 0a2.8 2.8 0 1 0 -5.6 0M170.9 1200.0a2.8 2.8 0 1 0 5.6 0a2.8 2.8 0 1 0 -5.6 0M177.3 1197.0a2.8 2.8 0 1 0 5.6 0a2.8 2.8 0 1 0 -5.6 0M183.7 1202.0a2.8 2.8 0 1 0 5.6 0a2.8 2.8 0 1 0 -5.6 0M190.0 1199.0a2.8 2.8 0 1 0 5.6 0a2.8 2.8 0 1 0 -5.6 0M196.4 1199.4a2.8 2.8 0 1 0 5.6 0a2.8 2.8 0 1 0 -5.6 0M202.8 1195.9a2.8 2.8 0 1 0 5.6 0a2.8 2.8 0 1 0 -5.6 0M209.2 1183.5a2.8 2.8 0 1 0 5.6 0a2.8 2.8 0 1 0 -5.6 0M215.6 1188.4a2.8 2.8 0 1 0 5.6 0a2.8 2.8 0 1 0 -5.6 0M221.9 1193.3a2.8 2.8 0 1 0 5.6 0a2.8 2.8 0 1 0 -5.6 0M228.3 1198.2a2.8 2.8 0 1 0 5.6 0a2.8 2.8 0 1 0 -5.6 0M234.7 1190.8a2.8 2.8 0 1 0 5.6 0a2.8 2.8 0 1 0 -5.6 0M241.1 1188.4a2.8 2.8 0 1 0 5.6 0a2.8 2.8 0 1 0 -5.6 0M247.5 1185.9a2.8 2.8 0 1 0 5.6 0a2.8 2.8 0 1 0 -5.6 0M253.8 1214.1a2.8 2.8 0 1 0 5.6 0a2.8 2.8 0 1 0 -5.6 0M260.2 1196.0a2.8 2.8 0 1 0 5.6 0a2.8 2.8 0 1 0 -5.6 0M266.6 1189.6a2.8 2.8 0 1 0 5.6 0a2.8 2.8 0 1 0 -5.6 0M273.0 1197.0a2.8 2.8 0 1 0 5.6 0a2.8 2.8 0 1 0 -5.6 0M279.4 1194.5a2.8 2.8 0 1 0 5.6 0a2.8 2.8 0 1 0 -5.6 0M285.7 1194.5a2.8 2.8 0 1 0 5.6 0a2.8 2.8 0 1 0 -5.6 0M292.1 1197.0a2.8 2.8 0 1 0 5.6 0a2.8 2.8 0 1 0 -5.6 0M298.5 1200.5a2.8 2.8 0 1 0 5.6 0a2.8 2.8 0 1 0 -5.6 0M304.9 1196.0a2.8 2.8 0 1 0 5.6 0a2.8 2.8 0 1 0 -5.6 0M311.3 1198.5a2.8 2.8 0 1 0 5.6 0a2.8 2.8 0 1 0 -5.6 0M317.6 1198.5a2.8 2.8 0 1 0 5.6 0a2.8 2.8 0 1 0 -5.6 0M324.0 1199.5a2.8 2.8 0 1 0 5.6 0a2.8 2.8 0 1 0 -5.6 0M330.4 1226.7a2.8 2.8 0 1 0 5.6 0a2.8 2.8 0 1 0 -5.6 0M336.8 1237.8a2.8 2.8 0 1 0 5.6 0a2.8 2.8 0 1 0 -5.6 0M343.2 1213.6a2.8 2.8 0 1 0 5.6 0a2.8 2.8 0 1 0 -5.6 0M349.5 1233.7a2.8 2.8 0 1 0 5.6 0a2.8 2.8 0 1 0 -5.6 0M355.9 1234.8a2.8 2.8 0 1 0 5.6 0a2.8 2.8 0 1 0 -5.6 0M362.3 1228.7a2.8 2.8 0 1 0 5.6 0a2.8 2.8 0 1 0 -5.6 0M368.7 1233.7a2.8 2.8 0 1 0 5.6 0a2.8 2.8 0 1 0 -5.6 0M375.1 1243.8a2.8 2.8 0 1 0 5.6 0a2.8 2.8 0 1 0 -5.6 0M381.4 1245.8a2.8 2.8 0 1 0 5.6 0a2.8 2.8 0 1 0 -5.6 0M387.8 1260.0a2.8 2.8 0 1 0 5.6 0a2.8 2.8 0 1 0 -5.6 0M394.2 1250.9a2.8 2.8 0 1 0 5.6 0a2.8 2.8 0 1 0 -5.6 0M400.6 1269.0a2.8 2.8 0 1 0 5.6 0a2.8 2.8 0 1 0 -5.6 0M407.0 1262.0a2.8 2.8 0 1 0 5.6 0a2.8 2.8 0 1 0 -5.6 0M413.3 1262.0a2.8 2.8 0 1 0 5.6 0a2.8 2.8 0 1 0 -5.6 0M419.7 1264.0a2.8 2.8 0 1 0 5.6 0a2.8 2.8 0 1 0 -5.6 0M426.1 1285.1a2.8 2.8 0 1 0 5.6 0a2.8 2.8 0 1 0 -5.6 0M432.5 1277.1a2.8 2.8 0 1 0 5.6 0a2.8 2.8 0 1 0 -5.6 0M438.9 1277.1a2.8 2.8 0 1 0 5.6 0a2.8 2.8 0 1 0 -5.6 0M445.2 1311.3a2.8 2.8 0 1 0 5.6 0a2.8 2.8 0 1 0 -5.6 0M451.6 1296.2a2.8 2.8 0 1 0 5.6 0a2.8 2.8 0 1 0 -5.6 0M458.0 1305.3a2.8 2.8 0 1 0 5.6 0a2.8 2.8 0 1 0 -5.6 0M464.4 1294.2a2.8 2.8 0 1 0 5.6 0a2.8 2.8 0 1 0 -5.6 0M470.8 1302.3a2.8 2.8 0 1 0 5.6 0a2.8 2.8 0 1 0 -5.6 0M477.1 1311.3a2.8 2.8 0 1 0 5.6 0a2.8 2.8 0 1 0 -5.6 0M483.5 1326.4a2.8 2.8 0 1 0 5.6 0a2.8 2.8 0 1 0 -5.6 0M489.9 1312.3a2.8 2.8 0 1 0 5.6 0a2.8 2.8 0 1 0 -5.6 0M496.3 1338.5a2.8 2.8 0 1 0 5.6 0a2.8 2.8 0 1 0 -5.6 0M502.7 1316.4a2.8 2.8 0 1 0 5.6 0a2.8 2.8 0 1 0 -5.6 0M509.0 1332.5a2.8 2.8 0 1 0 5.6 0a2.8 2.8 0 1 0 -5.6 0M515.4 1323.4a2.8 2.8 0 1 0 5.6 0a2.8 2.8 0 1 0 -5.6 0M521.8 1342.6a2.8 2.8 0 1 0 5.6 0a2.8 2.8 0 1 0 -5.6 0M528.2 1351.6a2.8 2.8 0 1 0 5.6 0a2.8 2.8 0 1 0 -5.6 0M534.6 1341.6a2.8 2.8 0 1 0 5.6 0a2.8 2.8 0 1 0 -5.6 0M540.9 1346.6a2.8 2.8 0 1 0 5.6 0a2.8 2.8 0 1 0 -5.6 0M547.3 1345.6a2.8 2.8 0 1 0 5.6 0a2.8 2.8 0 1 0 -5.6 0M553.7 1344.6a2.8 2.8 0 1 0 5.6 0a2.8 2.8 0 1 0 -5.6 0M560.1 1347.6a2.8 2.8 0 1 0 5.6 0a2.8 2.8 0 1 0 -5.6 0M566.5 1356.7a2.8 2.8 0 1 0 5.6 0a2.8 2.8 0 1 0 -5.6 0M572.8 1363.7a2.8 2.8 0 1 0 5.6 0a2.8 2.8 0 1 0 -5.6 0M579.2 1373.8a2.8 2.8 0 1 0 5.6 0a2.8 2.8 0 1 0 -5.6 0M585.6 1376.8a2.8 2.8 0 1 0 5.6 0a2.8 2.8 0 1 0 -5.6 0M592.0 1364.7a2.8 2.8 0 1 0 5.6 0a2.8 2.8 0 1 0 -5.6 0M598.4 1373.8a2.8 2.8 0 1 0 5.6 0a2.8 2.8 0 1 0 -5.6 0M604.7 1368.4a2.8 2.8 0 1 0 5.6 0a2.8 2.8 0 1 0 -5.6 0M611.1 1374.7a2.8 2.8 0 1 0 5.6 0a2.8 2.8 0 1 0 -5.6 0M617.5 1382.7a2.8 2.8 0 1 0 5.6 0a2.8 2.8 0 1 0 -5.6 0M623.9 1373.9a2.8 2.8 0 1 0 5.6 0a2.8 2.8 0 1 0 -5.6 0M630.3 1380.3a2.8 2.8 0 1 0 5.6 0a2.8 2.8 0 1 0 -5.6 0M636.6 1366.0a2.8 2.8 0 1 0 5.6 0a2.8 2.8 0 1 0 -5.6 0M643.0 1389.8a2.8 2.8 0 1 0 5.6 0a2.8 2.8 0 1 0 -5.6 0M649.4 1386.7a2.8 2.8 0 1 0 5.6 0a2.8 2.8 0 1 0 -5.6 0M655.8 1388.2a2.8 2.8 0 1 0 5.6 0a2.8 2.8 0 1 0 -5.6 0M662.2 1371.6a2.8 2.8 0 1 0 5.6 0a2.8 2.8 0 1 0 -5.6 0M668.5 1394.6a2.8 2.8 0 1 0 5.6 0a2.8 2.8 0 1 0 -5.6 0M674.9 1390.6a2.8 2.8 0 1 0 5.6 0a2.8 2.8 0 1 0 -5.6 0M681.3 1390.6a2.8 2.8 0 1 0 5.6 0a2.8 2.8 0 1 0 -5.6 0M687.7 1377.1a2.8 2.8 0 1 0 5.6 0a2.8 2.8 0 1 0 -5.6 0M694.1 1392.2a2.8 2.8 0 1 0 5.6 0a2.8 2.8 0 1 0 -5.6 0M700.4 1403.3a2.8 2.8 0 1 0 5.6 0a2.8 2.8 0 1 0 -5.6 0M706.8 1399.4a2.8 2.8 0 1 0 5.6 0a2.8 2.8 0 1 0 -5.6 0M713.2 1381.1a2.8 2.8 0 1 0 5.6 0a2.8 2.8 0 1 0 -5.6 0M719.6 1380.3a2.8 2.8 0 1 0 5.6 0a2.8 2.8 0 1 0 -5.6 0M726.0 1370.8a2.8 2.8 0 1 0 5.6 0a2.8 2.8 0 1 0 -5.6 0M732.3 1408.1a2.8 2.8 0 1 0 5.6 0a2.8 2.8 0 1 0 -5.6 0M738.7 1382.7a2.8 2.8 0 1 0 5.6 0a2.8 2.8 0 1 0 -5.6 0M745.1 1370.8a2.8 2.8 0 1 0 5.6 0a2.8 2.8 0 1 0 -5.6 0M751.5 1380.3a2.8 2.8 0 1 0 5.6 0a2.8 2.8 0 1 0 -5.6 0M757.9 1375.5a2.8 2.8 0 1 0 5.6 0a2.8 2.8 0 1 0 -5.6 0" fill="#ff0000"/>
<path d="M138.4 1199.7h6.8v6.8h-6.8zM144.8 1200.6h6.8v6.8h-6.8zM151.2 1201.6h6.8v6.8h-6.8zM157.5 1200.6h6.8v6.8h-6.8zM163.9 1199.1h6.8v6.8h-6.8zM170.3 1202.6h6.8v6.8h-6.8zM176.7 1201.6h6.8v6.8h-6.8zM183.1 1200.6h6.8v6.8h-6.8zM189.4 1201.6h6.8v6.8h-6.8zM195.8 1202.6h6.8v6.8h-6.8zM202.2 1202.1h6.8v6.8h-6.8zM208.6 1200.6h6.8v6.8h-6.8zM215.0 1201.1h6.8v6.8h-6.8zM221.3 1200.3h6.8v6.8h-6.8zM227.7 1202.1h6.8v6.8h-6.8zM234.1 1200.6h6.8v6.8h-6.8zM240.5 1197.5h6.8v6.8h-6.8zM246.9 1199.6h6.8v6.8h-6.8zM253.2 1201.9h6.8v6.8h-6.8zM259.6 1197.2h6.8v6.8h-6.8zM266.0 1200.6h6.8v6.8h-6.8zM272.4 1202.5h6.8v6.8h-6.8zM278.8 1201.6h6.8v6.8h-6.8zM285.1 1201.6h6.8v6.8h-6.8zM291.5 1197.9h6.8v6.8h-6.8zM297.9 1202.1h6.8v6.8h-6.8zM304.3 1201.1h6.8v6.8h-6.8zM310.7 1203.1h6.8v6.8h-6.8zM317.0 1206.2h6.8v6.8h-6.8zM323.4 1209.2h6.8v6.8h-6.8zM329.8 1209.2h6.8v6.8h-6.8zM336.2 1216.2h6.8v6.8h-6.8zM342.6 1217.2h6.8v6.8h-6.8zM348.9 1219.3h6.8v6.8h-6.8zM355.3 1216.2h6.8v6.8h-6.8zM361.7 1219.3h6.8v6.8h-6.8zM368.1 1219.3h6.8v6.8h-6.8zM374.5 1214.2h6.8v6.8h-6.8zM380.8 1218.3h6.8v6.8h-6.8zM387.2 1214.2h6.8v6.8h-6.8zM393.6 1213.2h6.8v6.8h-6.8zM400.0 1214.2h6.8v6.8h-6.8zM406.4 1213.2h6.8v6.8h-6.8zM412.7 1216.2h6.8v6.8h-6.8zM419.1 1213.2h6.8v6.8h-6.8zM425.5 1211.2h6.8v6.8h-6.8zM431.9 1209.2h6.8v6.8h-6.8zM438.3 1206.2h6.8v6.8h-6.8zM444.6 1212.2h6.8v6.8h-6.8zM451.0 1217.2h6.8v6.8h-6.8zM457.4 1201.1h6.8v6.8h-6.8zM463.8 1214.2h6.8v6.8h-6.8zM470.2 1208.2h6.8v6.8h-6.8zM476.5 1232.4h6.8v6.8h-6.8zM482.9 1213.2h6.8v6.8h-6.8zM489.3 1225.3h6.8v6.8h-6.8zM495.7 1235.4h6.8v6.8h-6.8zM502.1 1224.3h6.8v6.8h-6.8zM508.4 1227.3h6.8v6.8h-6.8zM514.8 1254.5h6.8v6.8h-6.8zM521.2 1251.5h6.8v6.8h-6.8zM527.6 1243.4h6.8v6.8h-6.8zM534.0 1264.6h6.8v6.8h-6.8zM540.3 1272.7h6.8v6.8h-6.8zM546.7 1292.8h6.8v6.8h-6.8zM553.1 1286.8h6.8v6.8h-6.8zM559.5 1292.8h6.8v6.8h-6.8zM565.9 1295.8h6.8v6.8h-6.8zM572.2 1276.7h6.8v6.8h-6.8zM578.6 1274.7h6.8v6.8h-6.8zM585.0 1281.7h6.8v6.8h-6.8zM591.4 1299.9h6.8v6.8h-6.8zM597.8 1303.9h6.8v6.8h-6.8zM604.1 1287.6h6.8v6.8h-6.8zM610.5 1301.4h6.8v6.8h-6.8zM616.9 1314.9h6.8v6.8h-6.8zM623.3 1313.4h6.8v6.8h-6.8zM629.7 1308.6h6.8v6.8h-6.8zM636.0 1342.7h6.8v6.8h-6.8zM642.4 1318.9h6.8v6.8h-6.8zM648.8 1311.0h6.8v6.8h-6.8zM655.2 1330.8h6.8v6.8h-6.8zM661.6 1346.7h6.8v6.8h-6.8zM667.9 1327.7h6.8v6.8h-6.8zM674.3 1337.2h6.8v6.8h-6.8zM680.7 1322.1h6.8v6.8h-6.8zM687.1 1357.8h6.8v6.8h-6.8zM693.5 1336.4h6.8v6.8h-6.8zM699.8 1340.4h6.8v6.8h-6.8zM706.2 1334.0h6.8v6.8h-6.8zM712.6 1356.3h6.8v6.8h-6.8zM719.0 1366.6h6.8v6.8h-6.8zM725.4 1369.0h6.8v6.8h-6.8zM731.7 1338.8h6.8v6.8h-6.8zM738.1 1358.6h6.8v6.8h-6.8zM744.5 1379.3h6.8v6.8h-6.8zM750.9 1378.5h6.8v6.8h-6.8zM757.3 1384.8h6.8v6.8h-6.8z" fill="#000"/>
<rect x="141.0" y="1134.4" width="639.0" height="311.2" fill="none" stroke="#2e2e2e" stroke-width="2.2"/>
</g>
<g id="b4">
<path d="M1117.2 1445.6v-6.5M1117.2 1134.4v6.5M1291.2 1445.6v-6.5M1291.2 1134.4v6.5M1465.1 1445.6v-6.5M1465.1 1134.4v6.5M1030.3 1445.6v-3.5M1030.3 1134.4v3.5M1204.2 1445.6v-3.5M1204.2 1134.4v3.5M1378.1 1445.6v-3.5M1378.1 1134.4v3.5M1552.0 1445.6v-3.5M1552.0 1134.4v3.5M943.3 1411.5h6.5M943.3 1365.3h6.5M943.3 1319.1h6.5M943.3 1272.9h6.5M943.3 1226.7h6.5M943.3 1180.5h6.5M943.3 1434.6h3.5M943.3 1388.4h3.5M943.3 1342.2h3.5M943.3 1296.0h3.5M943.3 1249.8h3.5M943.3 1203.6h3.5M943.3 1157.4h3.5M1639.0 1190.9h-6.5M1639.0 1261.8h-6.5M1639.0 1332.7h-6.5M1639.0 1403.6h-6.5M1639.0 1155.5h-3.5M1639.0 1226.4h-3.5M1639.0 1297.2h-3.5M1639.0 1368.2h-3.5M1639.0 1439.1h-3.5" stroke="#2e2e2e" stroke-width="1.6" fill="none"/>
<g fill="#111" stroke="#111" stroke-width="0.6"><text x="943.3" y="1472.9" text-anchor="middle">-5</text><text x="1117.2" y="1472.9" text-anchor="middle">0</text><text x="1291.2" y="1472.9" text-anchor="middle">5</text><text x="1465.1" y="1472.9" text-anchor="middle">10</text><text x="1639.0" y="1472.9" text-anchor="middle">15</text></g>
<g fill="#ff0000" stroke="#ff0000" stroke-width="0.6"><text x="935.0" y="1419.7" text-anchor="end">0.5</text><text x="935.0" y="1373.5" text-anchor="end">0.6</text><text x="935.0" y="1327.3" text-anchor="end">0.7</text><text x="935.0" y="1281.1" text-anchor="end">0.8</text><text x="935.0" y="1234.9" text-anchor="end">0.9</text><text x="935.0" y="1188.7" text-anchor="end">1.0</text><text x="935.0" y="1142.5" text-anchor="end">1.1</text></g>
<g fill="#111" stroke="#111" stroke-width="0.6"><text x="1647.5" y="1199.1">0.00</text><text x="1647.5" y="1270.0">0.05</text><text x="1647.5" y="1340.9">0.10</text><text x="1647.5" y="1411.8">0.15</text></g>
<path d="M950.4 1173.2V1203.6M957.3 1184.7V1216.5M964.3 1168.2V1201.2M971.3 1170.0V1199.4M978.2 1169.9V1194.5M985.2 1176.6V1210.0M992.1 1175.7V1208.3M999.1 1169.1V1197.9M1006.1 1169.7V1197.3M1013.0 1177.6V1206.4M1020.0 1164.7V1192.3M1026.9 1171.4V1202.8M1033.9 1165.7V1196.3M1040.9 1168.6V1198.4M1047.8 1183.8V1212.6M1054.8 1176.5V1205.1M1061.7 1177.7V1201.5M1068.7 1170.6V1196.4M1075.7 1179.8V1204.2M1082.6 1167.4V1199.6M1089.6 1168.8V1193.2M1096.5 1176.1V1203.1M1103.5 1187.4V1213.6M1110.5 1184.8V1212.2M1117.4 1187.7V1213.3M1124.4 1179.2V1209.8M1131.3 1187.3V1211.7M1138.3 1183.3V1213.7M1145.3 1188.7V1222.3M1152.2 1182.6V1212.4M1159.2 1199.2V1224.0M1166.1 1198.8V1222.4M1173.1 1198.1V1229.1M1180.1 1219.7V1247.7M1187.0 1225.7V1253.9M1194.0 1226.4V1253.2M1200.9 1232.9V1262.9M1207.9 1240.5V1271.3M1214.9 1248.0V1276.0M1221.8 1255.7V1280.3M1228.8 1252.6V1283.4M1235.7 1259.5V1292.7M1242.7 1263.4V1296.8M1249.7 1272.6V1297.6M1256.6 1268.3V1291.9M1263.6 1268.4V1301.8M1270.5 1283.3V1315.1M1277.5 1287.6V1317.0M1284.5 1288.0V1316.6M1291.4 1312.5V1338.3M1298.4 1300.6V1330.2M1305.3 1299.5V1327.1M1312.3 1309.2V1339.6M1319.3 1317.1V1341.9M1326.2 1311.8V1343.2M1333.2 1313.4V1341.6M1340.1 1326.2V1357.0M1347.1 1332.2V1355.0M1354.1 1320.0V1351.0M1361.0 1330.5V1360.7M1368.0 1335.0V1358.2M1374.9 1338.9V1366.3M1381.9 1337.1V1366.1M1388.9 1341.8V1367.6M1395.8 1339.8V1363.4M1402.8 1338.3V1366.9M1409.7 1348.1V1377.3M1416.7 1359.2V1388.4M1423.7 1355.1V1384.5M1430.6 1347.9V1371.5M1437.6 1362.4V1395.4M1444.5 1348.8V1376.6M1451.5 1354.9V1384.7M1458.5 1362.7V1388.9M1465.4 1365.2V1392.6M1472.4 1357.3V1380.3M1479.3 1349.8V1375.6M1486.3 1355.7V1385.9M1493.3 1357.4V1386.2M1500.2 1366.1V1389.5M1507.2 1354.5V1385.1M1514.1 1377.8V1406.2M1521.1 1364.9V1394.9M1528.1 1365.2V1392.6M1535.0 1382.7V1405.3M1542.0 1363.6V1396.2M1548.9 1364.3V1397.5M1555.9 1375.8V1408.2M1562.9 1359.4V1390.2M1569.8 1349.4V1376.0M1576.8 1362.4V1387.2M1583.7 1376.4V1405.4M1590.7 1356.8V1384.8M1597.7 1390.4V1415.6M1604.6 1371.1V1400.7M1611.6 1388.7V1419.3M1618.5 1363.4V1388.2M1625.5 1386.4V1409.6M1632.5 1375.3V1408.7M1639.4 1376.4V1407.6" stroke="#ff6666" stroke-width="2.4" fill="none" opacity="1.0"/>
<path d="M950.4 1188.4L957.3 1200.6L964.3 1184.7L971.3 1184.7L978.2 1182.2L985.2 1193.3L992.1 1192.0L999.1 1183.5L1006.1 1183.5L1013.0 1192.0L1020.0 1178.5L1026.9 1187.1L1033.9 1181.0L1040.9 1183.5L1047.8 1198.2L1054.8 1190.8L1061.7 1189.6L1068.7 1183.5L1075.7 1192.0L1082.6 1183.5L1089.6 1181.0L1096.5 1189.6L1103.5 1200.5L1110.5 1198.5L1117.4 1200.5L1124.4 1194.5L1131.3 1199.5L1138.3 1198.5L1145.3 1205.5L1152.2 1197.5L1159.2 1211.6L1166.1 1210.6L1173.1 1213.6L1180.1 1233.7L1187.0 1239.8L1194.0 1239.8L1200.9 1247.9L1207.9 1255.9L1214.9 1262.0L1221.8 1268.0L1228.8 1268.0L1235.7 1276.1L1242.7 1280.1L1249.7 1285.1L1256.6 1280.1L1263.6 1285.1L1270.5 1299.2L1277.5 1302.3L1284.5 1302.3L1291.4 1325.4L1298.4 1315.4L1305.3 1313.3L1312.3 1324.4L1319.3 1329.5L1326.2 1327.5L1333.2 1327.5L1340.1 1341.6L1347.1 1343.6L1354.1 1335.5L1361.0 1345.6L1368.0 1346.6L1374.9 1352.6L1381.9 1351.6L1388.9 1354.7L1395.8 1351.6L1402.8 1352.6L1409.7 1362.7L1416.7 1373.8L1423.7 1369.8L1430.6 1359.7L1437.6 1378.9L1444.5 1362.7L1451.5 1369.8L1458.5 1375.8L1465.4 1378.9L1472.4 1368.8L1479.3 1362.7L1486.3 1370.8L1493.3 1371.8L1500.2 1377.8L1507.2 1369.8L1514.1 1392.0L1521.1 1379.9L1528.1 1378.9L1535.0 1394.0L1542.0 1379.9L1548.9 1380.9L1555.9 1392.0L1562.9 1374.8L1569.8 1362.7L1576.8 1374.8L1583.7 1390.9L1590.7 1370.8L1597.7 1403.0L1604.6 1385.9L1611.6 1404.0L1618.5 1375.8L1625.5 1398.0L1632.5 1392.0L1639.4 1392.0" stroke="#ff2a2a" stroke-width="1.1" fill="none"/>
<path d="M943.4 1186.5V1195.1M950.4 1187.5V1194.5M957.3 1187.7V1195.3M964.3 1185.6V1192.8M971.3 1187.9V1196.1M978.2 1187.1V1195.9M985.2 1187.6V1194.4M992.1 1186.9V1195.7M999.1 1186.2V1195.8M1006.1 1187.2V1195.8M1013.0 1184.0V1193.0M1020.0 1187.4V1195.2M1026.9 1186.4V1194.6M1033.9 1185.3V1194.7M1040.9 1183.7V1194.1M1047.8 1185.8V1194.2M1054.8 1187.1V1194.9M1061.7 1187.2V1194.9M1068.7 1186.6V1197.4M1075.7 1187.4V1195.6M1082.6 1185.9V1196.1M1089.6 1185.4V1196.2M1096.5 1187.1V1197.7M1103.5 1188.5V1199.2M1110.5 1185.8V1195.0M1117.4 1186.7V1195.3M1124.4 1187.0V1197.8M1131.3 1188.3V1199.7M1138.3 1191.8V1201.2M1145.3 1193.4V1204.6M1152.2 1198.5V1206.5M1159.2 1199.3V1210.7M1166.1 1203.5V1211.7M1173.1 1204.1V1212.9M1180.1 1204.8V1214.4M1187.0 1205.0V1214.2M1194.0 1199.2V1213.8M1200.9 1192.9V1210.1M1207.9 1176.6V1202.2M1214.9 1169.7V1197.1M1221.8 1164.2V1194.4M1228.8 1157.9V1190.7M1235.7 1145.4V1181.0M1242.7 1141.1V1179.3M1249.7 1138.7V1177.7M1256.6 1148.5V1183.9M1263.6 1143.7V1178.7M1270.5 1140.8V1189.6M1277.5 1143.5V1180.9M1284.5 1135.7V1184.7M1291.4 1148.4V1184.0M1298.4 1145.7V1184.7M1305.3 1160.5V1198.1M1312.3 1144.9V1189.5M1319.3 1152.5V1198.1M1326.2 1140.5V1179.9M1333.2 1149.5V1201.1M1340.1 1143.2V1189.2M1347.1 1149.0V1195.6M1354.1 1161.7V1201.1M1361.0 1192.9V1234.3M1368.0 1183.6V1233.6M1374.9 1170.5V1228.5M1381.9 1200.6V1248.8M1388.9 1191.5V1239.7M1395.8 1196.6V1258.8M1402.8 1195.4V1260.0M1409.7 1222.4V1287.4M1416.7 1202.8V1268.8M1423.7 1200.8V1254.6M1430.6 1236.5V1299.5M1437.6 1218.8V1281.0M1444.5 1238.5V1305.5M1451.5 1255.1V1319.3M1458.5 1263.5V1320.9M1465.4 1270.4V1334.2M1472.4 1300.6V1362.4M1479.3 1319.2V1374.0M1486.3 1322.7V1378.5M1493.3 1316.7V1386.5M1500.2 1310.7V1380.5M1507.2 1314.7V1382.5M1514.1 1306.8V1376.4M1521.1 1310.2V1381.0M1528.1 1332.7V1402.9M1535.0 1313.0V1372.2M1542.0 1334.8V1400.8M1548.9 1324.5V1400.9M1555.9 1327.4V1384.0M1562.9 1368.9V1444.6M1569.8 1367.5V1436.5M1576.8 1354.4V1433.6M1583.7 1353.2V1414.6M1590.7 1378.5V1444.6M1597.7 1336.4V1399.2M1604.6 1358.0V1417.8M1611.6 1331.7V1389.7M1618.5 1364.5V1427.5M1625.5 1339.9V1409.7M1632.5 1343.9V1407.7" stroke="#5e5e5e" stroke-width="2.2" fill="none" opacity="1.0"/>
<path d="M943.4 1190.8L950.4 1191.0L957.3 1191.5L964.3 1189.2L971.3 1192.0L978.2 1191.5L985.2 1191.0L992.1 1191.3L999.1 1191.0L1006.1 1191.5L1013.0 1188.5L1020.0 1191.3L1026.9 1190.5L1033.9 1190.0L1040.9 1188.9L1047.8 1190.0L1054.8 1191.0L1061.7 1191.1L1068.7 1192.0L1075.7 1191.5L1082.6 1191.0L1089.6 1190.8L1096.5 1192.4L1103.5 1193.9L1110.5 1190.4L1117.4 1191.0L1124.4 1192.4L1131.3 1194.0L1138.3 1196.5L1145.3 1199.0L1152.2 1202.5L1159.2 1205.0L1166.1 1207.6L1173.1 1208.5L1180.1 1209.6L1187.0 1209.6L1194.0 1206.5L1200.9 1201.5L1207.9 1189.4L1214.9 1183.4L1221.8 1179.3L1228.8 1174.3L1235.7 1163.2L1242.7 1160.2L1249.7 1158.2L1256.6 1166.2L1263.6 1161.2L1270.5 1165.2L1277.5 1162.2L1284.5 1160.2L1291.4 1166.2L1298.4 1165.2L1305.3 1179.3L1312.3 1167.2L1319.3 1175.3L1326.2 1160.2L1333.2 1175.3L1340.1 1166.2L1347.1 1172.3L1354.1 1181.4L1361.0 1213.6L1368.0 1208.6L1374.9 1199.5L1381.9 1224.7L1388.9 1215.6L1395.8 1227.7L1402.8 1227.7L1409.7 1254.9L1416.7 1235.8L1423.7 1227.7L1430.6 1268.0L1437.6 1249.9L1444.5 1272.0L1451.5 1287.2L1458.5 1292.2L1465.4 1302.3L1472.4 1331.5L1479.3 1346.6L1486.3 1350.6L1493.3 1351.6L1500.2 1345.6L1507.2 1348.6L1514.1 1341.6L1521.1 1345.6L1528.1 1367.8L1535.0 1342.6L1542.0 1367.8L1548.9 1362.7L1555.9 1355.7L1562.9 1408.1L1569.8 1402.0L1576.8 1394.0L1583.7 1383.9L1590.7 1413.1L1597.7 1367.8L1604.6 1387.9L1611.6 1360.7L1618.5 1396.0L1625.5 1374.8L1632.5 1375.8" stroke="#1a1a1a" stroke-width="2.2" fill="none"/>
<path d="M947.6 1188.4a2.8 2.8 0 1 0 5.6 0a2.8 2.8 0 1 0 -5.6 0M954.5 1200.6a2.8 2.8 0 1 0 5.6 0a2.8 2.8 0 1 0 -5.6 0M961.5 1184.7a2.8 2.8 0 1 0 5.6 0a2.8 2.8 0 1 0 -5.6 0M968.5 1184.7a2.8 2.8 0 1 0 5.6 0a2.8 2.8 0 1 0 -5.6 0M975.4 1182.2a2.8 2.8 0 1 0 5.6 0a2.8 2.8 0 1 0 -5.6 0M982.4 1193.3a2.8 2.8 0 1 0 5.6 0a2.8 2.8 0 1 0 -5.6 0M989.3 1192.0a2.8 2.8 0 1 0 5.6 0a2.8 2.8 0 1 0 -5.6 0M996.3 1183.5a2.8 2.8 0 1 0 5.6 0a2.8 2.8 0 1 0 -5.6 0M1003.3 1183.5a2.8 2.8 0 1 0 5.6 0a2.8 2.8 0 1 0 -5.6 0M1010.2 1192.0a2.8 2.8 0 1 0 5.6 0a2.8 2.8 0 1 0 -5.6 0M1017.2 1178.5a2.8 2.8 0 1 0 5.6 0a2.8 2.8 0 1 0 -5.6 0M1024.1 1187.1a2.8 2.8 0 1 0 5.6 0a2.8 2.8 0 1 0 -5.6 0M1031.1 1181.0a2.8 2.8 0 1 0 5.6 0a2.8 2.8 0 1 0 -5.6 0M1038.1 1183.5a2.8 2.8 0 1 0 5.6 0a2.8 2.8 0 1 0 -5.6 0M1045.0 1198.2a2.8 2.8 0 1 0 5.6 0a2.8 2.8 0 1 0 -5.6 0M1052.0 1190.8a2.8 2.8 0 1 0 5.6 0a2.8 2.8 0 1 0 -5.6 0M1058.9 1189.6a2.8 2.8 0 1 0 5.6 0a2.8 2.8 0 1 0 -5.6 0M1065.9 1183.5a2.8 2.8 0 1 0 5.6 0a2.8 2.8 0 1 0 -5.6 0M1072.9 1192.0a2.8 2.8 0 1 0 5.6 0a2.8 2.8 0 1 0 -5.6 0M1079.8 1183.5a2.8 2.8 0 1 0 5.6 0a2.8 2.8 0 1 0 -5.6 0M1086.8 1181.0a2.8 2.8 0 1 0 5.6 0a2.8 2.8 0 1 0 -5.6 0M1093.7 1189.6a2.8 2.8 0 1 0 5.6 0a2.8 2.8 0 1 0 -5.6 0M1100.7 1200.5a2.8 2.8 0 1 0 5.6 0a2.8 2.8 0 1 0 -5.6 0M1107.7 1198.5a2.8 2.8 0 1 0 5.6 0a2.8 2.8 0 1 0 -5.6 0M1114.6 1200.5a2.8 2.8 0 1 0 5.6 0a2.8 2.8 0 1 0 -5.6 0M1121.6 1194.5a2.8 2.8 0 1 0 5.6 0a2.8 2.8 0 1 0 -5.6 0M1128.5 1199.5a2.8 2.8 0 1 0 5.6 0a2.8 2.8 0 1 0 -5.6 0M1135.5 1198.5a2.8 2.8 0 1 0 5.6 0a2.8 2.8 0 1 0 -5.6 0M1142.5 1205.5a2.8 2.8 0 1 0 5.6 0a2.8 2.8 0 1 0 -5.6 0M1149.4 1197.5a2.8 2.8 0 1 0 5.6 0a2.8 2.8 0 1 0 -5.6 0M1156.4 1211.6a2.8 2.8 0 1 0 5.6 0a2.8 2.8 0 1 0 -5.6 0M1163.3 1210.6a2.8 2.8 0 1 0 5.6 0a2.8 2.8 0 1 0 -5.6 0M1170.3 1213.6a2.8 2.8 0 1 0 5.6 0a2.8 2.8 0 1 0 -5.6 0M1177.3 1233.7a2.8 2.8 0 1 0 5.6 0a2.8 2.8 0 1 0 -5.6 0M1184.2 1239.8a2.8 2.8 0 1 0 5.6 0a2.8 2.8 0 1 0 -5.6 0M1191.2 1239.8a2.8 2.8 0 1 0 5.6 0a2.8 2.8 0 1 0 -5.6 0M1198.1 1247.9a2.8 2.8 0 1 0 5.6 0a2.8 2.8 0 1 0 -5.6 0M1205.1 1255.9a2.8 2.8 0 1 0 5.6 0a2.8 2.8 0 1 0 -5.6 0M1212.1 1262.0a2.8 2.8 0 1 0 5.6 0a2.8 2.8 0 1 0 -5.6 0M1219.0 1268.0a2.8 2.8 0 1 0 5.6 0a2.8 2.8 0 1 0 -5.6 0M1226.0 1268.0a2.8 2.8 0 1 0 5.6 0a2.8 2.8 0 1 0 -5.6 0M1232.9 1276.1a2.8 2.8 0 1 0 5.6 0a2.8 2.8 0 1 0 -5.6 0M1239.9 1280.1a2.8 2.8 0 1 0 5.6 0a2.8 2.8 0 1 0 -5.6 0M1246.9 1285.1a2.8 2.8 0 1 0 5.6 0a2.8 2.8 0 1 0 -5.6 0M1253.8 1280.1a2.8 2.8 0 1 0 5.6 0a2.8 2.8 0 1 0 -5.6 0M1260.8 1285.1a2.8 2.8 0 1 0 5.6 0a2.8 2.8 0 1 0 -5.6 0M1267.7 1299.2a2.8 2.8 0 1 0 5.6 0a2.8 2.8 0 1 0 -5.6 0M1274.7 1302.3a2.8 2.8 0 1 0 5.6 0a2.8 2.8 0 1 0 -5.6 0M1281.7 1302.3a2.8 2.8 0 1 0 5.6 0a2.8 2.8 0 1 0 -5.6 0M1288.6 1325.4a2.8 2.8 0 1 0 5.6 0a2.8 2.8 0 1 0 -5.6 0M1295.6 1315.4a2.8 2.8 0 1 0 5.6 0a2.8 2.8 0 1 0 -5.6 0M1302.5 1313.3a2.8 2.8 0 1 0 5.6 0a2.8 2.8 0 1 0 -5.6 0M1309.5 1324.4a2.8 2.8 0 1 0 5.6 0a2.8 2.8 0 1 0 -5.6 0M1316.5 1329.5a2.8 2.8 0 1 0 5.6 0a2.8 2.8 0 1 0 -5.6 0M1323.4 1327.5a2.8 2.8 0 1 0 5.6 0a2.8 2.8 0 1 0 -5.6 0M1330.4 1327.5a2.8 2.8 0 1 0 5.6 0a2.8 2.8 0 1 0 -5.6 0M1337.3 1341.6a2.8 2.8 0 1 0 5.6 0a2.8 2.8 0 1 0 -5.6 0M1344.3 1343.6a2.8 2.8 0 1 0 5.6 0a2.8 2.8 0 1 0 -5.6 0M1351.3 1335.5a2.8 2.8 0 1 0 5.6 0a2.8 2.8 0 1 0 -5.6 0M1358.2 1345.6a2.8 2.8 0 1 0 5.6 0a2.8 2.8 0 1 0 -5.6 0M1365.2 1346.6a2.8 2.8 0 1 0 5.6 0a2.8 2.8 0 1 0 -5.6 0M1372.1 1352.6a2.8 2.8 0 1 0 5.6 0a2.8 2.8 0 1 0 -5.6 0M1379.1 1351.6a2.8 2.8 0 1 0 5.6 0a2.8 2.8 0 1 0 -5.6 0M1386.1 1354.7a2.8 2.8 0 1 0 5.6 0a2.8 2.8 0 1 0 -5.6 0M1393.0 1351.6a2.8 2.8 0 1 0 5.6 0a2.8 2.8 0 1 0 -5.6 0M1400.0 1352.6a2.8 2.8 0 1 0 5.6 0a2.8 2.8 0 1 0 -5.6 0M1406.9 1362.7a2.8 2.8 0 1 0 5.6 0a2.8 2.8 0 1 0 -5.6 0M1413.9 1373.8a2.8 2.8 0 1 0 5.6 0a2.8 2.8 0 1 0 -5.6 0M1420.9 1369.8a2.8 2.8 0 1 0 5.6 0a2.8 2.8 0 1 0 -5.6 0M1427.8 1359.7a2.8 2.8 0 1 0 5.6 0a2.8 2.8 0 1 0 -5.6 0M1434.8 1378.9a2.8 2.8 0 1 0 5.6 0a2.8 2.8 0 1 0 -5.6 0M1441.7 1362.7a2.8 2.8 0 1 0 5.6 0a2.8 2.8 0 1 0 -5.6 0M1448.7 1369.8a2.8 2.8 0 1 0 5.6 0a2.8 2.8 0 1 0 -5.6 0M1455.7 1375.8a2.8 2.8 0 1 0 5.6 0a2.8 2.8 0 1 0 -5.6 0M1462.6 1378.9a2.8 2.8 0 1 0 5.6 0a2.8 2.8 0 1 0 -5.6 0M1469.6 1368.8a2.8 2.8 0 1 0 5.6 0a2.8 2.8 0 1 0 -5.6 0M1476.5 1362.7a2.8 2.8 0 1 0 5.6 0a2.8 2.8 0 1 0 -5.6 0M1483.5 1370.8a2.8 2.8 0 1 0 5.6 0a2.8 2.8 0 1 0 -5.6 0M1490.5 1371.8a2.8 2.8 0 1 0 5.6 0a2.8 2.8 0 1 0 -5.6 0M1497.4 1377.8a2.8 2.8 0 1 0 5.6 0a2.8 2.8 0 1 0 -5.6 0M1504.4 1369.8a2.8 2.8 0 1 0 5.6 0a2.8 2.8 0 1 0 -5.6 0M1511.3 1392.0a2.8 2.8 0 1 0 5.6 0a2.8 2.8 0 1 0 -5.6 0M1518.3 1379.9a2.8 2.8 0 1 0 5.6 0a2.8 2.8 0 1 0 -5.6 0M1525.3 1378.9a2.8 2.8 0 1 0 5.6 0a2.8 2.8 0 1 0 -5.6 0M1532.2 1394.0a2.8 2.8 0 1 0 5.6 0a2.8 2.8 0 1 0 -5.6 0M1539.2 1379.9a2.8 2.8 0 1 0 5.6 0a2.8 2.8 0 1 0 -5.6 0M1546.1 1380.9a2.8 2.8 0 1 0 5.6 0a2.8 2.8 0 1 0 -5.6 0M1553.1 1392.0a2.8 2.8 0 1 0 5.6 0a2.8 2.8 0 1 0 -5.6 0M1560.1 1374.8a2.8 2.8 0 1 0 5.6 0a2.8 2.8 0 1 0 -5.6 0M1567.0 1362.7a2.8 2.8 0 1 0 5.6 0a2.8 2.8 0 1 0 -5.6 0M1574.0 1374.8a2.8 2.8 0 1 0 5.6 0a2.8 2.8 0 1 0 -5.6 0M1580.9 1390.9a2.8 2.8 0 1 0 5.6 0a2.8 2.8 0 1 0 -5.6 0M1587.9 1370.8a2.8 2.8 0 1 0 5.6 0a2.8 2.8 0 1 0 -5.6 0M1594.9 1403.0a2.8 2.8 0 1 0 5.6 0a2.8 2.8 0 1 0 -5.6 0M1601.8 1385.9a2.8 2.8 0 1 0 5.6 0a2.8 2.8 0 1 0 -5.6 0M1608.8 1404.0a2.8 2.8 0 1 0 5.6 0a2.8 2.8 0 1 0 -5.6 0M1615.7 1375.8a2.8 2.8 0 1 0 5.6 0a2.8 2.8 0 1 0 -5.6 0M1622.7 1398.0a2.8 2.8 0 1 0 5.6 0a2.8 2.8 0 1 0 -5.6 0M1629.7 1392.0a2.8 2.8 0 1 0 5.6 0a2.8 2.8 0 1 0 -5.6 0M1636.6 1392.0a2.8 2.8 0 1 0 5.6 0a2.8 2.8 0 1 0 -5.6 0" fill="#ff0000"/>
<path d="M940.0 1187.4h6.8v6.8h-6.8zM947.0 1187.6h6.8v6.8h-6.8zM953.9 1188.1h6.8v6.8h-6.8zM960.9 1185.8h6.8v6.8h-6.8zM967.9 1188.6h6.8v6.8h-6.8zM974.8 1188.1h6.8v6.8h-6.8zM981.8 1187.6h6.8v6.8h-6.8zM988.7 1187.9h6.8v6.8h-6.8zM995.7 1187.6h6.8v6.8h-6.8zM1002.7 1188.1h6.8v6.8h-6.8zM1009.6 1185.1h6.8v6.8h-6.8zM1016.6 1187.9h6.8v6.8h-6.8zM1023.5 1187.1h6.8v6.8h-6.8zM1030.5 1186.6h6.8v6.8h-6.8zM1037.5 1185.5h6.8v6.8h-6.8zM1044.4 1186.6h6.8v6.8h-6.8zM1051.4 1187.6h6.8v6.8h-6.8zM1058.3 1187.7h6.8v6.8h-6.8zM1065.3 1188.6h6.8v6.8h-6.8zM1072.3 1188.1h6.8v6.8h-6.8zM1079.2 1187.6h6.8v6.8h-6.8zM1086.2 1187.4h6.8v6.8h-6.8zM1093.1 1189.0h6.8v6.8h-6.8zM1100.1 1190.5h6.8v6.8h-6.8zM1107.1 1187.0h6.8v6.8h-6.8zM1114.0 1187.6h6.8v6.8h-6.8zM1121.0 1189.0h6.8v6.8h-6.8zM1127.9 1190.6h6.8v6.8h-6.8zM1134.9 1193.1h6.8v6.8h-6.8zM1141.9 1195.6h6.8v6.8h-6.8zM1148.8 1199.1h6.8v6.8h-6.8zM1155.8 1201.6h6.8v6.8h-6.8zM1162.7 1204.2h6.8v6.8h-6.8zM1169.7 1205.1h6.8v6.8h-6.8zM1176.7 1206.2h6.8v6.8h-6.8zM1183.6 1206.2h6.8v6.8h-6.8zM1190.6 1203.1h6.8v6.8h-6.8zM1197.5 1198.1h6.8v6.8h-6.8zM1204.5 1186.0h6.8v6.8h-6.8zM1211.5 1180.0h6.8v6.8h-6.8zM1218.4 1175.9h6.8v6.8h-6.8zM1225.4 1170.9h6.8v6.8h-6.8zM1232.3 1159.8h6.8v6.8h-6.8zM1239.3 1156.8h6.8v6.8h-6.8zM1246.3 1154.8h6.8v6.8h-6.8zM1253.2 1162.8h6.8v6.8h-6.8zM1260.2 1157.8h6.8v6.8h-6.8zM1267.1 1161.8h6.8v6.8h-6.8zM1274.1 1158.8h6.8v6.8h-6.8zM1281.1 1156.8h6.8v6.8h-6.8zM1288.0 1162.8h6.8v6.8h-6.8zM1295.0 1161.8h6.8v6.8h-6.8zM1301.9 1175.9h6.8v6.8h-6.8zM1308.9 1163.8h6.8v6.8h-6.8zM1315.9 1171.9h6.8v6.8h-6.8zM1322.8 1156.8h6.8v6.8h-6.8zM1329.8 1171.9h6.8v6.8h-6.8zM1336.7 1162.8h6.8v6.8h-6.8zM1343.7 1168.9h6.8v6.8h-6.8zM1350.7 1178.0h6.8v6.8h-6.8zM1357.6 1210.2h6.8v6.8h-6.8zM1364.6 1205.2h6.8v6.8h-6.8zM1371.5 1196.1h6.8v6.8h-6.8zM1378.5 1221.3h6.8v6.8h-6.8zM1385.5 1212.2h6.8v6.8h-6.8zM1392.4 1224.3h6.8v6.8h-6.8zM1399.4 1224.3h6.8v6.8h-6.8zM1406.3 1251.5h6.8v6.8h-6.8zM1413.3 1232.4h6.8v6.8h-6.8zM1420.3 1224.3h6.8v6.8h-6.8zM1427.2 1264.6h6.8v6.8h-6.8zM1434.2 1246.5h6.8v6.8h-6.8zM1441.1 1268.6h6.8v6.8h-6.8zM1448.1 1283.8h6.8v6.8h-6.8zM1455.1 1288.8h6.8v6.8h-6.8zM1462.0 1298.9h6.8v6.8h-6.8zM1469.0 1328.1h6.8v6.8h-6.8zM1475.9 1343.2h6.8v6.8h-6.8zM1482.9 1347.2h6.8v6.8h-6.8zM1489.9 1348.2h6.8v6.8h-6.8zM1496.8 1342.2h6.8v6.8h-6.8zM1503.8 1345.2h6.8v6.8h-6.8zM1510.7 1338.2h6.8v6.8h-6.8zM1517.7 1342.2h6.8v6.8h-6.8zM1524.7 1364.4h6.8v6.8h-6.8zM1531.6 1339.2h6.8v6.8h-6.8zM1538.6 1364.4h6.8v6.8h-6.8zM1545.5 1359.3h6.8v6.8h-6.8zM1552.5 1352.3h6.8v6.8h-6.8zM1559.5 1404.7h6.8v6.8h-6.8zM1566.4 1398.6h6.8v6.8h-6.8zM1573.4 1390.6h6.8v6.8h-6.8zM1580.3 1380.5h6.8v6.8h-6.8zM1587.3 1409.7h6.8v6.8h-6.8zM1594.3 1364.4h6.8v6.8h-6.8zM1601.2 1384.5h6.8v6.8h-6.8zM1608.2 1357.3h6.8v6.8h-6.8zM1615.1 1392.6h6.8v6.8h-6.8zM1622.1 1371.4h6.8v6.8h-6.8zM1629.1 1372.4h6.8v6.8h-6.8z" fill="#000"/>
<rect x="943.3" y="1134.4" width="695.7" height="311.2" fill="none" stroke="#2e2e2e" stroke-width="2.2"/>
</g>
<rect x="573.5" y="58.8" width="168.9" height="47.9" fill="#000"/>
<rect x="568.5" y="53.3" width="168.9" height="47.9" fill="#fff" stroke="#9a9a9a" stroke-width="1.6"/>
<text x="570.9" y="88.9" font-size="31.3" fill="#000" stroke="#000" stroke-width="0.5">2.9 mJ cm<tspan font-size="21.5" dx="-0.5" dy="-12.8">-2</tspan></text>
<rect x="1423.5" y="58.4" width="176.8" height="47.5" fill="#000"/>
<rect x="1418.5" y="52.9" width="176.8" height="47.5" fill="#fff" stroke="#9a9a9a" stroke-width="1.6"/>
<text x="1422.8" y="90.8" font-size="32.2" fill="#000" stroke="#000" stroke-width="0.5">5.5 mJ cm<tspan font-size="21.5" dx="-0.5" dy="-13.4">-2</tspan></text>
<rect x="573.5" y="412.7" width="169.7" height="45.5" fill="#000"/>
<rect x="568.5" y="407.2" width="169.7" height="45.5" fill="#fff" stroke="#9a9a9a" stroke-width="1.6"/>
<text x="572.2" y="442.3" font-size="31.2" fill="#000" stroke="#000" stroke-width="0.5">7.1 mJ cm<tspan font-size="21.5" dx="-0.5" dy="-12.8">-2</tspan></text>
<rect x="1426.9" y="412.1" width="170.0" height="46.6" fill="#000"/>
<rect x="1421.9" y="406.6" width="170.0" height="46.6" fill="#fff" stroke="#9a9a9a" stroke-width="1.6"/>
<text x="1425.7" y="443.0" font-size="31.2" fill="#000" stroke="#000" stroke-width="0.5">9.4 mJ cm<tspan font-size="21.5" dx="-0.5" dy="-12.8">-2</tspan></text>
<rect x="164.9" y="1031.8" width="169.2" height="46.9" fill="#000"/>
<rect x="159.9" y="1026.3" width="169.2" height="46.9" fill="#fff" stroke="#9a9a9a" stroke-width="1.6"/>
<text x="162.8" y="1062.5" font-size="31.2" fill="#000" stroke="#000" stroke-width="0.5">2.9 mJ cm<tspan font-size="21.5" dx="-0.5" dy="-12.3">-2</tspan></text>
<rect x="981.3" y="1031.8" width="169.5" height="47.0" fill="#000"/>
<rect x="976.3" y="1026.3" width="169.5" height="47.0" fill="#fff" stroke="#9a9a9a" stroke-width="1.6"/>
<text x="979.5" y="1062.0" font-size="31.1" fill="#000" stroke="#000" stroke-width="0.5">5.5 mJ cm<tspan font-size="21.5" dx="-0.5" dy="-12.3">-2</tspan></text>
<rect x="165.1" y="1377.5" width="169.2" height="47.1" fill="#000"/>
<rect x="160.1" y="1372.0" width="169.2" height="47.1" fill="#fff" stroke="#9a9a9a" stroke-width="1.6"/>
<text x="163.0" y="1406.8" font-size="31.0" fill="#000" stroke="#000" stroke-width="0.5">7.1 mJ cm<tspan font-size="21.5" dx="-0.5" dy="-12.3">-2</tspan></text>
<rect x="981.0" y="1377.5" width="169.6" height="47.0" fill="#000"/>
<rect x="976.0" y="1372.0" width="169.6" height="47.0" fill="#fff" stroke="#9a9a9a" stroke-width="1.6"/>
<text x="979.2" y="1406.8" font-size="31.0" fill="#000" stroke="#000" stroke-width="0.5">9.4 mJ cm<tspan font-size="21.5" dx="-0.5" dy="-12.3">-2</tspan></text>
<path d="M80.1 150V160M80.1 218V228M80.1 287.3V297.1M80.1 925.0V935.0M80.1 1002.5999999999999V1012.5999999999999M80.1 1080.2V1090.2" stroke="#ff7070" stroke-width="1.3"/>
<path d="M874.5 1494.8h5M899.5 1493.3h5" stroke="#bbb" stroke-width="1.2"/>
<path d="M961 1495.5l6.5-2M1026 1494.6h5.5" stroke="#333" stroke-width="1.6"/>
<rect x="1103.8" y="47.6" width="252.9" height="81.4" fill="#fff" stroke="#8a8a8a" stroke-width="1.6"/>
<path d="M1108 68.8H1139M1147 68.8H1177" stroke="#ff2020" stroke-width="1.6"/>
<circle cx="1142.9" cy="68.8" r="3.2" fill="#ff0000"/>
<path d="M1108 106.4H1139M1147 106.4H1177" stroke="#222" stroke-width="1.6"/>
<rect x="1139.9" y="103.4" width="6" height="6" fill="#000"/>
<text x="1185" y="80.5" font-size="30.4" fill="#000" stroke="#000" stroke-width="0.5">Int. Intensity</text>
<text x="1185" y="117.3" font-size="30.4" fill="#000" stroke="#000" stroke-width="0.5">Peak Shift</text>
<text transform="translate(36.5 495.5) rotate(-90)" font-size="37.5" fill="#ff0000" textLength="272" lengthAdjust="spacingAndGlyphs">Norm. Intensity</text>
<text transform="translate(36.8 1275.5) rotate(-90)" font-size="37.5" fill="#ff0000" textLength="274" lengthAdjust="spacingAndGlyphs">Norm. Intensity</text>
<text transform="translate(1755.9 446.8) rotate(-90)" font-size="36" fill="#000" textLength="166" lengthAdjust="spacingAndGlyphs">Δ2θ (deg)</text>
<text transform="translate(1750.5 1220.8) rotate(-90)" font-size="36" fill="#000" textLength="168" lengthAdjust="spacingAndGlyphs">Δ2θ (deg)</text>
<text x="772.5" y="1532.7" font-size="40" fill="#000" textLength="192" lengthAdjust="spacingAndGlyphs">Delay (ps)</text>
<text x="8.3" y="68.8" font-size="42" font-weight="bold" fill="#000" textLength="37.5" lengthAdjust="spacingAndGlyphs">a)</text>
<text x="9.6" y="786.3" font-size="42" font-weight="bold" fill="#000" textLength="39.5" lengthAdjust="spacingAndGlyphs">b)</text>
</svg>
</body></html>
